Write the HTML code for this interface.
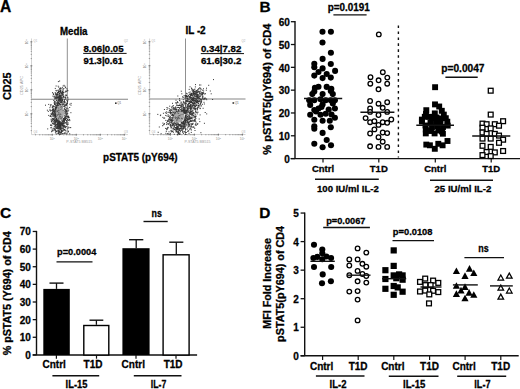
<!DOCTYPE html>
<html><head><meta charset="utf-8"><style>
html,body{margin:0;padding:0;background:#fff;overflow:hidden;width:520px;height:389px;}
svg{display:block;}
text{font-family:"Liberation Sans",sans-serif;}
</style></head><body>
<svg width="520" height="389" viewBox="0 0 520 389" font-family="Liberation Sans, sans-serif">
<defs><filter id="soft" x="-10%" y="-10%" width="120%" height="120%"><feGaussianBlur stdDeviation="0.4"/></filter></defs>
<rect width="520" height="389" fill="#fff"/>
<text x="0.1" y="11.7" font-size="15.6" text-anchor="start" font-weight="bold" fill="#000" stroke="#000" stroke-width="0.28" >A</text>
<line x1="31.5" y1="38.5" x2="31.5" y2="134.6" stroke="#c8c8c8" stroke-width="0.8" />
<line x1="31.5" y1="134.6" x2="128" y2="134.6" stroke="#c8c8c8" stroke-width="0.8" />
<line x1="30.7" y1="130.58" x2="32" y2="130.58" stroke="#8a8a8a" stroke-width="0.8" />
<line x1="35.52" y1="134.1" x2="35.52" y2="135.4" stroke="#8a8a8a" stroke-width="0.8" />
<line x1="30.7" y1="126.35" x2="32" y2="126.35" stroke="#8a8a8a" stroke-width="0.8" />
<line x1="39.75" y1="134.1" x2="39.75" y2="135.4" stroke="#8a8a8a" stroke-width="0.8" />
<line x1="30.7" y1="123.35" x2="32" y2="123.35" stroke="#8a8a8a" stroke-width="0.8" />
<line x1="42.75" y1="134.1" x2="42.75" y2="135.4" stroke="#8a8a8a" stroke-width="0.8" />
<line x1="30.7" y1="121.02" x2="32" y2="121.02" stroke="#8a8a8a" stroke-width="0.8" />
<line x1="45.08" y1="134.1" x2="45.08" y2="135.4" stroke="#8a8a8a" stroke-width="0.8" />
<line x1="30.7" y1="119.12" x2="32" y2="119.12" stroke="#8a8a8a" stroke-width="0.8" />
<line x1="46.98" y1="134.1" x2="46.98" y2="135.4" stroke="#8a8a8a" stroke-width="0.8" />
<line x1="30.7" y1="117.52" x2="32" y2="117.52" stroke="#8a8a8a" stroke-width="0.8" />
<line x1="48.58" y1="134.1" x2="48.58" y2="135.4" stroke="#8a8a8a" stroke-width="0.8" />
<line x1="30.7" y1="116.13" x2="32" y2="116.13" stroke="#8a8a8a" stroke-width="0.8" />
<line x1="49.97" y1="134.1" x2="49.97" y2="135.4" stroke="#8a8a8a" stroke-width="0.8" />
<line x1="30.7" y1="114.9" x2="32" y2="114.9" stroke="#8a8a8a" stroke-width="0.8" />
<line x1="51.2" y1="134.1" x2="51.2" y2="135.4" stroke="#8a8a8a" stroke-width="0.8" />
<line x1="30.4" y1="113.8" x2="32.3" y2="113.8" stroke="#555" stroke-width="0.8" />
<line x1="52.3" y1="133.8" x2="52.3" y2="135.7" stroke="#555" stroke-width="0.8" />
<line x1="30.7" y1="106.58" x2="32" y2="106.58" stroke="#8a8a8a" stroke-width="0.8" />
<line x1="59.52" y1="134.1" x2="59.52" y2="135.4" stroke="#8a8a8a" stroke-width="0.8" />
<line x1="30.7" y1="102.35" x2="32" y2="102.35" stroke="#8a8a8a" stroke-width="0.8" />
<line x1="63.75" y1="134.1" x2="63.75" y2="135.4" stroke="#8a8a8a" stroke-width="0.8" />
<line x1="30.7" y1="99.35" x2="32" y2="99.35" stroke="#8a8a8a" stroke-width="0.8" />
<line x1="66.75" y1="134.1" x2="66.75" y2="135.4" stroke="#8a8a8a" stroke-width="0.8" />
<line x1="30.7" y1="97.02" x2="32" y2="97.02" stroke="#8a8a8a" stroke-width="0.8" />
<line x1="69.08" y1="134.1" x2="69.08" y2="135.4" stroke="#8a8a8a" stroke-width="0.8" />
<line x1="30.7" y1="95.12" x2="32" y2="95.12" stroke="#8a8a8a" stroke-width="0.8" />
<line x1="70.98" y1="134.1" x2="70.98" y2="135.4" stroke="#8a8a8a" stroke-width="0.8" />
<line x1="30.7" y1="93.52" x2="32" y2="93.52" stroke="#8a8a8a" stroke-width="0.8" />
<line x1="72.58" y1="134.1" x2="72.58" y2="135.4" stroke="#8a8a8a" stroke-width="0.8" />
<line x1="30.7" y1="92.13" x2="32" y2="92.13" stroke="#8a8a8a" stroke-width="0.8" />
<line x1="73.97" y1="134.1" x2="73.97" y2="135.4" stroke="#8a8a8a" stroke-width="0.8" />
<line x1="30.7" y1="90.9" x2="32" y2="90.9" stroke="#8a8a8a" stroke-width="0.8" />
<line x1="75.2" y1="134.1" x2="75.2" y2="135.4" stroke="#8a8a8a" stroke-width="0.8" />
<line x1="30.4" y1="89.8" x2="32.3" y2="89.8" stroke="#555" stroke-width="0.8" />
<line x1="76.3" y1="133.8" x2="76.3" y2="135.7" stroke="#555" stroke-width="0.8" />
<line x1="30.7" y1="82.58" x2="32" y2="82.58" stroke="#8a8a8a" stroke-width="0.8" />
<line x1="83.52" y1="134.1" x2="83.52" y2="135.4" stroke="#8a8a8a" stroke-width="0.8" />
<line x1="30.7" y1="78.35" x2="32" y2="78.35" stroke="#8a8a8a" stroke-width="0.8" />
<line x1="87.75" y1="134.1" x2="87.75" y2="135.4" stroke="#8a8a8a" stroke-width="0.8" />
<line x1="30.7" y1="75.35" x2="32" y2="75.35" stroke="#8a8a8a" stroke-width="0.8" />
<line x1="90.75" y1="134.1" x2="90.75" y2="135.4" stroke="#8a8a8a" stroke-width="0.8" />
<line x1="30.7" y1="73.02" x2="32" y2="73.02" stroke="#8a8a8a" stroke-width="0.8" />
<line x1="93.08" y1="134.1" x2="93.08" y2="135.4" stroke="#8a8a8a" stroke-width="0.8" />
<line x1="30.7" y1="71.12" x2="32" y2="71.12" stroke="#8a8a8a" stroke-width="0.8" />
<line x1="94.98" y1="134.1" x2="94.98" y2="135.4" stroke="#8a8a8a" stroke-width="0.8" />
<line x1="30.7" y1="69.52" x2="32" y2="69.52" stroke="#8a8a8a" stroke-width="0.8" />
<line x1="96.58" y1="134.1" x2="96.58" y2="135.4" stroke="#8a8a8a" stroke-width="0.8" />
<line x1="30.7" y1="68.13" x2="32" y2="68.13" stroke="#8a8a8a" stroke-width="0.8" />
<line x1="97.97" y1="134.1" x2="97.97" y2="135.4" stroke="#8a8a8a" stroke-width="0.8" />
<line x1="30.7" y1="66.9" x2="32" y2="66.9" stroke="#8a8a8a" stroke-width="0.8" />
<line x1="99.2" y1="134.1" x2="99.2" y2="135.4" stroke="#8a8a8a" stroke-width="0.8" />
<line x1="30.4" y1="65.8" x2="32.3" y2="65.8" stroke="#555" stroke-width="0.8" />
<line x1="100.3" y1="133.8" x2="100.3" y2="135.7" stroke="#555" stroke-width="0.8" />
<line x1="30.7" y1="58.58" x2="32" y2="58.58" stroke="#8a8a8a" stroke-width="0.8" />
<line x1="107.52" y1="134.1" x2="107.52" y2="135.4" stroke="#8a8a8a" stroke-width="0.8" />
<line x1="30.7" y1="54.35" x2="32" y2="54.35" stroke="#8a8a8a" stroke-width="0.8" />
<line x1="111.75" y1="134.1" x2="111.75" y2="135.4" stroke="#8a8a8a" stroke-width="0.8" />
<line x1="30.7" y1="51.35" x2="32" y2="51.35" stroke="#8a8a8a" stroke-width="0.8" />
<line x1="114.75" y1="134.1" x2="114.75" y2="135.4" stroke="#8a8a8a" stroke-width="0.8" />
<line x1="30.7" y1="49.02" x2="32" y2="49.02" stroke="#8a8a8a" stroke-width="0.8" />
<line x1="117.08" y1="134.1" x2="117.08" y2="135.4" stroke="#8a8a8a" stroke-width="0.8" />
<line x1="30.7" y1="47.12" x2="32" y2="47.12" stroke="#8a8a8a" stroke-width="0.8" />
<line x1="118.98" y1="134.1" x2="118.98" y2="135.4" stroke="#8a8a8a" stroke-width="0.8" />
<line x1="30.7" y1="45.52" x2="32" y2="45.52" stroke="#8a8a8a" stroke-width="0.8" />
<line x1="120.58" y1="134.1" x2="120.58" y2="135.4" stroke="#8a8a8a" stroke-width="0.8" />
<line x1="30.7" y1="44.13" x2="32" y2="44.13" stroke="#8a8a8a" stroke-width="0.8" />
<line x1="121.97" y1="134.1" x2="121.97" y2="135.4" stroke="#8a8a8a" stroke-width="0.8" />
<line x1="30.7" y1="42.9" x2="32" y2="42.9" stroke="#8a8a8a" stroke-width="0.8" />
<line x1="123.2" y1="134.1" x2="123.2" y2="135.4" stroke="#8a8a8a" stroke-width="0.8" />
<line x1="30.4" y1="41.8" x2="32.3" y2="41.8" stroke="#555" stroke-width="0.8" />
<line x1="124.3" y1="133.8" x2="124.3" y2="135.7" stroke="#555" stroke-width="0.8" />
<line x1="67.3" y1="38.5" x2="67.3" y2="134.6" stroke="#909090" stroke-width="1.0" />
<line x1="31.5" y1="99.2" x2="128" y2="99.2" stroke="#858585" stroke-width="1.1" />
<text x="52.3" y="140.4" font-size="3.4" text-anchor="middle" fill="#8c8c8c">10<tspan font-size="2.4" dy="-1.2">1</tspan></text>
<text transform="translate(28.3,113.8) rotate(-90)" font-size="3.4" text-anchor="middle" fill="#8c8c8c">10<tspan font-size="2.4" dy="-1.2">1</tspan></text>
<text x="76.3" y="140.4" font-size="3.4" text-anchor="middle" fill="#8c8c8c">10<tspan font-size="2.4" dy="-1.2">2</tspan></text>
<text transform="translate(28.3,89.8) rotate(-90)" font-size="3.4" text-anchor="middle" fill="#8c8c8c">10<tspan font-size="2.4" dy="-1.2">2</tspan></text>
<text x="100.3" y="140.4" font-size="3.4" text-anchor="middle" fill="#8c8c8c">10<tspan font-size="2.4" dy="-1.2">3</tspan></text>
<text transform="translate(28.3,65.8) rotate(-90)" font-size="3.4" text-anchor="middle" fill="#8c8c8c">10<tspan font-size="2.4" dy="-1.2">3</tspan></text>
<text x="124.3" y="140.4" font-size="3.4" text-anchor="middle" fill="#8c8c8c">10<tspan font-size="2.4" dy="-1.2">4</tspan></text>
<text transform="translate(28.3,41.8) rotate(-90)" font-size="3.4" text-anchor="middle" fill="#8c8c8c">10<tspan font-size="2.4" dy="-1.2">4</tspan></text>
<text x="79.3" y="143.4" font-size="3.6" text-anchor="middle" fill="#999" textLength="26" lengthAdjust="spacingAndGlyphs">P-STAT5 BB515</text>
<text transform="translate(22.5,85.5) rotate(-90)" font-size="3.6" text-anchor="middle" fill="#999" textLength="19" lengthAdjust="spacingAndGlyphs">CD25 APC</text>
<text x="33.5" y="42.0" font-size="2.8" text-anchor="start" font-weight="normal" fill="#aaa" >Q1</text>
<text x="124" y="42.0" font-size="2.8" text-anchor="start" font-weight="normal" fill="#aaa" >Q2</text>
<text x="33.5" y="132.6" font-size="2.8" text-anchor="start" font-weight="normal" fill="#aaa" >Q4</text>
<text x="124" y="132.6" font-size="2.8" text-anchor="start" font-weight="normal" fill="#aaa" >Q3</text>
<rect x="115" y="102.4" width="1.6" height="1.6" fill="#333"/>
<text x="117.2" y="104.10000000000001" font-size="3" text-anchor="start" font-weight="normal" fill="#666" >Q1</text>
<g filter="url(#soft)">
<ellipse cx="59.7" cy="112.5" rx="4.369999999999999" ry="8.075" transform="rotate(0 59.7 112.5)" fill="#ababab"/>
<rect x="60.6" y="127.0" width="1.0" height="1.0" fill="#333"/>
<rect x="55.4" y="125.0" width="1.0" height="1.0" fill="#333"/>
<rect x="57.3" y="127.8" width="1.0" height="1.0" fill="#333"/>
<rect x="54.9" y="122.3" width="1.0" height="1.0" fill="#333"/>
<rect x="65.2" y="109.6" width="1.0" height="1.0" fill="#333"/>
<rect x="57.1" y="124.3" width="1.0" height="1.0" fill="#333"/>
<rect x="56.6" y="114.1" width="0.9" height="0.9" fill="#555"/>
<rect x="61.5" y="133.7" width="1.0" height="1.0" fill="#333"/>
<rect x="60.9" y="132.3" width="1.0" height="1.0" fill="#333"/>
<rect x="59.8" y="99.4" width="1.0" height="1.0" fill="#333"/>
<rect x="55.2" y="108.3" width="1.0" height="1.0" fill="#333"/>
<rect x="59.2" y="123.0" width="1.0" height="1.0" fill="#333"/>
<rect x="62.4" y="124.1" width="1.0" height="1.0" fill="#333"/>
<rect x="53.4" y="123.6" width="1.0" height="1.0" fill="#333"/>
<rect x="50.9" y="121.1" width="1.0" height="1.0" fill="#333"/>
<rect x="53.6" y="122.9" width="1.0" height="1.0" fill="#333"/>
<rect x="51.2" y="116.3" width="1.0" height="1.0" fill="#333"/>
<rect x="58.3" y="126.2" width="1.0" height="1.0" fill="#333"/>
<rect x="53.7" y="96.7" width="1.0" height="1.0" fill="#333"/>
<rect x="60.5" y="122.7" width="1.0" height="1.0" fill="#333"/>
<rect x="58.5" y="125.6" width="1.0" height="1.0" fill="#333"/>
<rect x="48.2" y="114.9" width="1.0" height="1.0" fill="#333"/>
<rect x="59.1" y="120.4" width="0.9" height="0.9" fill="#555"/>
<rect x="52.6" y="108.8" width="1.0" height="1.0" fill="#333"/>
<rect x="57.2" y="102.9" width="1.0" height="1.0" fill="#333"/>
<rect x="55.0" y="116.8" width="1.0" height="1.0" fill="#333"/>
<rect x="55.7" y="121.5" width="1.0" height="1.0" fill="#333"/>
<rect x="64.0" y="126.2" width="1.0" height="1.0" fill="#333"/>
<rect x="59.2" y="126.4" width="1.0" height="1.0" fill="#333"/>
<rect x="58.8" y="122.2" width="1.0" height="1.0" fill="#333"/>
<rect x="59.8" y="126.5" width="1.0" height="1.0" fill="#333"/>
<rect x="59.6" y="113.9" width="0.9" height="0.9" fill="#555"/>
<rect x="53.9" y="114.8" width="1.0" height="1.0" fill="#333"/>
<rect x="59.6" y="115.6" width="0.9" height="0.9" fill="#555"/>
<rect x="65.3" y="117.7" width="1.0" height="1.0" fill="#333"/>
<rect x="52.5" y="108.9" width="1.0" height="1.0" fill="#333"/>
<rect x="63.1" y="126.3" width="1.0" height="1.0" fill="#333"/>
<rect x="56.5" y="121.2" width="1.0" height="1.0" fill="#333"/>
<rect x="68.1" y="109.6" width="1.0" height="1.0" fill="#333"/>
<rect x="62.7" y="120.2" width="1.0" height="1.0" fill="#333"/>
<rect x="54.0" y="120.5" width="1.0" height="1.0" fill="#333"/>
<rect x="62.3" y="133.0" width="1.0" height="1.0" fill="#333"/>
<rect x="59.0" y="125.6" width="1.0" height="1.0" fill="#333"/>
<rect x="65.6" y="113.6" width="1.0" height="1.0" fill="#333"/>
<rect x="56.3" y="120.9" width="1.0" height="1.0" fill="#333"/>
<rect x="54.1" y="100.7" width="1.0" height="1.0" fill="#333"/>
<rect x="58.4" y="97.0" width="1.0" height="1.0" fill="#333"/>
<rect x="63.3" y="120.3" width="1.0" height="1.0" fill="#333"/>
<rect x="64.3" y="110.5" width="1.0" height="1.0" fill="#333"/>
<rect x="53.5" y="110.6" width="1.0" height="1.0" fill="#333"/>
<rect x="50.5" y="104.1" width="1.0" height="1.0" fill="#333"/>
<rect x="57.3" y="101.3" width="1.0" height="1.0" fill="#333"/>
<rect x="64.8" y="98.6" width="1.0" height="1.0" fill="#333"/>
<rect x="57.9" y="131.3" width="1.0" height="1.0" fill="#333"/>
<rect x="58.2" y="122.9" width="1.0" height="1.0" fill="#333"/>
<rect x="66.0" y="104.7" width="1.0" height="1.0" fill="#333"/>
<rect x="58.8" y="122.1" width="1.0" height="1.0" fill="#333"/>
<rect x="58.4" y="132.8" width="1.0" height="1.0" fill="#333"/>
<rect x="54.4" y="118.8" width="1.0" height="1.0" fill="#333"/>
<rect x="64.4" y="122.3" width="1.0" height="1.0" fill="#333"/>
<rect x="59.2" y="124.5" width="1.0" height="1.0" fill="#333"/>
<rect x="62.2" y="116.6" width="0.9" height="0.9" fill="#555"/>
<rect x="57.8" y="132.7" width="1.0" height="1.0" fill="#333"/>
<rect x="63.9" y="99.2" width="1.0" height="1.0" fill="#333"/>
<rect x="61.9" y="124.9" width="1.0" height="1.0" fill="#333"/>
<rect x="53.6" y="113.8" width="1.0" height="1.0" fill="#333"/>
<rect x="51.9" y="114.6" width="1.0" height="1.0" fill="#333"/>
<rect x="50.3" y="104.6" width="1.0" height="1.0" fill="#333"/>
<rect x="60.0" y="127.3" width="1.0" height="1.0" fill="#333"/>
<rect x="69.2" y="107.0" width="1.0" height="1.0" fill="#333"/>
<rect x="60.2" y="126.0" width="1.0" height="1.0" fill="#333"/>
<rect x="58.4" y="125.0" width="1.0" height="1.0" fill="#333"/>
<rect x="62.4" y="124.8" width="1.0" height="1.0" fill="#333"/>
<rect x="54.8" y="106.9" width="1.0" height="1.0" fill="#333"/>
<rect x="59.0" y="103.1" width="1.0" height="1.0" fill="#333"/>
<rect x="54.7" y="96.9" width="1.0" height="1.0" fill="#333"/>
<rect x="60.4" y="123.7" width="1.0" height="1.0" fill="#333"/>
<rect x="63.6" y="121.3" width="1.0" height="1.0" fill="#333"/>
<rect x="60.1" y="133.8" width="1.0" height="1.0" fill="#333"/>
<rect x="59.7" y="127.6" width="1.0" height="1.0" fill="#333"/>
<rect x="58.8" y="124.8" width="1.0" height="1.0" fill="#333"/>
<rect x="50.5" y="127.4" width="1.0" height="1.0" fill="#333"/>
<rect x="54.3" y="110.3" width="1.0" height="1.0" fill="#333"/>
<rect x="49.9" y="116.0" width="1.0" height="1.0" fill="#333"/>
<rect x="63.0" y="102.6" width="1.0" height="1.0" fill="#333"/>
<rect x="51.6" y="130.2" width="1.0" height="1.0" fill="#333"/>
<rect x="62.6" y="95.4" width="1.0" height="1.0" fill="#333"/>
<rect x="55.6" y="107.0" width="1.0" height="1.0" fill="#333"/>
<rect x="52.5" y="118.5" width="1.0" height="1.0" fill="#333"/>
<rect x="64.8" y="119.4" width="1.0" height="1.0" fill="#333"/>
<rect x="65.6" y="115.1" width="1.0" height="1.0" fill="#333"/>
<rect x="59.0" y="127.2" width="1.0" height="1.0" fill="#333"/>
<rect x="58.1" y="97.7" width="1.0" height="1.0" fill="#333"/>
<rect x="55.0" y="110.6" width="1.0" height="1.0" fill="#333"/>
<rect x="64.1" y="118.2" width="1.0" height="1.0" fill="#333"/>
<rect x="56.5" y="124.1" width="1.0" height="1.0" fill="#333"/>
<rect x="53.7" y="120.1" width="1.0" height="1.0" fill="#333"/>
<rect x="64.8" y="110.9" width="1.0" height="1.0" fill="#333"/>
<rect x="59.4" y="103.8" width="1.0" height="1.0" fill="#333"/>
<rect x="56.2" y="119.7" width="1.0" height="1.0" fill="#333"/>
<rect x="56.8" y="124.1" width="1.0" height="1.0" fill="#333"/>
<rect x="53.2" y="115.1" width="1.0" height="1.0" fill="#333"/>
<rect x="66.6" y="123.7" width="1.0" height="1.0" fill="#333"/>
<rect x="54.7" y="113.0" width="1.0" height="1.0" fill="#333"/>
<rect x="65.5" y="116.6" width="1.0" height="1.0" fill="#333"/>
<rect x="52.9" y="109.0" width="1.0" height="1.0" fill="#333"/>
<rect x="56.5" y="126.4" width="1.0" height="1.0" fill="#333"/>
<rect x="51.6" y="120.3" width="1.0" height="1.0" fill="#333"/>
<rect x="62.5" y="121.5" width="1.0" height="1.0" fill="#333"/>
<rect x="56.9" y="123.8" width="1.0" height="1.0" fill="#333"/>
<rect x="54.4" y="129.1" width="1.0" height="1.0" fill="#333"/>
<rect x="53.9" y="117.3" width="1.0" height="1.0" fill="#333"/>
<rect x="65.2" y="110.3" width="1.0" height="1.0" fill="#333"/>
<rect x="57.4" y="110.5" width="0.9" height="0.9" fill="#555"/>
<rect x="57.1" y="127.3" width="1.0" height="1.0" fill="#333"/>
<rect x="58.0" y="96.5" width="1.0" height="1.0" fill="#333"/>
<rect x="59.4" y="98.9" width="1.0" height="1.0" fill="#333"/>
<rect x="64.5" y="116.6" width="1.0" height="1.0" fill="#333"/>
<rect x="62.3" y="126.5" width="1.0" height="1.0" fill="#333"/>
<rect x="61.0" y="122.8" width="1.0" height="1.0" fill="#333"/>
<rect x="56.8" y="105.0" width="1.0" height="1.0" fill="#333"/>
<rect x="53.2" y="110.1" width="1.0" height="1.0" fill="#333"/>
<rect x="63.5" y="133.0" width="1.0" height="1.0" fill="#333"/>
<rect x="63.6" y="119.9" width="1.0" height="1.0" fill="#333"/>
<rect x="61.7" y="126.5" width="1.0" height="1.0" fill="#333"/>
<rect x="63.0" y="128.7" width="1.0" height="1.0" fill="#333"/>
<rect x="63.4" y="118.3" width="1.0" height="1.0" fill="#333"/>
<rect x="57.3" y="120.2" width="1.0" height="1.0" fill="#333"/>
<rect x="66.0" y="122.6" width="1.0" height="1.0" fill="#333"/>
<rect x="53.8" y="111.5" width="1.0" height="1.0" fill="#333"/>
<rect x="61.5" y="117.5" width="0.9" height="0.9" fill="#555"/>
<rect x="67.6" y="116.4" width="1.0" height="1.0" fill="#333"/>
<rect x="65.8" y="117.9" width="1.0" height="1.0" fill="#333"/>
<rect x="51.9" y="109.3" width="1.0" height="1.0" fill="#333"/>
<rect x="54.8" y="115.5" width="1.0" height="1.0" fill="#333"/>
<rect x="63.0" y="126.4" width="1.0" height="1.0" fill="#333"/>
<rect x="52.1" y="112.6" width="1.0" height="1.0" fill="#333"/>
<rect x="50.0" y="109.6" width="1.0" height="1.0" fill="#333"/>
<rect x="60.4" y="102.2" width="1.0" height="1.0" fill="#333"/>
<rect x="58.2" y="121.8" width="1.0" height="1.0" fill="#333"/>
<rect x="55.5" y="107.9" width="1.0" height="1.0" fill="#333"/>
<rect x="52.6" y="113.6" width="1.0" height="1.0" fill="#333"/>
<rect x="58.6" y="117.3" width="0.9" height="0.9" fill="#555"/>
<rect x="55.0" y="121.5" width="1.0" height="1.0" fill="#333"/>
<rect x="52.1" y="111.7" width="1.0" height="1.0" fill="#333"/>
<rect x="59.0" y="100.6" width="1.0" height="1.0" fill="#333"/>
<rect x="54.9" y="131.6" width="1.0" height="1.0" fill="#333"/>
<rect x="56.4" y="97.3" width="1.0" height="1.0" fill="#333"/>
<rect x="54.9" y="114.0" width="1.0" height="1.0" fill="#333"/>
<rect x="55.4" y="119.0" width="1.0" height="1.0" fill="#333"/>
<rect x="68.2" y="116.3" width="1.0" height="1.0" fill="#333"/>
<rect x="53.2" y="100.1" width="1.0" height="1.0" fill="#333"/>
<rect x="52.9" y="119.0" width="1.0" height="1.0" fill="#333"/>
<rect x="57.3" y="122.8" width="1.0" height="1.0" fill="#333"/>
<rect x="62.6" y="125.1" width="1.0" height="1.0" fill="#333"/>
<rect x="59.7" y="125.3" width="1.0" height="1.0" fill="#333"/>
<rect x="58.0" y="127.6" width="1.0" height="1.0" fill="#333"/>
<rect x="64.4" y="127.2" width="1.0" height="1.0" fill="#333"/>
<rect x="59.2" y="129.5" width="1.0" height="1.0" fill="#333"/>
<rect x="49.6" y="115.7" width="1.0" height="1.0" fill="#333"/>
<rect x="50.6" y="124.4" width="1.0" height="1.0" fill="#333"/>
<rect x="45.0" y="104.7" width="1.0" height="1.0" fill="#333"/>
<rect x="65.2" y="112.2" width="1.0" height="1.0" fill="#333"/>
<rect x="54.1" y="101.3" width="1.0" height="1.0" fill="#333"/>
<rect x="55.2" y="109.0" width="1.0" height="1.0" fill="#333"/>
<rect x="64.3" y="116.8" width="1.0" height="1.0" fill="#333"/>
<rect x="60.0" y="125.0" width="1.0" height="1.0" fill="#333"/>
<rect x="59.5" y="125.9" width="1.0" height="1.0" fill="#333"/>
<rect x="61.7" y="120.6" width="1.0" height="1.0" fill="#333"/>
<rect x="54.7" y="122.5" width="1.0" height="1.0" fill="#333"/>
<rect x="61.5" y="132.8" width="1.0" height="1.0" fill="#333"/>
<rect x="64.1" y="103.5" width="1.0" height="1.0" fill="#333"/>
<rect x="53.7" y="109.3" width="1.0" height="1.0" fill="#333"/>
<rect x="58.7" y="103.9" width="1.0" height="1.0" fill="#333"/>
<rect x="53.5" y="128.7" width="1.0" height="1.0" fill="#333"/>
<rect x="66.9" y="119.0" width="1.0" height="1.0" fill="#333"/>
<rect x="65.7" y="103.3" width="1.0" height="1.0" fill="#333"/>
<rect x="57.3" y="122.9" width="1.0" height="1.0" fill="#333"/>
<rect x="62.7" y="128.3" width="1.0" height="1.0" fill="#333"/>
<rect x="47.8" y="110.9" width="1.0" height="1.0" fill="#333"/>
<rect x="59.7" y="122.8" width="1.0" height="1.0" fill="#333"/>
<rect x="54.6" y="127.6" width="1.0" height="1.0" fill="#333"/>
<rect x="58.1" y="127.9" width="1.0" height="1.0" fill="#333"/>
<rect x="58.5" y="127.7" width="1.0" height="1.0" fill="#333"/>
<rect x="64.5" y="129.3" width="1.0" height="1.0" fill="#333"/>
<rect x="60.8" y="123.0" width="1.0" height="1.0" fill="#333"/>
<rect x="59.3" y="103.2" width="1.0" height="1.0" fill="#333"/>
<rect x="66.0" y="115.8" width="1.0" height="1.0" fill="#333"/>
<rect x="56.9" y="119.8" width="1.0" height="1.0" fill="#333"/>
<rect x="51.3" y="125.2" width="1.0" height="1.0" fill="#333"/>
<rect x="66.2" y="113.8" width="1.0" height="1.0" fill="#333"/>
<rect x="63.3" y="130.0" width="1.0" height="1.0" fill="#333"/>
<rect x="62.2" y="123.0" width="1.0" height="1.0" fill="#333"/>
<rect x="60.2" y="125.3" width="1.0" height="1.0" fill="#333"/>
<rect x="58.2" y="126.6" width="1.0" height="1.0" fill="#333"/>
<rect x="58.4" y="120.1" width="0.9" height="0.9" fill="#555"/>
<rect x="59.5" y="94.9" width="1.0" height="1.0" fill="#333"/>
<rect x="66.0" y="110.9" width="1.0" height="1.0" fill="#333"/>
<rect x="56.5" y="127.7" width="1.0" height="1.0" fill="#333"/>
<rect x="66.4" y="112.6" width="1.0" height="1.0" fill="#333"/>
<rect x="61.5" y="106.8" width="0.9" height="0.9" fill="#555"/>
<rect x="54.4" y="105.9" width="1.0" height="1.0" fill="#333"/>
<rect x="63.1" y="120.8" width="1.0" height="1.0" fill="#333"/>
<rect x="58.3" y="124.1" width="1.0" height="1.0" fill="#333"/>
<rect x="52.3" y="118.6" width="1.0" height="1.0" fill="#333"/>
<rect x="58.3" y="123.9" width="1.0" height="1.0" fill="#333"/>
<rect x="63.2" y="120.0" width="1.0" height="1.0" fill="#333"/>
<rect x="66.0" y="110.6" width="1.0" height="1.0" fill="#333"/>
<rect x="57.9" y="129.5" width="1.0" height="1.0" fill="#333"/>
<rect x="59.3" y="123.5" width="1.0" height="1.0" fill="#333"/>
<rect x="54.9" y="125.0" width="1.0" height="1.0" fill="#333"/>
<rect x="61.3" y="128.4" width="1.0" height="1.0" fill="#333"/>
<rect x="68.2" y="120.0" width="1.0" height="1.0" fill="#333"/>
<rect x="58.4" y="112.2" width="0.9" height="0.9" fill="#555"/>
<rect x="54.7" y="121.6" width="1.0" height="1.0" fill="#333"/>
<rect x="60.7" y="122.2" width="1.0" height="1.0" fill="#333"/>
<rect x="53.8" y="129.6" width="1.0" height="1.0" fill="#333"/>
<rect x="54.4" y="120.8" width="1.0" height="1.0" fill="#333"/>
<rect x="64.9" y="126.5" width="1.0" height="1.0" fill="#333"/>
<rect x="55.3" y="130.7" width="1.0" height="1.0" fill="#333"/>
<rect x="64.1" y="118.5" width="1.0" height="1.0" fill="#333"/>
<rect x="66.0" y="103.6" width="1.0" height="1.0" fill="#333"/>
<rect x="61.7" y="104.1" width="1.0" height="1.0" fill="#333"/>
<rect x="67.9" y="131.3" width="1.0" height="1.0" fill="#333"/>
<rect x="56.7" y="128.1" width="1.0" height="1.0" fill="#333"/>
<rect x="53.3" y="122.3" width="1.0" height="1.0" fill="#333"/>
<rect x="59.5" y="132.4" width="1.0" height="1.0" fill="#333"/>
<rect x="65.8" y="126.0" width="1.0" height="1.0" fill="#333"/>
<rect x="55.2" y="115.2" width="1.0" height="1.0" fill="#333"/>
<rect x="55.5" y="117.8" width="1.0" height="1.0" fill="#333"/>
<rect x="60.2" y="131.5" width="1.0" height="1.0" fill="#333"/>
<rect x="60.6" y="101.7" width="1.0" height="1.0" fill="#333"/>
<rect x="58.9" y="124.6" width="1.0" height="1.0" fill="#333"/>
<rect x="67.5" y="124.0" width="1.0" height="1.0" fill="#333"/>
<rect x="61.9" y="102.7" width="1.0" height="1.0" fill="#333"/>
<rect x="59.5" y="127.0" width="1.0" height="1.0" fill="#333"/>
<rect x="51.9" y="111.6" width="1.0" height="1.0" fill="#333"/>
<rect x="61.0" y="122.6" width="1.0" height="1.0" fill="#333"/>
<rect x="50.7" y="118.6" width="1.0" height="1.0" fill="#333"/>
<rect x="53.1" y="93.7" width="1.0" height="1.0" fill="#333"/>
<rect x="58.6" y="131.0" width="1.0" height="1.0" fill="#333"/>
<rect x="51.8" y="119.6" width="1.0" height="1.0" fill="#333"/>
<rect x="57.7" y="119.3" width="0.9" height="0.9" fill="#555"/>
<rect x="56.3" y="104.3" width="1.0" height="1.0" fill="#333"/>
<rect x="62.1" y="129.9" width="1.0" height="1.0" fill="#333"/>
<rect x="69.2" y="133.3" width="1.0" height="1.0" fill="#333"/>
<rect x="54.1" y="102.4" width="1.0" height="1.0" fill="#333"/>
<rect x="59.1" y="124.9" width="1.0" height="1.0" fill="#333"/>
<rect x="54.2" y="123.5" width="1.0" height="1.0" fill="#333"/>
<rect x="59.8" y="128.4" width="1.0" height="1.0" fill="#333"/>
<rect x="54.2" y="121.9" width="1.0" height="1.0" fill="#333"/>
<rect x="64.2" y="108.1" width="1.0" height="1.0" fill="#333"/>
<rect x="64.0" y="129.0" width="1.0" height="1.0" fill="#333"/>
<rect x="64.1" y="105.9" width="1.0" height="1.0" fill="#333"/>
<rect x="58.7" y="124.9" width="1.0" height="1.0" fill="#333"/>
<rect x="57.6" y="120.7" width="1.0" height="1.0" fill="#333"/>
<rect x="57.8" y="120.5" width="1.0" height="1.0" fill="#333"/>
<rect x="53.6" y="110.1" width="1.0" height="1.0" fill="#333"/>
<rect x="52.9" y="105.4" width="1.0" height="1.0" fill="#333"/>
<rect x="63.7" y="105.6" width="1.0" height="1.0" fill="#333"/>
<rect x="51.7" y="112.6" width="1.0" height="1.0" fill="#333"/>
<rect x="55.8" y="100.3" width="1.0" height="1.0" fill="#333"/>
<rect x="61.0" y="102.3" width="1.0" height="1.0" fill="#333"/>
<rect x="63.8" y="120.7" width="1.0" height="1.0" fill="#333"/>
<rect x="54.0" y="103.5" width="1.0" height="1.0" fill="#333"/>
<rect x="62.8" y="125.2" width="1.0" height="1.0" fill="#333"/>
<rect x="50.9" y="114.1" width="1.0" height="1.0" fill="#333"/>
<rect x="65.2" y="132.4" width="1.0" height="1.0" fill="#333"/>
<rect x="65.2" y="106.6" width="1.0" height="1.0" fill="#333"/>
<rect x="57.6" y="105.1" width="0.9" height="0.9" fill="#555"/>
<rect x="54.3" y="119.7" width="1.0" height="1.0" fill="#333"/>
<rect x="70.5" y="104.7" width="1.0" height="1.0" fill="#333"/>
<rect x="66.3" y="121.8" width="1.0" height="1.0" fill="#333"/>
<rect x="56.5" y="122.2" width="1.0" height="1.0" fill="#333"/>
<rect x="51.9" y="122.6" width="1.0" height="1.0" fill="#333"/>
<rect x="57.6" y="122.1" width="1.0" height="1.0" fill="#333"/>
<rect x="63.6" y="101.0" width="1.0" height="1.0" fill="#333"/>
<rect x="53.8" y="114.2" width="1.0" height="1.0" fill="#333"/>
<rect x="64.0" y="120.7" width="1.0" height="1.0" fill="#333"/>
<rect x="54.7" y="97.7" width="1.0" height="1.0" fill="#333"/>
<rect x="57.3" y="123.8" width="1.0" height="1.0" fill="#333"/>
<rect x="59.1" y="131.2" width="1.0" height="1.0" fill="#333"/>
<rect x="56.9" y="97.3" width="1.0" height="1.0" fill="#333"/>
<rect x="54.8" y="125.6" width="1.0" height="1.0" fill="#333"/>
<rect x="53.6" y="128.1" width="1.0" height="1.0" fill="#333"/>
<rect x="59.1" y="125.8" width="1.0" height="1.0" fill="#333"/>
<rect x="63.2" y="118.3" width="1.0" height="1.0" fill="#333"/>
<rect x="52.6" y="106.5" width="1.0" height="1.0" fill="#333"/>
<rect x="59.3" y="122.6" width="1.0" height="1.0" fill="#333"/>
<rect x="55.0" y="94.3" width="1.0" height="1.0" fill="#333"/>
<rect x="57.0" y="123.4" width="1.0" height="1.0" fill="#333"/>
<rect x="65.9" y="133.4" width="1.0" height="1.0" fill="#333"/>
<rect x="61.0" y="130.2" width="1.0" height="1.0" fill="#333"/>
<rect x="58.3" y="131.3" width="1.0" height="1.0" fill="#333"/>
<rect x="56.0" y="131.0" width="1.0" height="1.0" fill="#333"/>
<rect x="59.1" y="97.2" width="1.0" height="1.0" fill="#333"/>
<rect x="54.5" y="101.7" width="1.0" height="1.0" fill="#333"/>
<rect x="55.3" y="116.0" width="1.0" height="1.0" fill="#333"/>
<rect x="51.7" y="128.7" width="1.0" height="1.0" fill="#333"/>
<rect x="54.5" y="127.9" width="1.0" height="1.0" fill="#333"/>
<rect x="51.4" y="110.0" width="1.0" height="1.0" fill="#333"/>
<rect x="64.2" y="125.2" width="1.0" height="1.0" fill="#333"/>
<rect x="52.6" y="105.8" width="1.0" height="1.0" fill="#333"/>
<rect x="54.5" y="114.5" width="1.0" height="1.0" fill="#333"/>
<rect x="56.0" y="105.1" width="1.0" height="1.0" fill="#333"/>
<rect x="54.3" y="118.1" width="1.0" height="1.0" fill="#333"/>
<rect x="61.0" y="131.7" width="1.0" height="1.0" fill="#333"/>
<rect x="56.1" y="119.0" width="1.0" height="1.0" fill="#333"/>
<rect x="56.0" y="106.7" width="1.0" height="1.0" fill="#333"/>
<rect x="61.2" y="105.9" width="0.9" height="0.9" fill="#555"/>
<rect x="55.0" y="130.1" width="1.0" height="1.0" fill="#333"/>
<rect x="51.2" y="121.3" width="1.0" height="1.0" fill="#333"/>
<rect x="67.5" y="110.6" width="1.0" height="1.0" fill="#333"/>
<rect x="57.9" y="123.3" width="1.0" height="1.0" fill="#333"/>
<rect x="60.4" y="114.0" width="0.9" height="0.9" fill="#555"/>
<rect x="59.2" y="124.2" width="1.0" height="1.0" fill="#333"/>
<rect x="67.7" y="122.5" width="1.0" height="1.0" fill="#333"/>
<rect x="54.7" y="111.8" width="1.0" height="1.0" fill="#333"/>
<rect x="52.4" y="113.4" width="1.0" height="1.0" fill="#333"/>
<rect x="54.8" y="101.5" width="1.0" height="1.0" fill="#333"/>
<rect x="53.4" y="113.0" width="1.0" height="1.0" fill="#333"/>
<rect x="62.6" y="104.2" width="1.0" height="1.0" fill="#333"/>
<rect x="55.1" y="108.4" width="1.0" height="1.0" fill="#333"/>
<rect x="53.2" y="117.9" width="1.0" height="1.0" fill="#333"/>
<rect x="57.7" y="121.1" width="1.0" height="1.0" fill="#333"/>
<rect x="65.4" y="104.2" width="1.0" height="1.0" fill="#333"/>
<rect x="46.9" y="109.7" width="1.0" height="1.0" fill="#333"/>
<rect x="54.6" y="123.7" width="1.0" height="1.0" fill="#333"/>
<rect x="63.9" y="132.4" width="1.0" height="1.0" fill="#333"/>
<rect x="54.6" y="124.7" width="1.0" height="1.0" fill="#333"/>
<rect x="58.0" y="113.9" width="0.9" height="0.9" fill="#555"/>
<rect x="52.7" y="130.2" width="1.0" height="1.0" fill="#333"/>
<rect x="55.0" y="103.4" width="1.0" height="1.0" fill="#333"/>
<rect x="65.4" y="130.5" width="1.0" height="1.0" fill="#333"/>
<rect x="57.5" y="92.0" width="1.0" height="1.0" fill="#333"/>
<rect x="51.0" y="131.2" width="1.0" height="1.0" fill="#333"/>
<rect x="54.4" y="103.7" width="1.0" height="1.0" fill="#333"/>
<rect x="59.1" y="121.2" width="1.0" height="1.0" fill="#333"/>
<rect x="65.0" y="119.0" width="1.0" height="1.0" fill="#333"/>
<rect x="67.5" y="127.8" width="1.0" height="1.0" fill="#333"/>
<rect x="56.6" y="119.3" width="1.0" height="1.0" fill="#333"/>
<rect x="56.0" y="99.8" width="1.0" height="1.0" fill="#333"/>
<rect x="54.7" y="129.0" width="1.0" height="1.0" fill="#333"/>
<rect x="58.8" y="121.8" width="1.0" height="1.0" fill="#333"/>
<rect x="60.4" y="116.4" width="0.9" height="0.9" fill="#555"/>
<rect x="58.3" y="112.6" width="0.9" height="0.9" fill="#555"/>
<rect x="56.9" y="123.8" width="1.0" height="1.0" fill="#333"/>
<rect x="60.3" y="122.9" width="1.0" height="1.0" fill="#333"/>
<rect x="53.3" y="108.8" width="1.0" height="1.0" fill="#333"/>
<rect x="53.4" y="116.1" width="1.0" height="1.0" fill="#333"/>
<rect x="56.6" y="126.3" width="1.0" height="1.0" fill="#333"/>
<rect x="50.2" y="124.6" width="1.0" height="1.0" fill="#333"/>
<rect x="55.0" y="113.4" width="1.0" height="1.0" fill="#333"/>
<rect x="56.9" y="123.7" width="1.0" height="1.0" fill="#333"/>
<rect x="59.7" y="113.4" width="0.9" height="0.9" fill="#555"/>
<rect x="54.0" y="115.2" width="1.0" height="1.0" fill="#333"/>
<rect x="59.9" y="131.8" width="1.0" height="1.0" fill="#333"/>
<rect x="58.7" y="121.6" width="1.0" height="1.0" fill="#333"/>
<rect x="57.4" y="133.1" width="1.0" height="1.0" fill="#333"/>
<rect x="61.7" y="124.2" width="1.0" height="1.0" fill="#333"/>
<rect x="52.0" y="130.4" width="1.0" height="1.0" fill="#333"/>
<rect x="60.4" y="123.5" width="1.0" height="1.0" fill="#333"/>
<rect x="56.4" y="127.6" width="1.0" height="1.0" fill="#333"/>
<rect x="58.2" y="132.3" width="1.0" height="1.0" fill="#333"/>
<rect x="62.1" y="120.8" width="1.0" height="1.0" fill="#333"/>
<rect x="61.2" y="123.9" width="1.0" height="1.0" fill="#333"/>
<rect x="60.2" y="128.5" width="1.0" height="1.0" fill="#333"/>
<rect x="52.6" y="111.0" width="1.0" height="1.0" fill="#333"/>
<rect x="61.7" y="120.8" width="1.0" height="1.0" fill="#333"/>
<rect x="64.4" y="109.0" width="1.0" height="1.0" fill="#333"/>
<rect x="52.4" y="115.7" width="1.0" height="1.0" fill="#333"/>
<rect x="63.4" y="118.3" width="1.0" height="1.0" fill="#333"/>
<rect x="58.7" y="121.2" width="1.0" height="1.0" fill="#333"/>
<rect x="48.2" y="103.9" width="1.0" height="1.0" fill="#333"/>
<rect x="52.7" y="127.7" width="1.0" height="1.0" fill="#333"/>
<rect x="53.6" y="123.7" width="1.0" height="1.0" fill="#333"/>
<rect x="64.9" y="116.2" width="1.0" height="1.0" fill="#333"/>
<rect x="57.7" y="122.1" width="1.0" height="1.0" fill="#333"/>
<rect x="67.0" y="101.5" width="1.0" height="1.0" fill="#333"/>
<rect x="66.3" y="123.8" width="1.0" height="1.0" fill="#333"/>
<rect x="58.2" y="100.0" width="1.0" height="1.0" fill="#333"/>
<rect x="53.8" y="126.2" width="1.0" height="1.0" fill="#333"/>
<rect x="56.2" y="120.4" width="1.0" height="1.0" fill="#333"/>
<rect x="61.0" y="129.7" width="1.0" height="1.0" fill="#333"/>
<rect x="63.7" y="118.5" width="1.0" height="1.0" fill="#333"/>
<rect x="55.9" y="130.5" width="1.0" height="1.0" fill="#333"/>
<rect x="61.0" y="131.3" width="1.0" height="1.0" fill="#333"/>
<rect x="60.9" y="125.1" width="1.0" height="1.0" fill="#333"/>
<rect x="54.9" y="105.4" width="1.0" height="1.0" fill="#333"/>
<rect x="52.1" y="123.2" width="1.0" height="1.0" fill="#333"/>
<rect x="59.1" y="93.1" width="1.0" height="1.0" fill="#333"/>
<rect x="51.8" y="107.1" width="1.0" height="1.0" fill="#333"/>
<rect x="56.7" y="131.2" width="1.0" height="1.0" fill="#333"/>
<rect x="55.5" y="106.7" width="1.0" height="1.0" fill="#333"/>
<rect x="49.4" y="107.2" width="1.0" height="1.0" fill="#333"/>
<rect x="57.8" y="130.3" width="1.0" height="1.0" fill="#333"/>
<rect x="63.2" y="118.1" width="1.0" height="1.0" fill="#333"/>
<rect x="61.0" y="131.3" width="1.0" height="1.0" fill="#333"/>
<rect x="56.7" y="120.0" width="1.0" height="1.0" fill="#333"/>
<rect x="47.2" y="128.4" width="1.0" height="1.0" fill="#333"/>
<rect x="58.8" y="125.7" width="1.0" height="1.0" fill="#333"/>
<rect x="66.8" y="116.0" width="1.0" height="1.0" fill="#333"/>
<rect x="64.3" y="111.6" width="1.0" height="1.0" fill="#333"/>
<rect x="59.1" y="123.7" width="1.0" height="1.0" fill="#333"/>
<rect x="63.3" y="122.9" width="1.0" height="1.0" fill="#333"/>
<rect x="67.9" y="115.7" width="1.0" height="1.0" fill="#333"/>
<rect x="60.2" y="101.5" width="1.0" height="1.0" fill="#333"/>
<rect x="65.2" y="105.0" width="1.0" height="1.0" fill="#333"/>
<rect x="59.2" y="124.4" width="1.0" height="1.0" fill="#333"/>
<rect x="65.8" y="112.6" width="1.0" height="1.0" fill="#333"/>
<rect x="55.0" y="120.5" width="1.0" height="1.0" fill="#333"/>
<rect x="58.5" y="128.3" width="1.0" height="1.0" fill="#333"/>
<rect x="58.4" y="123.0" width="1.0" height="1.0" fill="#333"/>
<rect x="52.7" y="123.2" width="1.0" height="1.0" fill="#333"/>
<rect x="60.8" y="123.8" width="1.0" height="1.0" fill="#333"/>
<rect x="56.4" y="120.8" width="1.0" height="1.0" fill="#333"/>
<rect x="52.6" y="109.1" width="1.0" height="1.0" fill="#333"/>
<rect x="63.9" y="117.7" width="1.0" height="1.0" fill="#333"/>
<rect x="61.5" y="98.8" width="1.0" height="1.0" fill="#333"/>
<rect x="64.1" y="101.8" width="1.0" height="1.0" fill="#333"/>
<rect x="55.5" y="116.6" width="1.0" height="1.0" fill="#333"/>
<rect x="60.2" y="117.9" width="0.9" height="0.9" fill="#555"/>
<rect x="56.2" y="106.5" width="1.0" height="1.0" fill="#333"/>
<rect x="62.3" y="122.9" width="1.0" height="1.0" fill="#333"/>
<rect x="55.2" y="114.9" width="1.0" height="1.0" fill="#333"/>
<rect x="59.6" y="129.1" width="1.0" height="1.0" fill="#333"/>
<rect x="56.5" y="126.9" width="1.0" height="1.0" fill="#333"/>
<rect x="64.6" y="114.3" width="1.0" height="1.0" fill="#333"/>
<rect x="69.1" y="119.0" width="1.0" height="1.0" fill="#333"/>
<rect x="68.1" y="126.7" width="1.0" height="1.0" fill="#333"/>
<rect x="59.6" y="96.6" width="1.0" height="1.0" fill="#333"/>
<rect x="66.0" y="107.7" width="1.0" height="1.0" fill="#333"/>
<rect x="55.0" y="109.1" width="1.0" height="1.0" fill="#333"/>
<rect x="59.8" y="109.2" width="0.9" height="0.9" fill="#555"/>
<rect x="61.3" y="119.8" width="0.9" height="0.9" fill="#555"/>
<rect x="52.1" y="118.1" width="1.0" height="1.0" fill="#333"/>
<rect x="53.0" y="120.7" width="1.0" height="1.0" fill="#333"/>
<rect x="56.0" y="118.2" width="1.0" height="1.0" fill="#333"/>
<rect x="58.7" y="132.1" width="1.0" height="1.0" fill="#333"/>
<rect x="55.4" y="119.5" width="1.0" height="1.0" fill="#333"/>
<rect x="57.7" y="124.9" width="1.0" height="1.0" fill="#333"/>
<rect x="54.8" y="109.5" width="1.0" height="1.0" fill="#333"/>
<rect x="64.3" y="115.1" width="1.0" height="1.0" fill="#333"/>
<rect x="59.2" y="127.2" width="1.0" height="1.0" fill="#333"/>
<rect x="58.3" y="107.6" width="0.9" height="0.9" fill="#555"/>
<rect x="52.3" y="112.3" width="1.0" height="1.0" fill="#333"/>
<rect x="70.4" y="112.2" width="1.0" height="1.0" fill="#333"/>
<rect x="62.4" y="122.9" width="1.0" height="1.0" fill="#333"/>
<rect x="68.4" y="118.7" width="1.0" height="1.0" fill="#333"/>
<rect x="64.6" y="130.0" width="1.0" height="1.0" fill="#333"/>
<rect x="61.5" y="119.5" width="0.9" height="0.9" fill="#555"/>
<rect x="62.3" y="122.5" width="1.0" height="1.0" fill="#333"/>
<rect x="57.1" y="104.0" width="1.0" height="1.0" fill="#333"/>
<rect x="67.8" y="115.9" width="1.0" height="1.0" fill="#333"/>
<rect x="66.8" y="116.4" width="1.0" height="1.0" fill="#333"/>
<rect x="62.3" y="97.6" width="1.0" height="1.0" fill="#333"/>
<rect x="50.4" y="124.9" width="1.0" height="1.0" fill="#333"/>
<rect x="57.8" y="120.7" width="1.0" height="1.0" fill="#333"/>
<rect x="51.9" y="105.6" width="1.0" height="1.0" fill="#333"/>
<rect x="56.0" y="119.6" width="1.0" height="1.0" fill="#333"/>
<rect x="49.1" y="109.5" width="1.0" height="1.0" fill="#333"/>
<rect x="64.7" y="116.5" width="1.0" height="1.0" fill="#333"/>
<rect x="60.4" y="127.6" width="1.0" height="1.0" fill="#333"/>
<rect x="64.2" y="107.5" width="1.0" height="1.0" fill="#333"/>
<rect x="68.0" y="130.7" width="1.0" height="1.0" fill="#333"/>
<rect x="59.4" y="124.6" width="1.0" height="1.0" fill="#333"/>
<rect x="51.4" y="112.9" width="1.0" height="1.0" fill="#333"/>
<rect x="55.4" y="124.0" width="1.0" height="1.0" fill="#333"/>
<rect x="54.0" y="103.8" width="1.0" height="1.0" fill="#333"/>
<rect x="57.1" y="101.4" width="1.0" height="1.0" fill="#333"/>
<rect x="50.5" y="113.3" width="1.0" height="1.0" fill="#333"/>
<rect x="52.7" y="112.4" width="1.0" height="1.0" fill="#333"/>
<rect x="58.8" y="97.8" width="1.0" height="1.0" fill="#333"/>
<rect x="57.9" y="121.5" width="1.0" height="1.0" fill="#333"/>
<rect x="59.0" y="104.2" width="0.9" height="0.9" fill="#555"/>
<rect x="56.9" y="111.1" width="0.9" height="0.9" fill="#555"/>
<rect x="51.9" y="106.6" width="1.0" height="1.0" fill="#333"/>
<rect x="67.4" y="107.9" width="1.0" height="1.0" fill="#333"/>
<rect x="68.0" y="116.9" width="1.0" height="1.0" fill="#333"/>
<rect x="65.1" y="122.3" width="1.0" height="1.0" fill="#333"/>
<rect x="62.4" y="122.1" width="1.0" height="1.0" fill="#333"/>
<rect x="65.6" y="109.9" width="1.0" height="1.0" fill="#333"/>
<rect x="59.0" y="121.0" width="1.0" height="1.0" fill="#333"/>
<rect x="58.0" y="98.7" width="1.0" height="1.0" fill="#333"/>
<rect x="59.7" y="128.1" width="1.0" height="1.0" fill="#333"/>
<rect x="54.5" y="120.1" width="1.0" height="1.0" fill="#333"/>
<rect x="57.7" y="126.3" width="1.0" height="1.0" fill="#333"/>
<rect x="69.3" y="120.1" width="1.0" height="1.0" fill="#333"/>
<rect x="59.0" y="126.5" width="1.0" height="1.0" fill="#333"/>
<rect x="58.2" y="118.2" width="0.9" height="0.9" fill="#555"/>
<rect x="61.6" y="128.1" width="1.0" height="1.0" fill="#333"/>
<rect x="62.4" y="128.2" width="1.0" height="1.0" fill="#333"/>
<rect x="54.4" y="116.1" width="1.0" height="1.0" fill="#333"/>
<rect x="58.4" y="130.0" width="1.0" height="1.0" fill="#333"/>
<rect x="63.3" y="118.5" width="1.0" height="1.0" fill="#333"/>
<rect x="66.1" y="114.4" width="1.0" height="1.0" fill="#333"/>
<rect x="56.3" y="124.0" width="1.0" height="1.0" fill="#333"/>
<rect x="57.0" y="122.8" width="1.0" height="1.0" fill="#333"/>
<rect x="65.9" y="120.1" width="1.0" height="1.0" fill="#333"/>
<rect x="50.7" y="119.5" width="1.0" height="1.0" fill="#333"/>
<rect x="56.4" y="97.1" width="1.0" height="1.0" fill="#333"/>
<rect x="62.2" y="122.8" width="1.0" height="1.0" fill="#333"/>
<rect x="65.4" y="117.8" width="1.0" height="1.0" fill="#333"/>
<rect x="52.4" y="95.6" width="1.0" height="1.0" fill="#333"/>
<rect x="62.6" y="123.0" width="1.0" height="1.0" fill="#333"/>
<rect x="56.4" y="124.8" width="1.0" height="1.0" fill="#333"/>
<rect x="61.7" y="100.4" width="1.0" height="1.0" fill="#333"/>
<rect x="55.3" y="123.2" width="1.0" height="1.0" fill="#333"/>
<rect x="50.2" y="114.9" width="1.0" height="1.0" fill="#333"/>
<rect x="57.7" y="124.3" width="1.0" height="1.0" fill="#333"/>
<rect x="52.7" y="108.7" width="1.0" height="1.0" fill="#333"/>
<rect x="56.4" y="111.4" width="0.9" height="0.9" fill="#555"/>
<rect x="66.3" y="110.6" width="1.0" height="1.0" fill="#333"/>
<rect x="52.6" y="107.8" width="1.0" height="1.0" fill="#333"/>
<rect x="56.0" y="127.7" width="1.0" height="1.0" fill="#333"/>
<rect x="55.3" y="132.5" width="1.0" height="1.0" fill="#333"/>
<rect x="53.9" y="110.7" width="1.0" height="1.0" fill="#333"/>
<rect x="61.2" y="101.5" width="1.0" height="1.0" fill="#333"/>
<rect x="56.5" y="127.5" width="1.0" height="1.0" fill="#333"/>
<rect x="50.6" y="127.0" width="1.0" height="1.0" fill="#333"/>
<rect x="62.4" y="124.4" width="1.0" height="1.0" fill="#333"/>
<rect x="58.8" y="127.4" width="1.0" height="1.0" fill="#333"/>
<rect x="62.1" y="104.5" width="1.0" height="1.0" fill="#333"/>
<rect x="64.7" y="125.8" width="1.0" height="1.0" fill="#333"/>
<rect x="61.1" y="117.7" width="0.9" height="0.9" fill="#555"/>
<rect x="52.9" y="111.2" width="1.0" height="1.0" fill="#333"/>
<rect x="58.6" y="124.2" width="1.0" height="1.0" fill="#333"/>
<rect x="58.2" y="133.2" width="1.0" height="1.0" fill="#333"/>
<rect x="60.2" y="121.4" width="1.0" height="1.0" fill="#333"/>
<rect x="53.3" y="106.0" width="1.0" height="1.0" fill="#333"/>
<rect x="66.5" y="120.3" width="1.0" height="1.0" fill="#333"/>
<rect x="59.8" y="129.4" width="1.0" height="1.0" fill="#333"/>
<rect x="54.0" y="112.6" width="1.0" height="1.0" fill="#333"/>
<rect x="51.8" y="110.0" width="1.0" height="1.0" fill="#333"/>
<rect x="58.1" y="126.1" width="1.0" height="1.0" fill="#333"/>
<rect x="56.1" y="107.1" width="1.0" height="1.0" fill="#333"/>
<rect x="56.5" y="110.2" width="0.9" height="0.9" fill="#555"/>
<rect x="56.1" y="118.0" width="1.0" height="1.0" fill="#333"/>
<rect x="59.1" y="127.4" width="1.0" height="1.0" fill="#333"/>
<rect x="63.6" y="123.4" width="1.0" height="1.0" fill="#333"/>
<rect x="70.6" y="102.9" width="1.0" height="1.0" fill="#333"/>
<rect x="54.9" y="120.7" width="1.0" height="1.0" fill="#333"/>
<rect x="57.3" y="125.1" width="1.0" height="1.0" fill="#333"/>
<rect x="55.6" y="121.1" width="1.0" height="1.0" fill="#333"/>
<rect x="62.8" y="126.3" width="1.0" height="1.0" fill="#333"/>
<rect x="54.2" y="112.1" width="1.0" height="1.0" fill="#333"/>
<rect x="59.2" y="125.4" width="1.0" height="1.0" fill="#333"/>
<rect x="55.0" y="107.4" width="1.0" height="1.0" fill="#333"/>
<rect x="55.1" y="97.6" width="1.0" height="1.0" fill="#333"/>
<rect x="57.2" y="126.2" width="1.0" height="1.0" fill="#333"/>
<rect x="50.1" y="110.5" width="1.0" height="1.0" fill="#333"/>
<rect x="52.9" y="114.2" width="1.0" height="1.0" fill="#333"/>
<rect x="57.5" y="104.4" width="1.0" height="1.0" fill="#333"/>
<rect x="51.5" y="113.8" width="1.0" height="1.0" fill="#333"/>
<rect x="57.3" y="120.3" width="1.0" height="1.0" fill="#333"/>
<rect x="62.8" y="96.3" width="1.0" height="1.0" fill="#333"/>
<rect x="61.7" y="123.8" width="1.0" height="1.0" fill="#333"/>
<rect x="55.4" y="107.4" width="1.0" height="1.0" fill="#333"/>
<rect x="62.1" y="123.1" width="1.0" height="1.0" fill="#333"/>
<rect x="54.2" y="103.2" width="1.0" height="1.0" fill="#333"/>
<rect x="55.8" y="133.6" width="1.0" height="1.0" fill="#333"/>
<rect x="65.7" y="109.3" width="1.0" height="1.0" fill="#333"/>
<rect x="64.4" y="118.8" width="1.0" height="1.0" fill="#333"/>
<rect x="57.2" y="129.7" width="1.0" height="1.0" fill="#333"/>
<rect x="56.7" y="126.1" width="1.0" height="1.0" fill="#333"/>
<rect x="58.6" y="110.3" width="0.9" height="0.9" fill="#555"/>
<rect x="70.2" y="127.1" width="1.0" height="1.0" fill="#333"/>
<rect x="62.7" y="110.1" width="0.9" height="0.9" fill="#555"/>
<rect x="58.9" y="134.1" width="1.0" height="1.0" fill="#333"/>
<rect x="64.6" y="118.0" width="1.0" height="1.0" fill="#333"/>
<rect x="51.6" y="120.3" width="1.0" height="1.0" fill="#333"/>
<rect x="58.1" y="109.7" width="0.9" height="0.9" fill="#555"/>
<rect x="59.4" y="123.6" width="1.0" height="1.0" fill="#333"/>
<rect x="65.1" y="127.2" width="1.0" height="1.0" fill="#333"/>
<rect x="60.7" y="127.9" width="1.0" height="1.0" fill="#333"/>
<rect x="54.5" y="111.3" width="1.0" height="1.0" fill="#333"/>
<rect x="63.1" y="118.6" width="1.0" height="1.0" fill="#333"/>
<rect x="68.5" y="117.1" width="1.0" height="1.0" fill="#333"/>
<rect x="60.4" y="122.1" width="1.0" height="1.0" fill="#333"/>
<rect x="60.0" y="98.6" width="1.0" height="1.0" fill="#333"/>
<rect x="67.2" y="113.1" width="1.0" height="1.0" fill="#333"/>
<rect x="62.6" y="105.9" width="0.9" height="0.9" fill="#555"/>
<rect x="57.4" y="122.3" width="1.0" height="1.0" fill="#333"/>
<rect x="59.8" y="104.7" width="0.9" height="0.9" fill="#555"/>
<rect x="54.3" y="120.2" width="1.0" height="1.0" fill="#333"/>
<rect x="55.0" y="126.6" width="1.0" height="1.0" fill="#333"/>
<rect x="58.2" y="126.3" width="1.0" height="1.0" fill="#333"/>
<rect x="62.2" y="131.0" width="1.0" height="1.0" fill="#333"/>
<rect x="54.6" y="114.3" width="1.0" height="1.0" fill="#333"/>
<rect x="54.6" y="126.2" width="1.0" height="1.0" fill="#333"/>
<rect x="64.3" y="119.8" width="1.0" height="1.0" fill="#333"/>
<rect x="69.5" y="127.1" width="1.0" height="1.0" fill="#333"/>
<rect x="68.2" y="117.1" width="1.0" height="1.0" fill="#333"/>
<rect x="58.3" y="127.8" width="1.0" height="1.0" fill="#333"/>
<rect x="62.6" y="124.6" width="1.0" height="1.0" fill="#333"/>
<rect x="59.8" y="123.4" width="1.0" height="1.0" fill="#333"/>
<rect x="59.7" y="121.5" width="1.0" height="1.0" fill="#333"/>
<rect x="66.1" y="120.6" width="1.0" height="1.0" fill="#333"/>
<rect x="53.5" y="119.1" width="1.0" height="1.0" fill="#333"/>
<rect x="63.9" y="119.0" width="1.0" height="1.0" fill="#333"/>
<rect x="59.1" y="125.9" width="1.0" height="1.0" fill="#333"/>
<rect x="65.5" y="112.4" width="1.0" height="1.0" fill="#333"/>
<rect x="60.1" y="132.6" width="1.0" height="1.0" fill="#333"/>
<rect x="60.5" y="125.9" width="1.0" height="1.0" fill="#333"/>
<rect x="49.9" y="105.5" width="1.0" height="1.0" fill="#333"/>
<rect x="63.9" y="125.4" width="1.0" height="1.0" fill="#333"/>
<rect x="56.2" y="120.2" width="1.0" height="1.0" fill="#333"/>
<rect x="58.5" y="123.0" width="1.0" height="1.0" fill="#333"/>
<rect x="64.5" y="133.2" width="1.0" height="1.0" fill="#333"/>
<rect x="53.2" y="110.7" width="1.0" height="1.0" fill="#333"/>
<rect x="64.5" y="122.4" width="1.0" height="1.0" fill="#333"/>
<rect x="56.5" y="119.7" width="1.0" height="1.0" fill="#333"/>
<rect x="54.5" y="107.8" width="1.0" height="1.0" fill="#333"/>
<rect x="64.8" y="116.8" width="1.0" height="1.0" fill="#333"/>
<rect x="58.9" y="114.6" width="0.9" height="0.9" fill="#555"/>
<rect x="53.6" y="96.1" width="1.0" height="1.0" fill="#333"/>
<rect x="57.7" y="122.4" width="1.0" height="1.0" fill="#333"/>
<rect x="63.4" y="121.9" width="1.0" height="1.0" fill="#333"/>
<rect x="64.5" y="113.0" width="1.0" height="1.0" fill="#333"/>
<rect x="57.4" y="105.0" width="1.0" height="1.0" fill="#333"/>
<rect x="61.1" y="130.3" width="1.0" height="1.0" fill="#333"/>
<rect x="62.4" y="119.4" width="1.0" height="1.0" fill="#333"/>
<rect x="56.5" y="126.2" width="1.0" height="1.0" fill="#333"/>
<rect x="60.9" y="129.7" width="1.0" height="1.0" fill="#333"/>
<rect x="56.9" y="124.3" width="1.0" height="1.0" fill="#333"/>
<rect x="57.1" y="114.8" width="0.9" height="0.9" fill="#555"/>
<rect x="59.6" y="116.4" width="0.9" height="0.9" fill="#555"/>
<rect x="59.4" y="116.2" width="0.9" height="0.9" fill="#555"/>
<rect x="64.0" y="104.7" width="1.0" height="1.0" fill="#333"/>
<rect x="60.6" y="95.7" width="1.0" height="1.0" fill="#333"/>
<rect x="59.7" y="101.7" width="1.0" height="1.0" fill="#333"/>
<rect x="59.3" y="98.8" width="1.0" height="1.0" fill="#333"/>
<rect x="61.4" y="94.4" width="1.0" height="1.0" fill="#333"/>
<rect x="57.2" y="96.4" width="1.0" height="1.0" fill="#333"/>
<rect x="58.5" y="96.2" width="1.0" height="1.0" fill="#333"/>
<rect x="60.0" y="91.0" width="1.0" height="1.0" fill="#333"/>
<rect x="58.3" y="102.7" width="1.0" height="1.0" fill="#333"/>
<rect x="59.8" y="88.4" width="1.0" height="1.0" fill="#333"/>
<rect x="58.1" y="102.4" width="1.0" height="1.0" fill="#333"/>
<rect x="67.0" y="101.2" width="1.0" height="1.0" fill="#333"/>
<rect x="64.7" y="95.5" width="1.0" height="1.0" fill="#333"/>
<rect x="61.7" y="91.8" width="1.0" height="1.0" fill="#333"/>
<rect x="60.0" y="94.8" width="1.0" height="1.0" fill="#333"/>
<rect x="67.6" y="98.6" width="1.0" height="1.0" fill="#333"/>
<rect x="61.3" y="100.1" width="1.0" height="1.0" fill="#333"/>
<rect x="59.9" y="97.6" width="1.0" height="1.0" fill="#333"/>
<rect x="61.2" y="101.5" width="1.0" height="1.0" fill="#333"/>
<rect x="61.2" y="92.9" width="1.0" height="1.0" fill="#333"/>
<rect x="65.0" y="97.3" width="1.0" height="1.0" fill="#333"/>
<rect x="60.1" y="87.4" width="1.0" height="1.0" fill="#333"/>
<rect x="67.3" y="100.2" width="1.0" height="1.0" fill="#333"/>
<rect x="57.2" y="96.8" width="1.0" height="1.0" fill="#333"/>
<rect x="62.6" y="93.7" width="1.0" height="1.0" fill="#333"/>
<rect x="56.8" y="102.4" width="1.0" height="1.0" fill="#333"/>
<rect x="66.4" y="99.8" width="1.0" height="1.0" fill="#333"/>
<rect x="59.1" y="80.5" width="1.0" height="1.0" fill="#333"/>
<rect x="60.0" y="96.2" width="1.0" height="1.0" fill="#333"/>
<rect x="63.3" y="88.0" width="1.0" height="1.0" fill="#333"/>
<rect x="64.5" y="101.9" width="1.0" height="1.0" fill="#333"/>
<rect x="59.0" y="93.1" width="1.0" height="1.0" fill="#333"/>
<rect x="55.5" y="96.4" width="1.0" height="1.0" fill="#333"/>
<rect x="60.7" y="94.6" width="1.0" height="1.0" fill="#333"/>
<rect x="59.9" y="97.9" width="1.0" height="1.0" fill="#333"/>
<rect x="59.0" y="99.5" width="1.0" height="1.0" fill="#333"/>
<rect x="57.9" y="103.1" width="1.0" height="1.0" fill="#333"/>
<rect x="58.9" y="90.6" width="1.0" height="1.0" fill="#333"/>
<rect x="57.7" y="104.6" width="1.0" height="1.0" fill="#333"/>
<rect x="62.0" y="90.9" width="1.0" height="1.0" fill="#333"/>
<rect x="65.4" y="97.5" width="1.0" height="1.0" fill="#333"/>
<rect x="53.6" y="102.4" width="1.0" height="1.0" fill="#333"/>
<rect x="59.8" y="99.9" width="1.0" height="1.0" fill="#333"/>
<rect x="58.8" y="90.8" width="1.0" height="1.0" fill="#333"/>
<rect x="61.9" y="92.1" width="1.0" height="1.0" fill="#333"/>
<rect x="57.0" y="93.5" width="1.0" height="1.0" fill="#333"/>
<rect x="59.7" y="95.7" width="1.0" height="1.0" fill="#333"/>
<rect x="56.7" y="102.3" width="1.0" height="1.0" fill="#333"/>
<rect x="62.6" y="88.9" width="1.0" height="1.0" fill="#333"/>
<rect x="60.5" y="98.6" width="1.0" height="1.0" fill="#333"/>
<rect x="59.7" y="99.4" width="1.0" height="1.0" fill="#333"/>
<rect x="61.5" y="99.1" width="1.0" height="1.0" fill="#333"/>
<rect x="59.4" y="98.6" width="1.0" height="1.0" fill="#333"/>
<rect x="54.9" y="104.4" width="1.0" height="1.0" fill="#333"/>
<rect x="62.2" y="98.7" width="1.0" height="1.0" fill="#333"/>
<rect x="61.2" y="100.7" width="1.0" height="1.0" fill="#333"/>
<rect x="59.7" y="99.1" width="1.0" height="1.0" fill="#333"/>
<rect x="63.5" y="105.9" width="1.0" height="1.0" fill="#333"/>
<rect x="64.3" y="85.6" width="1.0" height="1.0" fill="#333"/>
<rect x="56.5" y="103.1" width="1.0" height="1.0" fill="#333"/>
<rect x="57.5" y="94.6" width="1.0" height="1.0" fill="#333"/>
<rect x="65.5" y="94.5" width="1.0" height="1.0" fill="#333"/>
<rect x="65.0" y="90.7" width="1.0" height="1.0" fill="#333"/>
<rect x="57.7" y="85.7" width="1.0" height="1.0" fill="#333"/>
<rect x="56.2" y="93.9" width="1.0" height="1.0" fill="#333"/>
<rect x="58.0" y="92.2" width="1.0" height="1.0" fill="#333"/>
<rect x="58.5" y="98.7" width="1.0" height="1.0" fill="#333"/>
<rect x="54.8" y="87.9" width="1.0" height="1.0" fill="#333"/>
<rect x="60.3" y="103.9" width="1.0" height="1.0" fill="#333"/>
<rect x="55.8" y="97.5" width="1.0" height="1.0" fill="#333"/>
<rect x="56.1" y="94.6" width="1.0" height="1.0" fill="#333"/>
<rect x="63.3" y="92.1" width="1.0" height="1.0" fill="#333"/>
<rect x="57.9" y="91.7" width="1.0" height="1.0" fill="#333"/>
<rect x="60.0" y="89.8" width="1.0" height="1.0" fill="#333"/>
<rect x="62.3" y="93.0" width="1.0" height="1.0" fill="#333"/>
<rect x="63.0" y="96.0" width="1.0" height="1.0" fill="#333"/>
<rect x="59.1" y="95.0" width="1.0" height="1.0" fill="#333"/>
<rect x="60.3" y="88.2" width="1.0" height="1.0" fill="#333"/>
<rect x="57.4" y="94.5" width="1.0" height="1.0" fill="#333"/>
<rect x="66.1" y="91.1" width="1.0" height="1.0" fill="#333"/>
<rect x="62.4" y="96.9" width="1.0" height="1.0" fill="#333"/>
<rect x="56.4" y="106.3" width="1.0" height="1.0" fill="#333"/>
<rect x="60.2" y="99.4" width="1.0" height="1.0" fill="#333"/>
<rect x="62.6" y="94.3" width="1.0" height="1.0" fill="#333"/>
<rect x="61.8" y="87.1" width="1.0" height="1.0" fill="#333"/>
<rect x="66.4" y="88.2" width="1.0" height="1.0" fill="#333"/>
<rect x="64.9" y="86.7" width="1.0" height="1.0" fill="#333"/>
<rect x="58.4" y="100.0" width="1.0" height="1.0" fill="#333"/>
<rect x="59.9" y="91.8" width="1.0" height="1.0" fill="#333"/>
<rect x="55.8" y="96.3" width="1.0" height="1.0" fill="#333"/>
<rect x="61.0" y="92.6" width="1.0" height="1.0" fill="#333"/>
<rect x="60.7" y="96.5" width="1.0" height="1.0" fill="#333"/>
<rect x="69.4" y="103.7" width="1.0" height="1.0" fill="#333"/>
<rect x="60.5" y="92.2" width="1.0" height="1.0" fill="#333"/>
<rect x="53.1" y="94.1" width="1.0" height="1.0" fill="#333"/>
<rect x="57.9" y="91.6" width="1.0" height="1.0" fill="#333"/>
<rect x="60.6" y="100.8" width="1.0" height="1.0" fill="#333"/>
<rect x="55.9" y="90.4" width="1.0" height="1.0" fill="#333"/>
<rect x="57.3" y="89.8" width="1.0" height="1.0" fill="#333"/>
<rect x="59.0" y="88.4" width="1.0" height="1.0" fill="#333"/>
<rect x="61.4" y="88.3" width="1.0" height="1.0" fill="#333"/>
<rect x="59.6" y="98.6" width="1.0" height="1.0" fill="#333"/>
<rect x="62.9" y="90.5" width="1.0" height="1.0" fill="#333"/>
<rect x="58.4" y="101.2" width="1.0" height="1.0" fill="#333"/>
<rect x="58.5" y="97.4" width="1.0" height="1.0" fill="#333"/>
<rect x="55.5" y="89.9" width="1.0" height="1.0" fill="#333"/>
<rect x="57.5" y="94.5" width="1.0" height="1.0" fill="#333"/>
<rect x="62.4" y="94.7" width="1.0" height="1.0" fill="#333"/>
<rect x="54.7" y="92.2" width="1.0" height="1.0" fill="#333"/>
<rect x="60.0" y="106.6" width="0.9" height="0.9" fill="#555"/>
<rect x="62.6" y="85.5" width="1.0" height="1.0" fill="#333"/>
<rect x="58.9" y="98.1" width="1.0" height="1.0" fill="#333"/>
<rect x="61.0" y="97.8" width="1.0" height="1.0" fill="#333"/>
<rect x="56.4" y="92.8" width="1.0" height="1.0" fill="#333"/>
<rect x="64.7" y="96.8" width="1.0" height="1.0" fill="#333"/>
<rect x="63.9" y="100.8" width="1.0" height="1.0" fill="#333"/>
<rect x="61.0" y="96.8" width="1.0" height="1.0" fill="#333"/>
<rect x="54.2" y="98.3" width="1.0" height="1.0" fill="#333"/>
<rect x="56.6" y="99.8" width="1.0" height="1.0" fill="#333"/>
<rect x="63.5" y="84.8" width="1.0" height="1.0" fill="#333"/>
<rect x="66.0" y="104.1" width="1.0" height="1.0" fill="#333"/>
<rect x="61.2" y="108.5" width="0.9" height="0.9" fill="#555"/>
<rect x="64.4" y="101.4" width="1.0" height="1.0" fill="#333"/>
<rect x="58.1" y="101.6" width="1.0" height="1.0" fill="#333"/>
<rect x="59.6" y="88.3" width="1.0" height="1.0" fill="#333"/>
<rect x="60.2" y="95.3" width="1.0" height="1.0" fill="#333"/>
<rect x="61.6" y="91.5" width="1.0" height="1.0" fill="#333"/>
<rect x="55.0" y="92.8" width="1.0" height="1.0" fill="#333"/>
<rect x="63.4" y="101.3" width="1.0" height="1.0" fill="#333"/>
<rect x="64.7" y="91.6" width="1.0" height="1.0" fill="#333"/>
<rect x="56.3" y="95.3" width="1.0" height="1.0" fill="#333"/>
<rect x="55.6" y="85.5" width="1.0" height="1.0" fill="#333"/>
<rect x="61.4" y="95.1" width="1.0" height="1.0" fill="#333"/>
<rect x="58.0" y="96.5" width="1.0" height="1.0" fill="#333"/>
<rect x="52.1" y="92.1" width="1.0" height="1.0" fill="#333"/>
<rect x="62.9" y="92.0" width="1.0" height="1.0" fill="#333"/>
<rect x="58.6" y="89.3" width="1.0" height="1.0" fill="#333"/>
<rect x="67.4" y="90.2" width="1.0" height="1.0" fill="#333"/>
<rect x="60.7" y="91.6" width="1.0" height="1.0" fill="#333"/>
<rect x="57.6" y="102.6" width="1.0" height="1.0" fill="#333"/>
<rect x="56.7" y="97.8" width="1.0" height="1.0" fill="#333"/>
<rect x="57.6" y="92.1" width="1.0" height="1.0" fill="#333"/>
<rect x="61.5" y="93.6" width="1.0" height="1.0" fill="#333"/>
<rect x="58.3" y="101.9" width="1.0" height="1.0" fill="#333"/>
<rect x="58.7" y="91.0" width="1.0" height="1.0" fill="#333"/>
<rect x="65.9" y="104.0" width="1.0" height="1.0" fill="#333"/>
<rect x="63.1" y="103.8" width="1.0" height="1.0" fill="#333"/>
<rect x="62.9" y="96.4" width="1.0" height="1.0" fill="#333"/>
<rect x="62.0" y="99.6" width="1.0" height="1.0" fill="#333"/>
<rect x="61.8" y="100.1" width="1.0" height="1.0" fill="#333"/>
<rect x="65.2" y="104.5" width="1.0" height="1.0" fill="#333"/>
<rect x="60.1" y="90.2" width="1.0" height="1.0" fill="#333"/>
<rect x="66.5" y="102.5" width="1.0" height="1.0" fill="#333"/>
<rect x="57.0" y="93.9" width="1.0" height="1.0" fill="#333"/>
<rect x="59.3" y="91.8" width="1.0" height="1.0" fill="#333"/>
<rect x="55.5" y="96.6" width="1.0" height="1.0" fill="#333"/>
<rect x="59.0" y="94.8" width="1.0" height="1.0" fill="#333"/>
<rect x="62.0" y="90.6" width="1.0" height="1.0" fill="#333"/>
<rect x="65.1" y="87.2" width="1.0" height="1.0" fill="#333"/>
<rect x="57.9" y="90.8" width="1.0" height="1.0" fill="#333"/>
<rect x="60.2" y="104.0" width="1.0" height="1.0" fill="#333"/>
<rect x="57.7" y="99.6" width="1.0" height="1.0" fill="#333"/>
<rect x="56.2" y="102.5" width="1.0" height="1.0" fill="#333"/>
<rect x="60.4" y="93.2" width="1.0" height="1.0" fill="#333"/>
<rect x="54.3" y="95.6" width="1.0" height="1.0" fill="#333"/>
<rect x="60.6" y="97.6" width="1.0" height="1.0" fill="#333"/>
<rect x="60.3" y="90.1" width="1.0" height="1.0" fill="#333"/>
<rect x="58.0" y="90.6" width="1.0" height="1.0" fill="#333"/>
<rect x="56.8" y="96.5" width="1.0" height="1.0" fill="#333"/>
<rect x="55.5" y="94.2" width="1.0" height="1.0" fill="#333"/>
<rect x="66.6" y="90.2" width="1.0" height="1.0" fill="#333"/>
<rect x="55.6" y="98.1" width="1.0" height="1.0" fill="#333"/>
<rect x="65.5" y="94.6" width="1.0" height="1.0" fill="#333"/>
<rect x="62.2" y="101.6" width="1.0" height="1.0" fill="#333"/>
<rect x="59.0" y="96.0" width="1.0" height="1.0" fill="#333"/>
<rect x="56.3" y="94.3" width="1.0" height="1.0" fill="#333"/>
<rect x="63.7" y="96.7" width="1.0" height="1.0" fill="#333"/>
<rect x="66.1" y="95.1" width="1.0" height="1.0" fill="#333"/>
<rect x="57.0" y="92.3" width="1.0" height="1.0" fill="#333"/>
<rect x="59.2" y="93.8" width="1.0" height="1.0" fill="#333"/>
<rect x="63.8" y="100.1" width="1.0" height="1.0" fill="#333"/>
<rect x="61.3" y="99.6" width="1.0" height="1.0" fill="#333"/>
<rect x="67.0" y="103.1" width="1.0" height="1.0" fill="#333"/>
<rect x="58.3" y="86.7" width="1.0" height="1.0" fill="#333"/>
<rect x="62.0" y="93.8" width="1.0" height="1.0" fill="#333"/>
<rect x="55.9" y="93.7" width="1.0" height="1.0" fill="#333"/>
<rect x="67.3" y="96.9" width="1.0" height="1.0" fill="#333"/>
<rect x="57.7" y="93.5" width="1.0" height="1.0" fill="#333"/>
<rect x="52.7" y="93.2" width="1.0" height="1.0" fill="#333"/>
<rect x="59.8" y="100.3" width="1.0" height="1.0" fill="#333"/>
<rect x="59.7" y="97.0" width="1.0" height="1.0" fill="#333"/>
<rect x="66.7" y="89.6" width="1.0" height="1.0" fill="#333"/>
<rect x="59.0" y="103.3" width="1.0" height="1.0" fill="#333"/>
<rect x="60.2" y="101.5" width="1.0" height="1.0" fill="#333"/>
<rect x="62.2" y="92.8" width="1.0" height="1.0" fill="#333"/>
<rect x="64.6" y="109.0" width="1.0" height="1.0" fill="#333"/>
<rect x="57.9" y="81.1" width="1.0" height="1.0" fill="#333"/>
<rect x="55.0" y="114.8" width="1.0" height="1.0" fill="#333"/>
<rect x="57.1" y="96.9" width="1.0" height="1.0" fill="#333"/>
<rect x="55.2" y="116.2" width="1.0" height="1.0" fill="#333"/>
<rect x="60.0" y="124.2" width="1.0" height="1.0" fill="#333"/>
</g>
<text x="60" y="34.6" font-size="10" text-anchor="start" font-weight="bold" fill="#000" textLength="27.5" lengthAdjust="spacingAndGlyphs" stroke="#000" stroke-width="0.28" >Media</text>
<text x="83.4" y="51.8" font-size="9.1" text-anchor="start" font-weight="bold" fill="#000" textLength="40.2" lengthAdjust="spacingAndGlyphs" stroke="#000" stroke-width="0.28" >8.06|0.05</text>
<line x1="83.2" y1="53.4" x2="126.6" y2="53.4" stroke="#111" stroke-width="1.0" />
<text x="83.4" y="64.4" font-size="9.1" text-anchor="start" font-weight="bold" fill="#000" textLength="39.7" lengthAdjust="spacingAndGlyphs" stroke="#000" stroke-width="0.28" >91.3|0.61</text>
<line x1="149.6" y1="38.5" x2="149.6" y2="134.5" stroke="#c8c8c8" stroke-width="0.8" />
<line x1="149.6" y1="134.5" x2="245.5" y2="134.5" stroke="#c8c8c8" stroke-width="0.8" />
<line x1="148.8" y1="130.48" x2="150.1" y2="130.48" stroke="#8a8a8a" stroke-width="0.8" />
<line x1="153.62" y1="134" x2="153.62" y2="135.3" stroke="#8a8a8a" stroke-width="0.8" />
<line x1="148.8" y1="126.25" x2="150.1" y2="126.25" stroke="#8a8a8a" stroke-width="0.8" />
<line x1="157.85" y1="134" x2="157.85" y2="135.3" stroke="#8a8a8a" stroke-width="0.8" />
<line x1="148.8" y1="123.25" x2="150.1" y2="123.25" stroke="#8a8a8a" stroke-width="0.8" />
<line x1="160.85" y1="134" x2="160.85" y2="135.3" stroke="#8a8a8a" stroke-width="0.8" />
<line x1="148.8" y1="120.92" x2="150.1" y2="120.92" stroke="#8a8a8a" stroke-width="0.8" />
<line x1="163.18" y1="134" x2="163.18" y2="135.3" stroke="#8a8a8a" stroke-width="0.8" />
<line x1="148.8" y1="119.02" x2="150.1" y2="119.02" stroke="#8a8a8a" stroke-width="0.8" />
<line x1="165.08" y1="134" x2="165.08" y2="135.3" stroke="#8a8a8a" stroke-width="0.8" />
<line x1="148.8" y1="117.42" x2="150.1" y2="117.42" stroke="#8a8a8a" stroke-width="0.8" />
<line x1="166.68" y1="134" x2="166.68" y2="135.3" stroke="#8a8a8a" stroke-width="0.8" />
<line x1="148.8" y1="116.03" x2="150.1" y2="116.03" stroke="#8a8a8a" stroke-width="0.8" />
<line x1="168.07" y1="134" x2="168.07" y2="135.3" stroke="#8a8a8a" stroke-width="0.8" />
<line x1="148.8" y1="114.8" x2="150.1" y2="114.8" stroke="#8a8a8a" stroke-width="0.8" />
<line x1="169.3" y1="134" x2="169.3" y2="135.3" stroke="#8a8a8a" stroke-width="0.8" />
<line x1="148.5" y1="113.7" x2="150.4" y2="113.7" stroke="#555" stroke-width="0.8" />
<line x1="170.4" y1="133.7" x2="170.4" y2="135.6" stroke="#555" stroke-width="0.8" />
<line x1="148.8" y1="106.48" x2="150.1" y2="106.48" stroke="#8a8a8a" stroke-width="0.8" />
<line x1="177.62" y1="134" x2="177.62" y2="135.3" stroke="#8a8a8a" stroke-width="0.8" />
<line x1="148.8" y1="102.25" x2="150.1" y2="102.25" stroke="#8a8a8a" stroke-width="0.8" />
<line x1="181.85" y1="134" x2="181.85" y2="135.3" stroke="#8a8a8a" stroke-width="0.8" />
<line x1="148.8" y1="99.25" x2="150.1" y2="99.25" stroke="#8a8a8a" stroke-width="0.8" />
<line x1="184.85" y1="134" x2="184.85" y2="135.3" stroke="#8a8a8a" stroke-width="0.8" />
<line x1="148.8" y1="96.92" x2="150.1" y2="96.92" stroke="#8a8a8a" stroke-width="0.8" />
<line x1="187.18" y1="134" x2="187.18" y2="135.3" stroke="#8a8a8a" stroke-width="0.8" />
<line x1="148.8" y1="95.02" x2="150.1" y2="95.02" stroke="#8a8a8a" stroke-width="0.8" />
<line x1="189.08" y1="134" x2="189.08" y2="135.3" stroke="#8a8a8a" stroke-width="0.8" />
<line x1="148.8" y1="93.42" x2="150.1" y2="93.42" stroke="#8a8a8a" stroke-width="0.8" />
<line x1="190.68" y1="134" x2="190.68" y2="135.3" stroke="#8a8a8a" stroke-width="0.8" />
<line x1="148.8" y1="92.03" x2="150.1" y2="92.03" stroke="#8a8a8a" stroke-width="0.8" />
<line x1="192.07" y1="134" x2="192.07" y2="135.3" stroke="#8a8a8a" stroke-width="0.8" />
<line x1="148.8" y1="90.8" x2="150.1" y2="90.8" stroke="#8a8a8a" stroke-width="0.8" />
<line x1="193.3" y1="134" x2="193.3" y2="135.3" stroke="#8a8a8a" stroke-width="0.8" />
<line x1="148.5" y1="89.7" x2="150.4" y2="89.7" stroke="#555" stroke-width="0.8" />
<line x1="194.4" y1="133.7" x2="194.4" y2="135.6" stroke="#555" stroke-width="0.8" />
<line x1="148.8" y1="82.48" x2="150.1" y2="82.48" stroke="#8a8a8a" stroke-width="0.8" />
<line x1="201.62" y1="134" x2="201.62" y2="135.3" stroke="#8a8a8a" stroke-width="0.8" />
<line x1="148.8" y1="78.25" x2="150.1" y2="78.25" stroke="#8a8a8a" stroke-width="0.8" />
<line x1="205.85" y1="134" x2="205.85" y2="135.3" stroke="#8a8a8a" stroke-width="0.8" />
<line x1="148.8" y1="75.25" x2="150.1" y2="75.25" stroke="#8a8a8a" stroke-width="0.8" />
<line x1="208.85" y1="134" x2="208.85" y2="135.3" stroke="#8a8a8a" stroke-width="0.8" />
<line x1="148.8" y1="72.92" x2="150.1" y2="72.92" stroke="#8a8a8a" stroke-width="0.8" />
<line x1="211.18" y1="134" x2="211.18" y2="135.3" stroke="#8a8a8a" stroke-width="0.8" />
<line x1="148.8" y1="71.02" x2="150.1" y2="71.02" stroke="#8a8a8a" stroke-width="0.8" />
<line x1="213.08" y1="134" x2="213.08" y2="135.3" stroke="#8a8a8a" stroke-width="0.8" />
<line x1="148.8" y1="69.42" x2="150.1" y2="69.42" stroke="#8a8a8a" stroke-width="0.8" />
<line x1="214.68" y1="134" x2="214.68" y2="135.3" stroke="#8a8a8a" stroke-width="0.8" />
<line x1="148.8" y1="68.03" x2="150.1" y2="68.03" stroke="#8a8a8a" stroke-width="0.8" />
<line x1="216.07" y1="134" x2="216.07" y2="135.3" stroke="#8a8a8a" stroke-width="0.8" />
<line x1="148.8" y1="66.8" x2="150.1" y2="66.8" stroke="#8a8a8a" stroke-width="0.8" />
<line x1="217.3" y1="134" x2="217.3" y2="135.3" stroke="#8a8a8a" stroke-width="0.8" />
<line x1="148.5" y1="65.7" x2="150.4" y2="65.7" stroke="#555" stroke-width="0.8" />
<line x1="218.4" y1="133.7" x2="218.4" y2="135.6" stroke="#555" stroke-width="0.8" />
<line x1="148.8" y1="58.48" x2="150.1" y2="58.48" stroke="#8a8a8a" stroke-width="0.8" />
<line x1="225.62" y1="134" x2="225.62" y2="135.3" stroke="#8a8a8a" stroke-width="0.8" />
<line x1="148.8" y1="54.25" x2="150.1" y2="54.25" stroke="#8a8a8a" stroke-width="0.8" />
<line x1="229.85" y1="134" x2="229.85" y2="135.3" stroke="#8a8a8a" stroke-width="0.8" />
<line x1="148.8" y1="51.25" x2="150.1" y2="51.25" stroke="#8a8a8a" stroke-width="0.8" />
<line x1="232.85" y1="134" x2="232.85" y2="135.3" stroke="#8a8a8a" stroke-width="0.8" />
<line x1="148.8" y1="48.92" x2="150.1" y2="48.92" stroke="#8a8a8a" stroke-width="0.8" />
<line x1="235.18" y1="134" x2="235.18" y2="135.3" stroke="#8a8a8a" stroke-width="0.8" />
<line x1="148.8" y1="47.02" x2="150.1" y2="47.02" stroke="#8a8a8a" stroke-width="0.8" />
<line x1="237.08" y1="134" x2="237.08" y2="135.3" stroke="#8a8a8a" stroke-width="0.8" />
<line x1="148.8" y1="45.42" x2="150.1" y2="45.42" stroke="#8a8a8a" stroke-width="0.8" />
<line x1="238.68" y1="134" x2="238.68" y2="135.3" stroke="#8a8a8a" stroke-width="0.8" />
<line x1="148.8" y1="44.03" x2="150.1" y2="44.03" stroke="#8a8a8a" stroke-width="0.8" />
<line x1="240.07" y1="134" x2="240.07" y2="135.3" stroke="#8a8a8a" stroke-width="0.8" />
<line x1="148.8" y1="42.8" x2="150.1" y2="42.8" stroke="#8a8a8a" stroke-width="0.8" />
<line x1="241.3" y1="134" x2="241.3" y2="135.3" stroke="#8a8a8a" stroke-width="0.8" />
<line x1="148.5" y1="41.7" x2="150.4" y2="41.7" stroke="#555" stroke-width="0.8" />
<line x1="242.4" y1="133.7" x2="242.4" y2="135.6" stroke="#555" stroke-width="0.8" />
<line x1="185.5" y1="38.5" x2="185.5" y2="134.5" stroke="#909090" stroke-width="1.0" />
<line x1="149.6" y1="99" x2="245.5" y2="99" stroke="#858585" stroke-width="1.1" />
<text x="170.4" y="140.3" font-size="3.4" text-anchor="middle" fill="#8c8c8c">10<tspan font-size="2.4" dy="-1.2">1</tspan></text>
<text transform="translate(146.4,113.7) rotate(-90)" font-size="3.4" text-anchor="middle" fill="#8c8c8c">10<tspan font-size="2.4" dy="-1.2">1</tspan></text>
<text x="194.4" y="140.3" font-size="3.4" text-anchor="middle" fill="#8c8c8c">10<tspan font-size="2.4" dy="-1.2">2</tspan></text>
<text transform="translate(146.4,89.7) rotate(-90)" font-size="3.4" text-anchor="middle" fill="#8c8c8c">10<tspan font-size="2.4" dy="-1.2">2</tspan></text>
<text x="218.4" y="140.3" font-size="3.4" text-anchor="middle" fill="#8c8c8c">10<tspan font-size="2.4" dy="-1.2">3</tspan></text>
<text transform="translate(146.4,65.7) rotate(-90)" font-size="3.4" text-anchor="middle" fill="#8c8c8c">10<tspan font-size="2.4" dy="-1.2">3</tspan></text>
<text x="242.4" y="140.3" font-size="3.4" text-anchor="middle" fill="#8c8c8c">10<tspan font-size="2.4" dy="-1.2">4</tspan></text>
<text transform="translate(146.4,41.7) rotate(-90)" font-size="3.4" text-anchor="middle" fill="#8c8c8c">10<tspan font-size="2.4" dy="-1.2">4</tspan></text>
<text x="197.4" y="143.3" font-size="3.6" text-anchor="middle" fill="#999" textLength="26" lengthAdjust="spacingAndGlyphs">P-STAT5 BB515</text>
<text transform="translate(140.6,85.5) rotate(-90)" font-size="3.6" text-anchor="middle" fill="#999" textLength="19" lengthAdjust="spacingAndGlyphs">CD25 APC</text>
<text x="151.6" y="42.0" font-size="2.8" text-anchor="start" font-weight="normal" fill="#aaa" >Q1</text>
<text x="241.5" y="42.0" font-size="2.8" text-anchor="start" font-weight="normal" fill="#aaa" >Q2</text>
<text x="151.6" y="132.5" font-size="2.8" text-anchor="start" font-weight="normal" fill="#aaa" >Q4</text>
<text x="241.5" y="132.5" font-size="2.8" text-anchor="start" font-weight="normal" fill="#aaa" >Q3</text>
<rect x="232.5" y="102.2" width="1.6" height="1.6" fill="#333"/>
<text x="234.7" y="103.9" font-size="3" text-anchor="start" font-weight="normal" fill="#666" >Q1</text>
<g filter="url(#soft)">
<ellipse cx="178.5" cy="117" rx="6.6499999999999995" ry="5.225" transform="rotate(-45 178.5 117)" fill="#ababab"/>
<rect x="191.3" y="111.1" width="1.0" height="1.0" fill="#333"/>
<rect x="159.9" y="115.1" width="1.0" height="1.0" fill="#333"/>
<rect x="178.2" y="132.2" width="1.0" height="1.0" fill="#333"/>
<rect x="187.2" y="105.8" width="1.0" height="1.0" fill="#333"/>
<rect x="189.6" y="106.9" width="1.0" height="1.0" fill="#333"/>
<rect x="174.3" y="110.7" width="1.0" height="1.0" fill="#333"/>
<rect x="181.0" y="126.0" width="1.0" height="1.0" fill="#333"/>
<rect x="197.5" y="111.7" width="1.0" height="1.0" fill="#333"/>
<rect x="181.0" y="110.4" width="1.0" height="1.0" fill="#333"/>
<rect x="178.6" y="110.4" width="1.0" height="1.0" fill="#333"/>
<rect x="191.4" y="120.9" width="1.0" height="1.0" fill="#333"/>
<rect x="181.6" y="106.3" width="1.0" height="1.0" fill="#333"/>
<rect x="195.6" y="122.4" width="1.0" height="1.0" fill="#333"/>
<rect x="185.4" y="112.4" width="1.0" height="1.0" fill="#333"/>
<rect x="169.6" y="123.5" width="1.0" height="1.0" fill="#333"/>
<rect x="189.4" y="118.0" width="1.0" height="1.0" fill="#333"/>
<rect x="202.6" y="107.8" width="1.0" height="1.0" fill="#333"/>
<rect x="169.9" y="116.3" width="1.0" height="1.0" fill="#333"/>
<rect x="189.2" y="125.3" width="1.0" height="1.0" fill="#333"/>
<rect x="184.2" y="109.9" width="1.0" height="1.0" fill="#333"/>
<rect x="194.7" y="116.5" width="1.0" height="1.0" fill="#333"/>
<rect x="163.1" y="124.3" width="1.0" height="1.0" fill="#333"/>
<rect x="186.6" y="116.1" width="1.0" height="1.0" fill="#333"/>
<rect x="179.9" y="130.9" width="1.0" height="1.0" fill="#333"/>
<rect x="188.5" y="132.8" width="1.0" height="1.0" fill="#333"/>
<rect x="193.9" y="120.7" width="1.0" height="1.0" fill="#333"/>
<rect x="183.4" y="123.1" width="1.0" height="1.0" fill="#333"/>
<rect x="184.0" y="110.7" width="1.0" height="1.0" fill="#333"/>
<rect x="195.2" y="91.4" width="1.0" height="1.0" fill="#333"/>
<rect x="183.5" y="110.8" width="1.0" height="1.0" fill="#333"/>
<rect x="180.2" y="109.0" width="1.0" height="1.0" fill="#333"/>
<rect x="174.5" y="123.9" width="1.0" height="1.0" fill="#333"/>
<rect x="162.9" y="112.8" width="1.0" height="1.0" fill="#333"/>
<rect x="176.2" y="127.0" width="1.0" height="1.0" fill="#333"/>
<rect x="181.8" y="126.2" width="1.0" height="1.0" fill="#333"/>
<rect x="178.8" y="128.1" width="1.0" height="1.0" fill="#333"/>
<rect x="166.2" y="124.1" width="1.0" height="1.0" fill="#333"/>
<rect x="170.1" y="126.2" width="1.0" height="1.0" fill="#333"/>
<rect x="172.8" y="107.0" width="1.0" height="1.0" fill="#333"/>
<rect x="189.6" y="123.3" width="1.0" height="1.0" fill="#333"/>
<rect x="190.0" y="112.4" width="1.0" height="1.0" fill="#333"/>
<rect x="180.0" y="105.2" width="1.0" height="1.0" fill="#333"/>
<rect x="190.1" y="116.6" width="1.0" height="1.0" fill="#333"/>
<rect x="176.0" y="131.2" width="1.0" height="1.0" fill="#333"/>
<rect x="195.6" y="101.8" width="1.0" height="1.0" fill="#333"/>
<rect x="182.6" y="105.3" width="1.0" height="1.0" fill="#333"/>
<rect x="176.2" y="117.1" width="0.9" height="0.9" fill="#555"/>
<rect x="175.2" y="127.4" width="1.0" height="1.0" fill="#333"/>
<rect x="188.3" y="118.7" width="1.0" height="1.0" fill="#333"/>
<rect x="166.1" y="129.2" width="1.0" height="1.0" fill="#333"/>
<rect x="170.3" y="119.6" width="1.0" height="1.0" fill="#333"/>
<rect x="191.6" y="116.8" width="1.0" height="1.0" fill="#333"/>
<rect x="184.5" y="126.1" width="1.0" height="1.0" fill="#333"/>
<rect x="187.6" y="111.6" width="1.0" height="1.0" fill="#333"/>
<rect x="180.4" y="129.6" width="1.0" height="1.0" fill="#333"/>
<rect x="192.6" y="122.8" width="1.0" height="1.0" fill="#333"/>
<rect x="182.2" y="124.6" width="1.0" height="1.0" fill="#333"/>
<rect x="180.8" y="127.7" width="1.0" height="1.0" fill="#333"/>
<rect x="178.3" y="110.7" width="1.0" height="1.0" fill="#333"/>
<rect x="171.6" y="122.9" width="1.0" height="1.0" fill="#333"/>
<rect x="195.1" y="105.8" width="1.0" height="1.0" fill="#333"/>
<rect x="186.6" y="128.7" width="1.0" height="1.0" fill="#333"/>
<rect x="199.8" y="108.1" width="1.0" height="1.0" fill="#333"/>
<rect x="186.1" y="114.5" width="1.0" height="1.0" fill="#333"/>
<rect x="175.6" y="128.1" width="1.0" height="1.0" fill="#333"/>
<rect x="179.5" y="132.5" width="1.0" height="1.0" fill="#333"/>
<rect x="184.3" y="112.5" width="1.0" height="1.0" fill="#333"/>
<rect x="168.1" y="123.7" width="1.0" height="1.0" fill="#333"/>
<rect x="193.1" y="112.8" width="1.0" height="1.0" fill="#333"/>
<rect x="170.5" y="119.9" width="1.0" height="1.0" fill="#333"/>
<rect x="184.7" y="119.0" width="1.0" height="1.0" fill="#333"/>
<rect x="174.9" y="109.3" width="1.0" height="1.0" fill="#333"/>
<rect x="190.5" y="117.8" width="1.0" height="1.0" fill="#333"/>
<rect x="165.3" y="127.9" width="1.0" height="1.0" fill="#333"/>
<rect x="194.7" y="108.8" width="1.0" height="1.0" fill="#333"/>
<rect x="174.9" y="107.2" width="1.0" height="1.0" fill="#333"/>
<rect x="176.2" y="119.5" width="0.9" height="0.9" fill="#555"/>
<rect x="182.2" y="130.7" width="1.0" height="1.0" fill="#333"/>
<rect x="167.2" y="127.9" width="1.0" height="1.0" fill="#333"/>
<rect x="174.0" y="128.9" width="1.0" height="1.0" fill="#333"/>
<rect x="165.9" y="111.4" width="1.0" height="1.0" fill="#333"/>
<rect x="176.6" y="128.0" width="1.0" height="1.0" fill="#333"/>
<rect x="180.6" y="123.8" width="1.0" height="1.0" fill="#333"/>
<rect x="183.2" y="101.4" width="1.0" height="1.0" fill="#333"/>
<rect x="182.5" y="122.9" width="1.0" height="1.0" fill="#333"/>
<rect x="182.6" y="103.5" width="1.0" height="1.0" fill="#333"/>
<rect x="190.8" y="131.9" width="1.0" height="1.0" fill="#333"/>
<rect x="163.6" y="123.8" width="1.0" height="1.0" fill="#333"/>
<rect x="178.9" y="130.1" width="1.0" height="1.0" fill="#333"/>
<rect x="184.1" y="125.7" width="1.0" height="1.0" fill="#333"/>
<rect x="168.5" y="111.8" width="1.0" height="1.0" fill="#333"/>
<rect x="173.0" y="108.3" width="1.0" height="1.0" fill="#333"/>
<rect x="187.2" y="116.0" width="1.0" height="1.0" fill="#333"/>
<rect x="184.4" y="117.8" width="1.0" height="1.0" fill="#333"/>
<rect x="182.0" y="130.4" width="1.0" height="1.0" fill="#333"/>
<rect x="167.1" y="133.3" width="1.0" height="1.0" fill="#333"/>
<rect x="172.1" y="117.8" width="1.0" height="1.0" fill="#333"/>
<rect x="160.2" y="114.5" width="1.0" height="1.0" fill="#333"/>
<rect x="178.6" y="123.9" width="1.0" height="1.0" fill="#333"/>
<rect x="176.0" y="128.9" width="1.0" height="1.0" fill="#333"/>
<rect x="176.3" y="127.6" width="1.0" height="1.0" fill="#333"/>
<rect x="172.5" y="113.2" width="1.0" height="1.0" fill="#333"/>
<rect x="191.5" y="124.0" width="1.0" height="1.0" fill="#333"/>
<rect x="183.6" y="127.5" width="1.0" height="1.0" fill="#333"/>
<rect x="188.6" y="117.5" width="1.0" height="1.0" fill="#333"/>
<rect x="173.0" y="115.0" width="1.0" height="1.0" fill="#333"/>
<rect x="173.1" y="124.3" width="1.0" height="1.0" fill="#333"/>
<rect x="178.1" y="115.5" width="0.9" height="0.9" fill="#555"/>
<rect x="188.9" y="101.7" width="1.0" height="1.0" fill="#333"/>
<rect x="170.9" y="118.7" width="1.0" height="1.0" fill="#333"/>
<rect x="189.8" y="110.7" width="1.0" height="1.0" fill="#333"/>
<rect x="189.8" y="108.2" width="1.0" height="1.0" fill="#333"/>
<rect x="191.3" y="107.8" width="1.0" height="1.0" fill="#333"/>
<rect x="173.6" y="122.4" width="1.0" height="1.0" fill="#333"/>
<rect x="199.4" y="107.5" width="1.0" height="1.0" fill="#333"/>
<rect x="163.9" y="109.0" width="1.0" height="1.0" fill="#333"/>
<rect x="186.8" y="121.5" width="1.0" height="1.0" fill="#333"/>
<rect x="186.6" y="107.0" width="1.0" height="1.0" fill="#333"/>
<rect x="179.1" y="128.8" width="1.0" height="1.0" fill="#333"/>
<rect x="182.8" y="110.0" width="1.0" height="1.0" fill="#333"/>
<rect x="181.4" y="110.1" width="1.0" height="1.0" fill="#333"/>
<rect x="182.7" y="106.5" width="1.0" height="1.0" fill="#333"/>
<rect x="178.3" y="128.6" width="1.0" height="1.0" fill="#333"/>
<rect x="183.8" y="107.4" width="1.0" height="1.0" fill="#333"/>
<rect x="174.0" y="107.5" width="1.0" height="1.0" fill="#333"/>
<rect x="194.2" y="106.8" width="1.0" height="1.0" fill="#333"/>
<rect x="170.2" y="124.9" width="1.0" height="1.0" fill="#333"/>
<rect x="181.6" y="121.7" width="1.0" height="1.0" fill="#333"/>
<rect x="183.1" y="127.8" width="1.0" height="1.0" fill="#333"/>
<rect x="183.8" y="106.9" width="1.0" height="1.0" fill="#333"/>
<rect x="169.7" y="118.4" width="1.0" height="1.0" fill="#333"/>
<rect x="195.3" y="118.0" width="1.0" height="1.0" fill="#333"/>
<rect x="188.9" y="112.1" width="1.0" height="1.0" fill="#333"/>
<rect x="194.4" y="115.9" width="1.0" height="1.0" fill="#333"/>
<rect x="174.9" y="122.9" width="1.0" height="1.0" fill="#333"/>
<rect x="168.9" y="110.2" width="1.0" height="1.0" fill="#333"/>
<rect x="195.4" y="116.1" width="1.0" height="1.0" fill="#333"/>
<rect x="178.0" y="123.5" width="1.0" height="1.0" fill="#333"/>
<rect x="177.7" y="124.4" width="1.0" height="1.0" fill="#333"/>
<rect x="185.8" y="111.8" width="1.0" height="1.0" fill="#333"/>
<rect x="193.2" y="108.4" width="1.0" height="1.0" fill="#333"/>
<rect x="177.8" y="129.1" width="1.0" height="1.0" fill="#333"/>
<rect x="157.7" y="131.8" width="1.0" height="1.0" fill="#333"/>
<rect x="179.3" y="133.7" width="1.0" height="1.0" fill="#333"/>
<rect x="172.5" y="123.8" width="1.0" height="1.0" fill="#333"/>
<rect x="194.3" y="120.1" width="1.0" height="1.0" fill="#333"/>
<rect x="185.5" y="122.8" width="1.0" height="1.0" fill="#333"/>
<rect x="171.2" y="109.4" width="1.0" height="1.0" fill="#333"/>
<rect x="176.7" y="126.1" width="1.0" height="1.0" fill="#333"/>
<rect x="183.8" y="120.5" width="1.0" height="1.0" fill="#333"/>
<rect x="188.5" y="92.1" width="1.0" height="1.0" fill="#333"/>
<rect x="180.9" y="108.5" width="1.0" height="1.0" fill="#333"/>
<rect x="169.3" y="119.5" width="1.0" height="1.0" fill="#333"/>
<rect x="176.8" y="126.6" width="1.0" height="1.0" fill="#333"/>
<rect x="183.3" y="124.7" width="1.0" height="1.0" fill="#333"/>
<rect x="178.3" y="124.7" width="1.0" height="1.0" fill="#333"/>
<rect x="189.0" y="113.3" width="1.0" height="1.0" fill="#333"/>
<rect x="175.8" y="123.6" width="1.0" height="1.0" fill="#333"/>
<rect x="175.8" y="128.0" width="1.0" height="1.0" fill="#333"/>
<rect x="185.7" y="122.1" width="1.0" height="1.0" fill="#333"/>
<rect x="177.3" y="117.9" width="0.9" height="0.9" fill="#555"/>
<rect x="187.4" y="109.3" width="1.0" height="1.0" fill="#333"/>
<rect x="167.7" y="116.0" width="1.0" height="1.0" fill="#333"/>
<rect x="186.6" y="109.7" width="1.0" height="1.0" fill="#333"/>
<rect x="189.2" y="120.8" width="1.0" height="1.0" fill="#333"/>
<rect x="193.0" y="126.5" width="1.0" height="1.0" fill="#333"/>
<rect x="177.9" y="130.8" width="1.0" height="1.0" fill="#333"/>
<rect x="185.3" y="112.4" width="1.0" height="1.0" fill="#333"/>
<rect x="185.2" y="104.7" width="1.0" height="1.0" fill="#333"/>
<rect x="188.7" y="114.5" width="1.0" height="1.0" fill="#333"/>
<rect x="184.3" y="124.6" width="1.0" height="1.0" fill="#333"/>
<rect x="171.7" y="119.2" width="1.0" height="1.0" fill="#333"/>
<rect x="176.1" y="103.3" width="1.0" height="1.0" fill="#333"/>
<rect x="177.1" y="111.3" width="1.0" height="1.0" fill="#333"/>
<rect x="170.2" y="113.1" width="1.0" height="1.0" fill="#333"/>
<rect x="171.3" y="115.0" width="1.0" height="1.0" fill="#333"/>
<rect x="190.5" y="118.2" width="1.0" height="1.0" fill="#333"/>
<rect x="177.7" y="125.4" width="1.0" height="1.0" fill="#333"/>
<rect x="197.0" y="109.3" width="1.0" height="1.0" fill="#333"/>
<rect x="189.6" y="121.1" width="1.0" height="1.0" fill="#333"/>
<rect x="196.7" y="111.8" width="1.0" height="1.0" fill="#333"/>
<rect x="188.8" y="111.6" width="1.0" height="1.0" fill="#333"/>
<rect x="186.5" y="115.6" width="1.0" height="1.0" fill="#333"/>
<rect x="167.0" y="120.6" width="1.0" height="1.0" fill="#333"/>
<rect x="191.1" y="111.0" width="1.0" height="1.0" fill="#333"/>
<rect x="168.5" y="131.3" width="1.0" height="1.0" fill="#333"/>
<rect x="184.0" y="112.2" width="1.0" height="1.0" fill="#333"/>
<rect x="182.0" y="128.4" width="1.0" height="1.0" fill="#333"/>
<rect x="183.8" y="131.3" width="1.0" height="1.0" fill="#333"/>
<rect x="184.3" y="122.6" width="1.0" height="1.0" fill="#333"/>
<rect x="189.7" y="121.0" width="1.0" height="1.0" fill="#333"/>
<rect x="188.9" y="103.0" width="1.0" height="1.0" fill="#333"/>
<rect x="184.8" y="116.5" width="1.0" height="1.0" fill="#333"/>
<rect x="184.1" y="109.9" width="1.0" height="1.0" fill="#333"/>
<rect x="194.4" y="119.1" width="1.0" height="1.0" fill="#333"/>
<rect x="183.3" y="120.7" width="1.0" height="1.0" fill="#333"/>
<rect x="191.2" y="125.9" width="1.0" height="1.0" fill="#333"/>
<rect x="190.2" y="119.8" width="1.0" height="1.0" fill="#333"/>
<rect x="174.1" y="121.8" width="0.9" height="0.9" fill="#555"/>
<rect x="181.1" y="109.4" width="1.0" height="1.0" fill="#333"/>
<rect x="170.9" y="130.6" width="1.0" height="1.0" fill="#333"/>
<rect x="188.2" y="130.2" width="1.0" height="1.0" fill="#333"/>
<rect x="182.8" y="101.3" width="1.0" height="1.0" fill="#333"/>
<rect x="171.4" y="119.3" width="1.0" height="1.0" fill="#333"/>
<rect x="183.4" y="111.7" width="1.0" height="1.0" fill="#333"/>
<rect x="176.8" y="134.2" width="1.0" height="1.0" fill="#333"/>
<rect x="198.8" y="100.3" width="1.0" height="1.0" fill="#333"/>
<rect x="179.4" y="100.2" width="1.0" height="1.0" fill="#333"/>
<rect x="191.6" y="107.3" width="1.0" height="1.0" fill="#333"/>
<rect x="180.1" y="106.8" width="1.0" height="1.0" fill="#333"/>
<rect x="194.5" y="130.0" width="1.0" height="1.0" fill="#333"/>
<rect x="177.2" y="125.7" width="1.0" height="1.0" fill="#333"/>
<rect x="178.8" y="107.1" width="1.0" height="1.0" fill="#333"/>
<rect x="172.2" y="124.8" width="1.0" height="1.0" fill="#333"/>
<rect x="172.1" y="114.9" width="1.0" height="1.0" fill="#333"/>
<rect x="192.1" y="114.2" width="1.0" height="1.0" fill="#333"/>
<rect x="173.4" y="125.6" width="1.0" height="1.0" fill="#333"/>
<rect x="182.2" y="123.1" width="1.0" height="1.0" fill="#333"/>
<rect x="170.8" y="126.4" width="1.0" height="1.0" fill="#333"/>
<rect x="194.7" y="114.1" width="1.0" height="1.0" fill="#333"/>
<rect x="162.4" y="122.6" width="1.0" height="1.0" fill="#333"/>
<rect x="170.2" y="119.5" width="1.0" height="1.0" fill="#333"/>
<rect x="186.6" y="121.1" width="1.0" height="1.0" fill="#333"/>
<rect x="172.4" y="120.2" width="1.0" height="1.0" fill="#333"/>
<rect x="191.3" y="114.0" width="1.0" height="1.0" fill="#333"/>
<rect x="194.9" y="116.3" width="1.0" height="1.0" fill="#333"/>
<rect x="188.4" y="123.7" width="1.0" height="1.0" fill="#333"/>
<rect x="183.0" y="109.4" width="1.0" height="1.0" fill="#333"/>
<rect x="175.9" y="127.8" width="1.0" height="1.0" fill="#333"/>
<rect x="190.7" y="118.1" width="1.0" height="1.0" fill="#333"/>
<rect x="177.8" y="104.9" width="1.0" height="1.0" fill="#333"/>
<rect x="197.8" y="105.2" width="1.0" height="1.0" fill="#333"/>
<rect x="180.4" y="102.6" width="1.0" height="1.0" fill="#333"/>
<rect x="177.4" y="112.6" width="0.9" height="0.9" fill="#555"/>
<rect x="169.6" y="112.5" width="1.0" height="1.0" fill="#333"/>
<rect x="195.2" y="123.4" width="1.0" height="1.0" fill="#333"/>
<rect x="190.4" y="107.6" width="1.0" height="1.0" fill="#333"/>
<rect x="182.3" y="107.9" width="1.0" height="1.0" fill="#333"/>
<rect x="182.6" y="128.8" width="1.0" height="1.0" fill="#333"/>
<rect x="165.2" y="114.9" width="1.0" height="1.0" fill="#333"/>
<rect x="188.6" y="107.5" width="1.0" height="1.0" fill="#333"/>
<rect x="195.3" y="124.5" width="1.0" height="1.0" fill="#333"/>
<rect x="177.5" y="118.3" width="0.9" height="0.9" fill="#555"/>
<rect x="187.6" y="108.8" width="1.0" height="1.0" fill="#333"/>
<rect x="182.7" y="123.7" width="1.0" height="1.0" fill="#333"/>
<rect x="186.8" y="112.1" width="1.0" height="1.0" fill="#333"/>
<rect x="176.5" y="128.9" width="1.0" height="1.0" fill="#333"/>
<rect x="178.8" y="125.1" width="1.0" height="1.0" fill="#333"/>
<rect x="185.3" y="112.6" width="1.0" height="1.0" fill="#333"/>
<rect x="189.0" y="124.4" width="1.0" height="1.0" fill="#333"/>
<rect x="185.2" y="120.8" width="1.0" height="1.0" fill="#333"/>
<rect x="170.5" y="130.1" width="1.0" height="1.0" fill="#333"/>
<rect x="166.5" y="108.9" width="1.0" height="1.0" fill="#333"/>
<rect x="177.1" y="132.4" width="1.0" height="1.0" fill="#333"/>
<rect x="187.0" y="118.6" width="1.0" height="1.0" fill="#333"/>
<rect x="169.4" y="110.1" width="1.0" height="1.0" fill="#333"/>
<rect x="185.6" y="97.5" width="1.0" height="1.0" fill="#333"/>
<rect x="189.2" y="117.6" width="1.0" height="1.0" fill="#333"/>
<rect x="178.1" y="109.1" width="1.0" height="1.0" fill="#333"/>
<rect x="179.1" y="115.0" width="0.9" height="0.9" fill="#555"/>
<rect x="193.3" y="115.4" width="1.0" height="1.0" fill="#333"/>
<rect x="186.9" y="109.4" width="1.0" height="1.0" fill="#333"/>
<rect x="173.3" y="127.7" width="1.0" height="1.0" fill="#333"/>
<rect x="183.6" y="107.6" width="1.0" height="1.0" fill="#333"/>
<rect x="193.2" y="120.5" width="1.0" height="1.0" fill="#333"/>
<rect x="192.3" y="114.8" width="1.0" height="1.0" fill="#333"/>
<rect x="166.2" y="122.1" width="1.0" height="1.0" fill="#333"/>
<rect x="170.1" y="124.0" width="1.0" height="1.0" fill="#333"/>
<rect x="194.3" y="106.1" width="1.0" height="1.0" fill="#333"/>
<rect x="178.2" y="113.1" width="0.9" height="0.9" fill="#555"/>
<rect x="178.4" y="132.6" width="1.0" height="1.0" fill="#333"/>
<rect x="185.0" y="116.7" width="1.0" height="1.0" fill="#333"/>
<rect x="167.4" y="127.0" width="1.0" height="1.0" fill="#333"/>
<rect x="194.2" y="127.8" width="1.0" height="1.0" fill="#333"/>
<rect x="172.7" y="115.1" width="1.0" height="1.0" fill="#333"/>
<rect x="190.4" y="117.6" width="1.0" height="1.0" fill="#333"/>
<rect x="168.6" y="133.7" width="1.0" height="1.0" fill="#333"/>
<rect x="174.7" y="117.1" width="0.9" height="0.9" fill="#555"/>
<rect x="168.9" y="119.1" width="1.0" height="1.0" fill="#333"/>
<rect x="177.4" y="129.7" width="1.0" height="1.0" fill="#333"/>
<rect x="183.9" y="126.4" width="1.0" height="1.0" fill="#333"/>
<rect x="188.4" y="124.6" width="1.0" height="1.0" fill="#333"/>
<rect x="179.1" y="133.5" width="1.0" height="1.0" fill="#333"/>
<rect x="192.9" y="103.0" width="1.0" height="1.0" fill="#333"/>
<rect x="171.4" y="123.5" width="1.0" height="1.0" fill="#333"/>
<rect x="172.8" y="131.8" width="1.0" height="1.0" fill="#333"/>
<rect x="186.8" y="118.9" width="1.0" height="1.0" fill="#333"/>
<rect x="190.4" y="117.7" width="1.0" height="1.0" fill="#333"/>
<rect x="177.9" y="110.4" width="1.0" height="1.0" fill="#333"/>
<rect x="182.2" y="131.8" width="1.0" height="1.0" fill="#333"/>
<rect x="183.7" y="108.3" width="1.0" height="1.0" fill="#333"/>
<rect x="170.8" y="120.0" width="1.0" height="1.0" fill="#333"/>
<rect x="173.8" y="126.1" width="1.0" height="1.0" fill="#333"/>
<rect x="169.3" y="116.9" width="1.0" height="1.0" fill="#333"/>
<rect x="186.6" y="113.6" width="1.0" height="1.0" fill="#333"/>
<rect x="184.0" y="120.3" width="1.0" height="1.0" fill="#333"/>
<rect x="184.3" y="109.5" width="1.0" height="1.0" fill="#333"/>
<rect x="177.6" y="105.2" width="1.0" height="1.0" fill="#333"/>
<rect x="173.6" y="129.1" width="1.0" height="1.0" fill="#333"/>
<rect x="167.5" y="126.8" width="1.0" height="1.0" fill="#333"/>
<rect x="182.6" y="110.2" width="1.0" height="1.0" fill="#333"/>
<rect x="172.9" y="128.4" width="1.0" height="1.0" fill="#333"/>
<rect x="171.0" y="112.2" width="1.0" height="1.0" fill="#333"/>
<rect x="169.4" y="115.5" width="1.0" height="1.0" fill="#333"/>
<rect x="191.3" y="109.1" width="1.0" height="1.0" fill="#333"/>
<rect x="190.9" y="114.7" width="1.0" height="1.0" fill="#333"/>
<rect x="201.0" y="105.4" width="1.0" height="1.0" fill="#333"/>
<rect x="184.0" y="119.8" width="1.0" height="1.0" fill="#333"/>
<rect x="179.0" y="108.2" width="1.0" height="1.0" fill="#333"/>
<rect x="185.5" y="100.0" width="1.0" height="1.0" fill="#333"/>
<rect x="171.8" y="125.4" width="1.0" height="1.0" fill="#333"/>
<rect x="188.2" y="115.4" width="1.0" height="1.0" fill="#333"/>
<rect x="179.1" y="124.5" width="1.0" height="1.0" fill="#333"/>
<rect x="183.0" y="121.1" width="1.0" height="1.0" fill="#333"/>
<rect x="177.0" y="128.8" width="1.0" height="1.0" fill="#333"/>
<rect x="188.3" y="104.9" width="1.0" height="1.0" fill="#333"/>
<rect x="182.6" y="106.4" width="1.0" height="1.0" fill="#333"/>
<rect x="185.3" y="115.1" width="1.0" height="1.0" fill="#333"/>
<rect x="174.3" y="113.5" width="0.9" height="0.9" fill="#555"/>
<rect x="192.2" y="123.9" width="1.0" height="1.0" fill="#333"/>
<rect x="183.2" y="126.2" width="1.0" height="1.0" fill="#333"/>
<rect x="184.8" y="120.2" width="1.0" height="1.0" fill="#333"/>
<rect x="195.5" y="104.6" width="1.0" height="1.0" fill="#333"/>
<rect x="186.9" y="121.3" width="1.0" height="1.0" fill="#333"/>
<rect x="182.5" y="114.0" width="0.9" height="0.9" fill="#555"/>
<rect x="172.8" y="124.5" width="1.0" height="1.0" fill="#333"/>
<rect x="174.1" y="129.1" width="1.0" height="1.0" fill="#333"/>
<rect x="198.0" y="104.8" width="1.0" height="1.0" fill="#333"/>
<rect x="180.9" y="122.2" width="1.0" height="1.0" fill="#333"/>
<rect x="196.2" y="104.5" width="1.0" height="1.0" fill="#333"/>
<rect x="172.3" y="105.7" width="1.0" height="1.0" fill="#333"/>
<rect x="188.3" y="122.2" width="1.0" height="1.0" fill="#333"/>
<rect x="197.0" y="123.7" width="1.0" height="1.0" fill="#333"/>
<rect x="192.1" y="118.4" width="1.0" height="1.0" fill="#333"/>
<rect x="185.6" y="107.5" width="1.0" height="1.0" fill="#333"/>
<rect x="192.5" y="110.4" width="1.0" height="1.0" fill="#333"/>
<rect x="182.4" y="109.5" width="1.0" height="1.0" fill="#333"/>
<rect x="181.0" y="129.7" width="1.0" height="1.0" fill="#333"/>
<rect x="185.3" y="128.4" width="1.0" height="1.0" fill="#333"/>
<rect x="171.1" y="107.3" width="1.0" height="1.0" fill="#333"/>
<rect x="179.3" y="124.0" width="1.0" height="1.0" fill="#333"/>
<rect x="167.7" y="119.8" width="1.0" height="1.0" fill="#333"/>
<rect x="192.3" y="114.4" width="1.0" height="1.0" fill="#333"/>
<rect x="172.3" y="111.8" width="1.0" height="1.0" fill="#333"/>
<rect x="198.3" y="106.1" width="1.0" height="1.0" fill="#333"/>
<rect x="192.2" y="126.7" width="1.0" height="1.0" fill="#333"/>
<rect x="201.8" y="95.5" width="1.0" height="1.0" fill="#333"/>
<rect x="189.6" y="112.4" width="1.0" height="1.0" fill="#333"/>
<rect x="171.5" y="117.2" width="1.0" height="1.0" fill="#333"/>
<rect x="186.2" y="119.6" width="1.0" height="1.0" fill="#333"/>
<rect x="206.2" y="113.4" width="1.0" height="1.0" fill="#333"/>
<rect x="177.7" y="131.7" width="1.0" height="1.0" fill="#333"/>
<rect x="193.8" y="104.9" width="1.0" height="1.0" fill="#333"/>
<rect x="188.6" y="126.2" width="1.0" height="1.0" fill="#333"/>
<rect x="177.2" y="107.0" width="1.0" height="1.0" fill="#333"/>
<rect x="160.6" y="133.2" width="1.0" height="1.0" fill="#333"/>
<rect x="179.6" y="115.4" width="0.9" height="0.9" fill="#555"/>
<rect x="188.7" y="115.5" width="1.0" height="1.0" fill="#333"/>
<rect x="184.8" y="133.9" width="1.0" height="1.0" fill="#333"/>
<rect x="194.9" y="116.7" width="1.0" height="1.0" fill="#333"/>
<rect x="189.2" y="115.7" width="1.0" height="1.0" fill="#333"/>
<rect x="190.0" y="112.6" width="1.0" height="1.0" fill="#333"/>
<rect x="191.6" y="112.7" width="1.0" height="1.0" fill="#333"/>
<rect x="175.6" y="130.0" width="1.0" height="1.0" fill="#333"/>
<rect x="177.5" y="131.6" width="1.0" height="1.0" fill="#333"/>
<rect x="189.6" y="108.4" width="1.0" height="1.0" fill="#333"/>
<rect x="193.9" y="118.8" width="1.0" height="1.0" fill="#333"/>
<rect x="188.5" y="122.1" width="1.0" height="1.0" fill="#333"/>
<rect x="181.9" y="118.3" width="0.9" height="0.9" fill="#555"/>
<rect x="182.5" y="122.9" width="1.0" height="1.0" fill="#333"/>
<rect x="172.2" y="120.0" width="1.0" height="1.0" fill="#333"/>
<rect x="198.1" y="104.9" width="1.0" height="1.0" fill="#333"/>
<rect x="184.5" y="117.8" width="1.0" height="1.0" fill="#333"/>
<rect x="183.3" y="126.6" width="1.0" height="1.0" fill="#333"/>
<rect x="173.1" y="127.6" width="1.0" height="1.0" fill="#333"/>
<rect x="168.7" y="117.8" width="1.0" height="1.0" fill="#333"/>
<rect x="195.0" y="119.5" width="1.0" height="1.0" fill="#333"/>
<rect x="184.1" y="111.4" width="1.0" height="1.0" fill="#333"/>
<rect x="187.7" y="125.2" width="1.0" height="1.0" fill="#333"/>
<rect x="183.7" y="119.3" width="1.0" height="1.0" fill="#333"/>
<rect x="183.2" y="123.1" width="1.0" height="1.0" fill="#333"/>
<rect x="185.5" y="134.0" width="1.0" height="1.0" fill="#333"/>
<rect x="190.0" y="109.2" width="1.0" height="1.0" fill="#333"/>
<rect x="191.1" y="120.7" width="1.0" height="1.0" fill="#333"/>
<rect x="186.0" y="92.8" width="1.0" height="1.0" fill="#333"/>
<rect x="181.9" y="127.4" width="1.0" height="1.0" fill="#333"/>
<rect x="178.9" y="118.1" width="0.9" height="0.9" fill="#555"/>
<rect x="185.0" y="110.6" width="1.0" height="1.0" fill="#333"/>
<rect x="175.4" y="130.2" width="1.0" height="1.0" fill="#333"/>
<rect x="185.3" y="132.0" width="1.0" height="1.0" fill="#333"/>
<rect x="170.9" y="109.8" width="1.0" height="1.0" fill="#333"/>
<rect x="193.2" y="114.9" width="1.0" height="1.0" fill="#333"/>
<rect x="184.0" y="108.6" width="1.0" height="1.0" fill="#333"/>
<rect x="185.4" y="117.3" width="1.0" height="1.0" fill="#333"/>
<rect x="183.5" y="122.7" width="1.0" height="1.0" fill="#333"/>
<rect x="189.8" y="117.8" width="1.0" height="1.0" fill="#333"/>
<rect x="183.7" y="109.2" width="1.0" height="1.0" fill="#333"/>
<rect x="175.3" y="108.8" width="1.0" height="1.0" fill="#333"/>
<rect x="181.0" y="121.7" width="0.9" height="0.9" fill="#555"/>
<rect x="178.2" y="132.4" width="1.0" height="1.0" fill="#333"/>
<rect x="172.4" y="123.6" width="1.0" height="1.0" fill="#333"/>
<rect x="191.6" y="116.5" width="1.0" height="1.0" fill="#333"/>
<rect x="171.5" y="106.2" width="1.0" height="1.0" fill="#333"/>
<rect x="179.0" y="98.2" width="1.0" height="1.0" fill="#333"/>
<rect x="173.3" y="112.0" width="1.0" height="1.0" fill="#333"/>
<rect x="182.9" y="109.3" width="1.0" height="1.0" fill="#333"/>
<rect x="188.3" y="107.8" width="1.0" height="1.0" fill="#333"/>
<rect x="186.0" y="109.9" width="1.0" height="1.0" fill="#333"/>
<rect x="177.3" y="122.5" width="0.9" height="0.9" fill="#555"/>
<rect x="184.1" y="122.3" width="1.0" height="1.0" fill="#333"/>
<rect x="168.4" y="120.6" width="1.0" height="1.0" fill="#333"/>
<rect x="176.5" y="109.3" width="1.0" height="1.0" fill="#333"/>
<rect x="198.7" y="118.5" width="1.0" height="1.0" fill="#333"/>
<rect x="164.9" y="112.3" width="1.0" height="1.0" fill="#333"/>
<rect x="190.7" y="101.9" width="1.0" height="1.0" fill="#333"/>
<rect x="187.8" y="126.1" width="1.0" height="1.0" fill="#333"/>
<rect x="182.7" y="121.5" width="1.0" height="1.0" fill="#333"/>
<rect x="174.9" y="116.5" width="0.9" height="0.9" fill="#555"/>
<rect x="177.2" y="123.5" width="1.0" height="1.0" fill="#333"/>
<rect x="188.2" y="118.2" width="1.0" height="1.0" fill="#333"/>
<rect x="188.0" y="122.7" width="1.0" height="1.0" fill="#333"/>
<rect x="184.9" y="101.5" width="1.0" height="1.0" fill="#333"/>
<rect x="188.7" y="116.3" width="1.0" height="1.0" fill="#333"/>
<rect x="185.4" y="114.8" width="1.0" height="1.0" fill="#333"/>
<rect x="186.1" y="124.2" width="1.0" height="1.0" fill="#333"/>
<rect x="178.5" y="117.3" width="0.9" height="0.9" fill="#555"/>
<rect x="168.1" y="118.8" width="1.0" height="1.0" fill="#333"/>
<rect x="188.5" y="112.2" width="1.0" height="1.0" fill="#333"/>
<rect x="191.0" y="125.4" width="1.0" height="1.0" fill="#333"/>
<rect x="194.0" y="107.8" width="1.0" height="1.0" fill="#333"/>
<rect x="186.3" y="113.2" width="1.0" height="1.0" fill="#333"/>
<rect x="199.3" y="121.1" width="1.0" height="1.0" fill="#333"/>
<rect x="187.3" y="120.0" width="1.0" height="1.0" fill="#333"/>
<rect x="181.3" y="110.6" width="1.0" height="1.0" fill="#333"/>
<rect x="186.3" y="111.0" width="1.0" height="1.0" fill="#333"/>
<rect x="177.6" y="123.9" width="1.0" height="1.0" fill="#333"/>
<rect x="192.4" y="120.3" width="1.0" height="1.0" fill="#333"/>
<rect x="189.9" y="93.8" width="1.0" height="1.0" fill="#333"/>
<rect x="170.5" y="113.6" width="1.0" height="1.0" fill="#333"/>
<rect x="180.0" y="125.3" width="1.0" height="1.0" fill="#333"/>
<rect x="170.5" y="127.4" width="1.0" height="1.0" fill="#333"/>
<rect x="189.9" y="110.4" width="1.0" height="1.0" fill="#333"/>
<rect x="180.6" y="114.2" width="0.9" height="0.9" fill="#555"/>
<rect x="197.0" y="107.8" width="1.0" height="1.0" fill="#333"/>
<rect x="193.7" y="97.8" width="1.0" height="1.0" fill="#333"/>
<rect x="179.7" y="127.4" width="1.0" height="1.0" fill="#333"/>
<rect x="189.8" y="111.9" width="1.0" height="1.0" fill="#333"/>
<rect x="174.2" y="108.6" width="1.0" height="1.0" fill="#333"/>
<rect x="189.3" y="118.2" width="1.0" height="1.0" fill="#333"/>
<rect x="195.3" y="109.6" width="1.0" height="1.0" fill="#333"/>
<rect x="172.8" y="105.1" width="1.0" height="1.0" fill="#333"/>
<rect x="173.4" y="108.7" width="1.0" height="1.0" fill="#333"/>
<rect x="175.5" y="99.7" width="1.0" height="1.0" fill="#333"/>
<rect x="180.9" y="107.5" width="1.0" height="1.0" fill="#333"/>
<rect x="189.5" y="118.6" width="1.0" height="1.0" fill="#333"/>
<rect x="186.0" y="117.7" width="1.0" height="1.0" fill="#333"/>
<rect x="190.4" y="104.2" width="1.0" height="1.0" fill="#333"/>
<rect x="184.9" y="121.7" width="1.0" height="1.0" fill="#333"/>
<rect x="174.6" y="123.4" width="1.0" height="1.0" fill="#333"/>
<rect x="181.4" y="122.2" width="1.0" height="1.0" fill="#333"/>
<rect x="176.1" y="126.7" width="1.0" height="1.0" fill="#333"/>
<rect x="169.1" y="108.4" width="1.0" height="1.0" fill="#333"/>
<rect x="183.7" y="112.4" width="1.0" height="1.0" fill="#333"/>
<rect x="173.0" y="123.5" width="1.0" height="1.0" fill="#333"/>
<rect x="194.4" y="112.6" width="1.0" height="1.0" fill="#333"/>
<rect x="168.5" y="123.4" width="1.0" height="1.0" fill="#333"/>
<rect x="157.3" y="113.9" width="1.0" height="1.0" fill="#333"/>
<rect x="175.1" y="102.4" width="1.0" height="1.0" fill="#333"/>
<rect x="176.9" y="101.6" width="1.0" height="1.0" fill="#333"/>
<rect x="186.7" y="119.5" width="1.0" height="1.0" fill="#333"/>
<rect x="178.6" y="130.1" width="1.0" height="1.0" fill="#333"/>
<rect x="166.4" y="115.4" width="1.0" height="1.0" fill="#333"/>
<rect x="181.0" y="128.4" width="1.0" height="1.0" fill="#333"/>
<rect x="182.7" y="121.2" width="1.0" height="1.0" fill="#333"/>
<rect x="166.8" y="128.6" width="1.0" height="1.0" fill="#333"/>
<rect x="185.8" y="120.1" width="1.0" height="1.0" fill="#333"/>
<rect x="175.2" y="106.4" width="1.0" height="1.0" fill="#333"/>
<rect x="173.3" y="114.3" width="1.0" height="1.0" fill="#333"/>
<rect x="175.3" y="108.6" width="1.0" height="1.0" fill="#333"/>
<rect x="169.5" y="120.8" width="1.0" height="1.0" fill="#333"/>
<rect x="178.1" y="132.8" width="1.0" height="1.0" fill="#333"/>
<rect x="169.9" y="117.6" width="1.0" height="1.0" fill="#333"/>
<rect x="180.7" y="104.4" width="1.0" height="1.0" fill="#333"/>
<rect x="181.2" y="106.2" width="1.0" height="1.0" fill="#333"/>
<rect x="185.6" y="107.3" width="1.0" height="1.0" fill="#333"/>
<rect x="184.2" y="124.0" width="1.0" height="1.0" fill="#333"/>
<rect x="185.2" y="103.4" width="1.0" height="1.0" fill="#333"/>
<rect x="176.2" y="109.1" width="1.0" height="1.0" fill="#333"/>
<rect x="185.5" y="111.9" width="1.0" height="1.0" fill="#333"/>
<rect x="171.4" y="120.3" width="1.0" height="1.0" fill="#333"/>
<rect x="177.5" y="126.4" width="1.0" height="1.0" fill="#333"/>
<rect x="188.3" y="124.0" width="1.0" height="1.0" fill="#333"/>
<rect x="183.9" y="103.4" width="1.0" height="1.0" fill="#333"/>
<rect x="172.4" y="116.9" width="1.0" height="1.0" fill="#333"/>
<rect x="179.3" y="125.2" width="1.0" height="1.0" fill="#333"/>
<rect x="190.7" y="110.3" width="1.0" height="1.0" fill="#333"/>
<rect x="187.8" y="106.3" width="1.0" height="1.0" fill="#333"/>
<rect x="182.6" y="126.1" width="1.0" height="1.0" fill="#333"/>
<rect x="176.2" y="107.5" width="1.0" height="1.0" fill="#333"/>
<rect x="180.9" y="117.7" width="0.9" height="0.9" fill="#555"/>
<rect x="190.0" y="106.2" width="1.0" height="1.0" fill="#333"/>
<rect x="177.6" y="131.4" width="1.0" height="1.0" fill="#333"/>
<rect x="183.3" y="111.7" width="1.0" height="1.0" fill="#333"/>
<rect x="185.4" y="105.8" width="1.0" height="1.0" fill="#333"/>
<rect x="170.2" y="111.3" width="1.0" height="1.0" fill="#333"/>
<rect x="186.3" y="109.8" width="1.0" height="1.0" fill="#333"/>
<rect x="175.8" y="130.7" width="1.0" height="1.0" fill="#333"/>
<rect x="168.9" y="122.4" width="1.0" height="1.0" fill="#333"/>
<rect x="169.6" y="121.9" width="1.0" height="1.0" fill="#333"/>
<rect x="181.2" y="104.3" width="1.0" height="1.0" fill="#333"/>
<rect x="192.1" y="110.3" width="1.0" height="1.0" fill="#333"/>
<rect x="177.7" y="127.7" width="1.0" height="1.0" fill="#333"/>
<rect x="177.6" y="123.6" width="1.0" height="1.0" fill="#333"/>
<rect x="179.0" y="99.8" width="1.0" height="1.0" fill="#333"/>
<rect x="181.9" y="123.3" width="1.0" height="1.0" fill="#333"/>
<rect x="175.6" y="123.1" width="1.0" height="1.0" fill="#333"/>
<rect x="179.5" y="129.9" width="1.0" height="1.0" fill="#333"/>
<rect x="184.4" y="119.2" width="1.0" height="1.0" fill="#333"/>
<rect x="180.8" y="127.1" width="1.0" height="1.0" fill="#333"/>
<rect x="187.6" y="104.5" width="1.0" height="1.0" fill="#333"/>
<rect x="177.4" y="126.6" width="1.0" height="1.0" fill="#333"/>
<rect x="173.4" y="123.3" width="1.0" height="1.0" fill="#333"/>
<rect x="183.3" y="127.7" width="1.0" height="1.0" fill="#333"/>
<rect x="183.3" y="124.6" width="1.0" height="1.0" fill="#333"/>
<rect x="182.8" y="99.2" width="1.0" height="1.0" fill="#333"/>
<rect x="170.7" y="131.4" width="1.0" height="1.0" fill="#333"/>
<rect x="187.3" y="121.9" width="1.0" height="1.0" fill="#333"/>
<rect x="178.1" y="116.9" width="0.9" height="0.9" fill="#555"/>
<rect x="183.1" y="123.4" width="1.0" height="1.0" fill="#333"/>
<rect x="183.5" y="108.1" width="1.0" height="1.0" fill="#333"/>
<rect x="189.9" y="125.7" width="1.0" height="1.0" fill="#333"/>
<rect x="189.3" y="123.8" width="1.0" height="1.0" fill="#333"/>
<rect x="184.9" y="119.5" width="1.0" height="1.0" fill="#333"/>
<rect x="180.6" y="106.2" width="1.0" height="1.0" fill="#333"/>
<rect x="183.9" y="120.1" width="1.0" height="1.0" fill="#333"/>
<rect x="172.3" y="123.5" width="1.0" height="1.0" fill="#333"/>
<rect x="176.1" y="124.2" width="1.0" height="1.0" fill="#333"/>
<rect x="174.0" y="125.2" width="1.0" height="1.0" fill="#333"/>
<rect x="185.0" y="129.1" width="1.0" height="1.0" fill="#333"/>
<rect x="177.0" y="127.5" width="1.0" height="1.0" fill="#333"/>
<rect x="172.5" y="109.3" width="1.0" height="1.0" fill="#333"/>
<rect x="178.0" y="109.8" width="1.0" height="1.0" fill="#333"/>
<rect x="162.1" y="125.2" width="1.0" height="1.0" fill="#333"/>
<rect x="185.4" y="101.5" width="1.0" height="1.0" fill="#333"/>
<rect x="184.1" y="119.8" width="1.0" height="1.0" fill="#333"/>
<rect x="183.1" y="107.1" width="1.0" height="1.0" fill="#333"/>
<rect x="184.6" y="95.0" width="1.0" height="1.0" fill="#333"/>
<rect x="166.8" y="120.5" width="1.0" height="1.0" fill="#333"/>
<rect x="193.5" y="116.9" width="1.0" height="1.0" fill="#333"/>
<rect x="167.2" y="120.8" width="1.0" height="1.0" fill="#333"/>
<rect x="187.3" y="123.6" width="1.0" height="1.0" fill="#333"/>
<rect x="190.4" y="120.1" width="1.0" height="1.0" fill="#333"/>
<rect x="192.8" y="98.4" width="1.0" height="1.0" fill="#333"/>
<rect x="175.6" y="124.6" width="1.0" height="1.0" fill="#333"/>
<rect x="184.2" y="112.6" width="1.0" height="1.0" fill="#333"/>
<rect x="184.9" y="119.8" width="1.0" height="1.0" fill="#333"/>
<rect x="174.2" y="127.2" width="1.0" height="1.0" fill="#333"/>
<rect x="188.6" y="118.6" width="1.0" height="1.0" fill="#333"/>
<rect x="188.1" y="121.7" width="1.0" height="1.0" fill="#333"/>
<rect x="185.1" y="115.7" width="1.0" height="1.0" fill="#333"/>
<rect x="188.7" y="110.3" width="1.0" height="1.0" fill="#333"/>
<rect x="185.9" y="109.7" width="1.0" height="1.0" fill="#333"/>
<rect x="184.9" y="116.0" width="1.0" height="1.0" fill="#333"/>
<rect x="176.0" y="110.9" width="1.0" height="1.0" fill="#333"/>
<rect x="177.0" y="128.0" width="1.0" height="1.0" fill="#333"/>
<rect x="190.8" y="129.5" width="1.0" height="1.0" fill="#333"/>
<rect x="171.2" y="120.7" width="1.0" height="1.0" fill="#333"/>
<rect x="190.7" y="107.0" width="1.0" height="1.0" fill="#333"/>
<rect x="181.3" y="93.3" width="1.0" height="1.0" fill="#333"/>
<rect x="174.2" y="108.6" width="1.0" height="1.0" fill="#333"/>
<rect x="186.8" y="107.4" width="1.0" height="1.0" fill="#333"/>
<rect x="184.9" y="115.7" width="1.0" height="1.0" fill="#333"/>
<rect x="187.4" y="121.6" width="1.0" height="1.0" fill="#333"/>
<rect x="184.1" y="122.8" width="1.0" height="1.0" fill="#333"/>
<rect x="188.2" y="121.6" width="1.0" height="1.0" fill="#333"/>
<rect x="178.6" y="127.9" width="1.0" height="1.0" fill="#333"/>
<rect x="181.7" y="110.7" width="1.0" height="1.0" fill="#333"/>
<rect x="183.2" y="127.8" width="1.0" height="1.0" fill="#333"/>
<rect x="195.4" y="115.4" width="1.0" height="1.0" fill="#333"/>
<rect x="185.1" y="121.1" width="1.0" height="1.0" fill="#333"/>
<rect x="187.5" y="110.7" width="1.0" height="1.0" fill="#333"/>
<rect x="180.0" y="128.0" width="1.0" height="1.0" fill="#333"/>
<rect x="189.0" y="116.6" width="1.0" height="1.0" fill="#333"/>
<rect x="171.7" y="114.1" width="1.0" height="1.0" fill="#333"/>
<rect x="174.3" y="112.5" width="1.0" height="1.0" fill="#333"/>
<rect x="186.5" y="111.0" width="1.0" height="1.0" fill="#333"/>
<rect x="165.8" y="130.8" width="1.0" height="1.0" fill="#333"/>
<rect x="190.2" y="120.7" width="1.0" height="1.0" fill="#333"/>
<rect x="175.5" y="131.5" width="1.0" height="1.0" fill="#333"/>
<rect x="182.6" y="105.1" width="1.0" height="1.0" fill="#333"/>
<rect x="169.8" y="133.1" width="1.0" height="1.0" fill="#333"/>
<rect x="168.3" y="120.7" width="1.0" height="1.0" fill="#333"/>
<rect x="171.8" y="131.0" width="1.0" height="1.0" fill="#333"/>
<rect x="192.7" y="107.2" width="1.0" height="1.0" fill="#333"/>
<rect x="175.2" y="128.9" width="1.0" height="1.0" fill="#333"/>
<rect x="170.2" y="109.1" width="1.0" height="1.0" fill="#333"/>
<rect x="173.8" y="133.8" width="1.0" height="1.0" fill="#333"/>
<rect x="180.6" y="121.6" width="0.9" height="0.9" fill="#555"/>
<rect x="190.9" y="117.3" width="1.0" height="1.0" fill="#333"/>
<rect x="172.3" y="114.1" width="1.0" height="1.0" fill="#333"/>
<rect x="188.8" y="112.6" width="1.0" height="1.0" fill="#333"/>
<rect x="175.0" y="118.0" width="0.9" height="0.9" fill="#555"/>
<rect x="180.9" y="122.4" width="1.0" height="1.0" fill="#333"/>
<rect x="186.5" y="117.9" width="1.0" height="1.0" fill="#333"/>
<rect x="187.7" y="100.7" width="1.0" height="1.0" fill="#333"/>
<rect x="175.0" y="111.6" width="1.0" height="1.0" fill="#333"/>
<rect x="169.2" y="116.9" width="1.0" height="1.0" fill="#333"/>
<rect x="179.7" y="125.9" width="1.0" height="1.0" fill="#333"/>
<rect x="188.3" y="106.2" width="1.0" height="1.0" fill="#333"/>
<rect x="165.3" y="119.9" width="1.0" height="1.0" fill="#333"/>
<rect x="170.8" y="121.5" width="1.0" height="1.0" fill="#333"/>
<rect x="187.3" y="127.3" width="1.0" height="1.0" fill="#333"/>
<rect x="197.3" y="106.7" width="1.0" height="1.0" fill="#333"/>
<rect x="172.4" y="107.8" width="1.0" height="1.0" fill="#333"/>
<rect x="184.0" y="111.8" width="1.0" height="1.0" fill="#333"/>
<rect x="177.3" y="128.4" width="1.0" height="1.0" fill="#333"/>
<rect x="179.4" y="124.4" width="1.0" height="1.0" fill="#333"/>
<rect x="185.4" y="116.1" width="1.0" height="1.0" fill="#333"/>
<rect x="188.2" y="104.1" width="1.0" height="1.0" fill="#333"/>
<rect x="185.7" y="132.0" width="1.0" height="1.0" fill="#333"/>
<rect x="185.4" y="109.8" width="1.0" height="1.0" fill="#333"/>
<rect x="183.4" y="102.0" width="1.0" height="1.0" fill="#333"/>
<rect x="190.6" y="128.6" width="1.0" height="1.0" fill="#333"/>
<rect x="165.4" y="132.8" width="1.0" height="1.0" fill="#333"/>
<rect x="195.4" y="111.3" width="1.0" height="1.0" fill="#333"/>
<rect x="190.5" y="127.0" width="1.0" height="1.0" fill="#333"/>
<rect x="181.4" y="105.2" width="1.0" height="1.0" fill="#333"/>
<rect x="181.2" y="123.3" width="1.0" height="1.0" fill="#333"/>
<rect x="190.5" y="107.6" width="1.0" height="1.0" fill="#333"/>
<rect x="199.6" y="114.4" width="1.0" height="1.0" fill="#333"/>
<rect x="175.5" y="125.0" width="1.0" height="1.0" fill="#333"/>
<rect x="196.8" y="108.5" width="1.0" height="1.0" fill="#333"/>
<rect x="171.2" y="126.9" width="1.0" height="1.0" fill="#333"/>
<rect x="193.5" y="126.7" width="1.0" height="1.0" fill="#333"/>
<rect x="177.3" y="116.6" width="0.9" height="0.9" fill="#555"/>
<rect x="166.1" y="112.8" width="1.0" height="1.0" fill="#333"/>
<rect x="188.5" y="119.4" width="1.0" height="1.0" fill="#333"/>
<rect x="171.7" y="120.9" width="1.0" height="1.0" fill="#333"/>
<rect x="177.7" y="117.4" width="0.9" height="0.9" fill="#555"/>
<rect x="182.2" y="103.7" width="1.0" height="1.0" fill="#333"/>
<rect x="176.5" y="110.5" width="1.0" height="1.0" fill="#333"/>
<rect x="197.3" y="123.2" width="1.0" height="1.0" fill="#333"/>
<rect x="187.1" y="117.6" width="1.0" height="1.0" fill="#333"/>
<rect x="190.9" y="112.3" width="1.0" height="1.0" fill="#333"/>
<rect x="174.8" y="107.8" width="1.0" height="1.0" fill="#333"/>
<rect x="190.3" y="103.7" width="1.0" height="1.0" fill="#333"/>
<rect x="181.2" y="102.5" width="1.0" height="1.0" fill="#333"/>
<rect x="184.9" y="121.2" width="1.0" height="1.0" fill="#333"/>
<rect x="185.7" y="111.0" width="1.0" height="1.0" fill="#333"/>
<rect x="163.9" y="123.1" width="1.0" height="1.0" fill="#333"/>
<rect x="174.6" y="109.5" width="1.0" height="1.0" fill="#333"/>
<rect x="178.1" y="107.0" width="1.0" height="1.0" fill="#333"/>
<rect x="183.3" y="110.3" width="1.0" height="1.0" fill="#333"/>
<rect x="169.6" y="124.9" width="1.0" height="1.0" fill="#333"/>
<rect x="187.8" y="110.7" width="1.0" height="1.0" fill="#333"/>
<rect x="183.5" y="126.0" width="1.0" height="1.0" fill="#333"/>
<rect x="176.4" y="124.1" width="1.0" height="1.0" fill="#333"/>
<rect x="182.4" y="125.8" width="1.0" height="1.0" fill="#333"/>
<rect x="158.8" y="126.5" width="1.0" height="1.0" fill="#333"/>
<rect x="177.8" y="126.4" width="1.0" height="1.0" fill="#333"/>
<rect x="165.5" y="128.0" width="1.0" height="1.0" fill="#333"/>
<rect x="176.0" y="109.4" width="1.0" height="1.0" fill="#333"/>
<rect x="183.4" y="109.1" width="1.0" height="1.0" fill="#333"/>
<rect x="185.9" y="117.3" width="1.0" height="1.0" fill="#333"/>
<rect x="183.5" y="127.1" width="1.0" height="1.0" fill="#333"/>
<rect x="169.2" y="105.7" width="1.0" height="1.0" fill="#333"/>
<rect x="195.2" y="120.9" width="1.0" height="1.0" fill="#333"/>
<rect x="187.4" y="118.8" width="1.0" height="1.0" fill="#333"/>
<rect x="183.6" y="131.3" width="1.0" height="1.0" fill="#333"/>
<rect x="181.3" y="118.2" width="0.9" height="0.9" fill="#555"/>
<rect x="172.7" y="111.6" width="1.0" height="1.0" fill="#333"/>
<rect x="172.5" y="115.6" width="1.0" height="1.0" fill="#333"/>
<rect x="189.6" y="113.7" width="1.0" height="1.0" fill="#333"/>
<rect x="195.5" y="108.3" width="1.0" height="1.0" fill="#333"/>
<rect x="177.2" y="119.4" width="0.9" height="0.9" fill="#555"/>
<rect x="169.9" y="111.7" width="1.0" height="1.0" fill="#333"/>
<rect x="176.3" y="119.8" width="0.9" height="0.9" fill="#555"/>
<rect x="194.8" y="124.3" width="1.0" height="1.0" fill="#333"/>
<rect x="183.3" y="112.7" width="0.9" height="0.9" fill="#555"/>
<rect x="187.2" y="130.8" width="1.0" height="1.0" fill="#333"/>
<rect x="170.8" y="122.0" width="1.0" height="1.0" fill="#333"/>
<rect x="172.0" y="102.8" width="1.0" height="1.0" fill="#333"/>
<rect x="177.9" y="133.4" width="1.0" height="1.0" fill="#333"/>
<rect x="204.7" y="112.0" width="1.0" height="1.0" fill="#333"/>
<rect x="169.5" y="111.7" width="1.0" height="1.0" fill="#333"/>
<rect x="182.9" y="132.9" width="1.0" height="1.0" fill="#333"/>
<rect x="162.4" y="116.9" width="1.0" height="1.0" fill="#333"/>
<rect x="187.8" y="118.8" width="1.0" height="1.0" fill="#333"/>
<rect x="193.1" y="112.0" width="1.0" height="1.0" fill="#333"/>
<rect x="183.0" y="107.0" width="1.0" height="1.0" fill="#333"/>
<rect x="172.6" y="130.5" width="1.0" height="1.0" fill="#333"/>
<rect x="177.6" y="126.9" width="1.0" height="1.0" fill="#333"/>
<rect x="177.4" y="134.2" width="1.0" height="1.0" fill="#333"/>
<rect x="187.1" y="109.9" width="1.0" height="1.0" fill="#333"/>
<rect x="193.9" y="119.9" width="1.0" height="1.0" fill="#333"/>
<rect x="183.1" y="111.3" width="1.0" height="1.0" fill="#333"/>
<rect x="172.4" y="122.2" width="1.0" height="1.0" fill="#333"/>
<rect x="171.6" y="125.0" width="1.0" height="1.0" fill="#333"/>
<rect x="166.5" y="107.0" width="1.0" height="1.0" fill="#333"/>
<rect x="181.8" y="128.5" width="1.0" height="1.0" fill="#333"/>
<rect x="179.5" y="109.5" width="1.0" height="1.0" fill="#333"/>
<rect x="183.9" y="117.4" width="0.9" height="0.9" fill="#555"/>
<rect x="163.4" y="117.8" width="1.0" height="1.0" fill="#333"/>
<rect x="167.5" y="133.1" width="1.0" height="1.0" fill="#333"/>
<rect x="182.3" y="121.9" width="1.0" height="1.0" fill="#333"/>
<rect x="185.6" y="119.3" width="1.0" height="1.0" fill="#333"/>
<rect x="183.6" y="124.8" width="1.0" height="1.0" fill="#333"/>
<rect x="187.6" y="130.7" width="1.0" height="1.0" fill="#333"/>
<rect x="182.1" y="110.5" width="1.0" height="1.0" fill="#333"/>
<rect x="184.7" y="121.2" width="1.0" height="1.0" fill="#333"/>
<rect x="172.4" y="110.6" width="1.0" height="1.0" fill="#333"/>
<rect x="164.1" y="117.5" width="1.0" height="1.0" fill="#333"/>
<rect x="180.8" y="125.1" width="1.0" height="1.0" fill="#333"/>
<rect x="176.4" y="126.4" width="1.0" height="1.0" fill="#333"/>
<rect x="170.5" y="125.2" width="1.0" height="1.0" fill="#333"/>
<rect x="191.9" y="111.7" width="1.0" height="1.0" fill="#333"/>
<rect x="191.6" y="123.2" width="1.0" height="1.0" fill="#333"/>
<rect x="187.4" y="105.6" width="1.0" height="1.0" fill="#333"/>
<rect x="170.5" y="112.2" width="1.0" height="1.0" fill="#333"/>
<rect x="186.3" y="125.3" width="1.0" height="1.0" fill="#333"/>
<rect x="176.6" y="131.0" width="1.0" height="1.0" fill="#333"/>
<rect x="181.5" y="125.0" width="1.0" height="1.0" fill="#333"/>
<rect x="189.6" y="107.4" width="1.0" height="1.0" fill="#333"/>
<rect x="195.8" y="124.6" width="1.0" height="1.0" fill="#333"/>
<rect x="185.1" y="112.4" width="1.0" height="1.0" fill="#333"/>
<rect x="187.5" y="114.4" width="1.0" height="1.0" fill="#333"/>
<rect x="170.0" y="110.4" width="1.0" height="1.0" fill="#333"/>
<rect x="184.2" y="112.5" width="1.0" height="1.0" fill="#333"/>
<rect x="185.2" y="115.6" width="1.0" height="1.0" fill="#333"/>
<rect x="191.5" y="123.5" width="1.0" height="1.0" fill="#333"/>
<rect x="170.4" y="119.5" width="1.0" height="1.0" fill="#333"/>
<rect x="176.7" y="118.0" width="0.9" height="0.9" fill="#555"/>
<rect x="176.9" y="126.1" width="1.0" height="1.0" fill="#333"/>
<rect x="179.0" y="105.0" width="1.0" height="1.0" fill="#333"/>
<rect x="183.1" y="122.0" width="1.0" height="1.0" fill="#333"/>
<rect x="192.0" y="98.0" width="1.0" height="1.0" fill="#333"/>
<rect x="189.8" y="128.1" width="1.0" height="1.0" fill="#333"/>
<rect x="175.0" y="127.0" width="1.0" height="1.0" fill="#333"/>
<rect x="182.2" y="103.9" width="1.0" height="1.0" fill="#333"/>
<rect x="170.2" y="112.3" width="1.0" height="1.0" fill="#333"/>
<rect x="180.4" y="110.5" width="1.0" height="1.0" fill="#333"/>
<rect x="202.3" y="96.4" width="1.0" height="1.0" fill="#333"/>
<rect x="167.4" y="107.7" width="1.0" height="1.0" fill="#333"/>
<rect x="171.3" y="117.4" width="1.0" height="1.0" fill="#333"/>
<rect x="167.6" y="114.3" width="1.0" height="1.0" fill="#333"/>
<rect x="190.5" y="120.2" width="1.0" height="1.0" fill="#333"/>
<rect x="182.0" y="109.7" width="1.0" height="1.0" fill="#333"/>
<rect x="175.2" y="112.3" width="1.0" height="1.0" fill="#333"/>
<rect x="178.1" y="132.5" width="1.0" height="1.0" fill="#333"/>
<rect x="167.5" y="111.8" width="1.0" height="1.0" fill="#333"/>
<rect x="179.3" y="134.0" width="1.0" height="1.0" fill="#333"/>
<rect x="179.9" y="123.8" width="1.0" height="1.0" fill="#333"/>
<rect x="179.9" y="125.7" width="1.0" height="1.0" fill="#333"/>
<rect x="187.6" y="123.0" width="1.0" height="1.0" fill="#333"/>
<rect x="171.7" y="128.3" width="1.0" height="1.0" fill="#333"/>
<rect x="185.5" y="119.7" width="1.0" height="1.0" fill="#333"/>
<rect x="177.1" y="128.2" width="1.0" height="1.0" fill="#333"/>
<rect x="175.9" y="121.7" width="0.9" height="0.9" fill="#555"/>
<rect x="176.3" y="124.7" width="1.0" height="1.0" fill="#333"/>
<rect x="182.8" y="108.7" width="1.0" height="1.0" fill="#333"/>
<rect x="184.2" y="124.2" width="1.0" height="1.0" fill="#333"/>
<rect x="171.7" y="130.7" width="1.0" height="1.0" fill="#333"/>
<rect x="189.2" y="128.7" width="1.0" height="1.0" fill="#333"/>
<rect x="176.5" y="105.0" width="1.0" height="1.0" fill="#333"/>
<rect x="191.3" y="123.6" width="1.0" height="1.0" fill="#333"/>
<rect x="173.7" y="122.7" width="1.0" height="1.0" fill="#333"/>
<rect x="182.1" y="96.3" width="1.0" height="1.0" fill="#333"/>
<rect x="193.7" y="116.3" width="1.0" height="1.0" fill="#333"/>
<rect x="190.0" y="111.2" width="1.0" height="1.0" fill="#333"/>
<rect x="166.6" y="123.3" width="1.0" height="1.0" fill="#333"/>
<rect x="179.2" y="129.5" width="1.0" height="1.0" fill="#333"/>
<rect x="180.7" y="105.3" width="1.0" height="1.0" fill="#333"/>
<rect x="172.0" y="113.9" width="1.0" height="1.0" fill="#333"/>
<rect x="167.6" y="123.2" width="1.0" height="1.0" fill="#333"/>
<rect x="182.8" y="110.3" width="1.0" height="1.0" fill="#333"/>
<rect x="176.9" y="122.9" width="0.9" height="0.9" fill="#555"/>
<rect x="187.8" y="116.8" width="1.0" height="1.0" fill="#333"/>
<rect x="178.3" y="105.0" width="1.0" height="1.0" fill="#333"/>
<rect x="179.3" y="103.7" width="1.0" height="1.0" fill="#333"/>
<rect x="184.3" y="109.7" width="1.0" height="1.0" fill="#333"/>
<rect x="192.4" y="120.0" width="1.0" height="1.0" fill="#333"/>
<rect x="203.7" y="98.5" width="1.0" height="1.0" fill="#333"/>
<rect x="189.7" y="100.5" width="1.0" height="1.0" fill="#333"/>
<rect x="195.9" y="92.2" width="1.0" height="1.0" fill="#333"/>
<rect x="189.9" y="104.7" width="1.0" height="1.0" fill="#333"/>
<rect x="196.9" y="92.3" width="1.0" height="1.0" fill="#333"/>
<rect x="192.2" y="100.2" width="1.0" height="1.0" fill="#333"/>
<rect x="202.8" y="98.5" width="1.0" height="1.0" fill="#333"/>
<rect x="197.1" y="95.6" width="1.0" height="1.0" fill="#333"/>
<rect x="196.1" y="102.1" width="1.0" height="1.0" fill="#333"/>
<rect x="199.5" y="99.7" width="1.0" height="1.0" fill="#333"/>
<rect x="186.1" y="101.3" width="1.0" height="1.0" fill="#333"/>
<rect x="200.3" y="103.3" width="1.0" height="1.0" fill="#333"/>
<rect x="200.6" y="94.4" width="1.0" height="1.0" fill="#333"/>
<rect x="213.0" y="79.1" width="1.0" height="1.0" fill="#333"/>
<rect x="193.1" y="92.2" width="1.0" height="1.0" fill="#333"/>
<rect x="197.4" y="100.1" width="1.0" height="1.0" fill="#333"/>
<rect x="191.7" y="104.8" width="1.0" height="1.0" fill="#333"/>
<rect x="195.7" y="91.2" width="1.0" height="1.0" fill="#333"/>
<rect x="196.7" y="113.4" width="1.0" height="1.0" fill="#333"/>
<rect x="193.1" y="104.1" width="1.0" height="1.0" fill="#333"/>
<rect x="194.3" y="95.7" width="1.0" height="1.0" fill="#333"/>
<rect x="190.2" y="105.3" width="1.0" height="1.0" fill="#333"/>
<rect x="203.2" y="92.6" width="1.0" height="1.0" fill="#333"/>
<rect x="202.4" y="95.6" width="1.0" height="1.0" fill="#333"/>
<rect x="194.1" y="102.9" width="1.0" height="1.0" fill="#333"/>
<rect x="196.6" y="104.6" width="1.0" height="1.0" fill="#333"/>
<rect x="194.8" y="109.4" width="1.0" height="1.0" fill="#333"/>
<rect x="183.8" y="102.4" width="1.0" height="1.0" fill="#333"/>
<rect x="193.6" y="94.6" width="1.0" height="1.0" fill="#333"/>
<rect x="192.5" y="92.4" width="1.0" height="1.0" fill="#333"/>
<rect x="195.6" y="96.7" width="1.0" height="1.0" fill="#333"/>
<rect x="200.6" y="100.9" width="1.0" height="1.0" fill="#333"/>
<rect x="194.4" y="103.1" width="1.0" height="1.0" fill="#333"/>
<rect x="191.1" y="93.5" width="1.0" height="1.0" fill="#333"/>
<rect x="187.2" y="105.4" width="1.0" height="1.0" fill="#333"/>
<rect x="198.0" y="101.1" width="1.0" height="1.0" fill="#333"/>
<rect x="197.3" y="89.0" width="1.0" height="1.0" fill="#333"/>
<rect x="198.5" y="91.0" width="1.0" height="1.0" fill="#333"/>
<rect x="193.4" y="101.6" width="1.0" height="1.0" fill="#333"/>
<rect x="185.5" y="95.1" width="1.0" height="1.0" fill="#333"/>
<rect x="202.1" y="93.1" width="1.0" height="1.0" fill="#333"/>
<rect x="201.9" y="89.7" width="1.0" height="1.0" fill="#333"/>
<rect x="190.5" y="107.9" width="1.0" height="1.0" fill="#333"/>
<rect x="188.5" y="97.9" width="1.0" height="1.0" fill="#333"/>
<rect x="191.8" y="94.9" width="1.0" height="1.0" fill="#333"/>
<rect x="196.1" y="90.1" width="1.0" height="1.0" fill="#333"/>
<rect x="191.8" y="103.5" width="1.0" height="1.0" fill="#333"/>
<rect x="196.6" y="95.1" width="1.0" height="1.0" fill="#333"/>
<rect x="193.3" y="100.3" width="1.0" height="1.0" fill="#333"/>
<rect x="209.8" y="90.5" width="1.0" height="1.0" fill="#333"/>
<rect x="200.7" y="99.6" width="1.0" height="1.0" fill="#333"/>
<rect x="190.6" y="97.0" width="1.0" height="1.0" fill="#333"/>
<rect x="190.1" y="98.3" width="1.0" height="1.0" fill="#333"/>
<rect x="204.6" y="97.4" width="1.0" height="1.0" fill="#333"/>
<rect x="195.2" y="93.8" width="1.0" height="1.0" fill="#333"/>
<rect x="195.3" y="107.9" width="1.0" height="1.0" fill="#333"/>
<rect x="201.0" y="101.5" width="1.0" height="1.0" fill="#333"/>
<rect x="186.8" y="104.0" width="1.0" height="1.0" fill="#333"/>
<rect x="190.0" y="101.6" width="1.0" height="1.0" fill="#333"/>
<rect x="189.4" y="105.4" width="1.0" height="1.0" fill="#333"/>
<rect x="185.6" y="103.0" width="1.0" height="1.0" fill="#333"/>
<rect x="187.5" y="99.3" width="1.0" height="1.0" fill="#333"/>
<rect x="188.7" y="102.4" width="1.0" height="1.0" fill="#333"/>
<rect x="199.2" y="97.8" width="1.0" height="1.0" fill="#333"/>
<rect x="195.1" y="92.8" width="1.0" height="1.0" fill="#333"/>
<rect x="192.2" y="99.0" width="1.0" height="1.0" fill="#333"/>
<rect x="187.9" y="103.0" width="1.0" height="1.0" fill="#333"/>
<rect x="191.6" y="90.2" width="1.0" height="1.0" fill="#333"/>
<rect x="192.2" y="113.2" width="1.0" height="1.0" fill="#333"/>
<rect x="177.5" y="102.2" width="1.0" height="1.0" fill="#333"/>
<rect x="194.1" y="92.6" width="1.0" height="1.0" fill="#333"/>
<rect x="198.6" y="96.3" width="1.0" height="1.0" fill="#333"/>
<rect x="192.1" y="89.2" width="1.0" height="1.0" fill="#333"/>
<rect x="195.5" y="101.1" width="1.0" height="1.0" fill="#333"/>
<rect x="194.1" y="108.5" width="1.0" height="1.0" fill="#333"/>
<rect x="188.6" y="98.6" width="1.0" height="1.0" fill="#333"/>
<rect x="196.9" y="95.8" width="1.0" height="1.0" fill="#333"/>
<rect x="186.7" y="99.3" width="1.0" height="1.0" fill="#333"/>
<rect x="193.3" y="103.4" width="1.0" height="1.0" fill="#333"/>
<rect x="189.0" y="106.0" width="1.0" height="1.0" fill="#333"/>
<rect x="190.4" y="105.1" width="1.0" height="1.0" fill="#333"/>
<rect x="202.4" y="97.5" width="1.0" height="1.0" fill="#333"/>
<rect x="197.5" y="97.2" width="1.0" height="1.0" fill="#333"/>
<rect x="194.9" y="108.2" width="1.0" height="1.0" fill="#333"/>
<rect x="192.4" y="105.8" width="1.0" height="1.0" fill="#333"/>
<rect x="187.1" y="98.0" width="1.0" height="1.0" fill="#333"/>
<rect x="197.0" y="96.1" width="1.0" height="1.0" fill="#333"/>
<rect x="191.5" y="105.9" width="1.0" height="1.0" fill="#333"/>
<rect x="187.6" y="95.2" width="1.0" height="1.0" fill="#333"/>
<rect x="191.1" y="113.4" width="1.0" height="1.0" fill="#333"/>
<rect x="189.5" y="105.2" width="1.0" height="1.0" fill="#333"/>
<rect x="196.9" y="97.1" width="1.0" height="1.0" fill="#333"/>
<rect x="193.7" y="91.0" width="1.0" height="1.0" fill="#333"/>
<rect x="189.9" y="104.7" width="1.0" height="1.0" fill="#333"/>
<rect x="192.2" y="103.3" width="1.0" height="1.0" fill="#333"/>
<rect x="195.6" y="93.1" width="1.0" height="1.0" fill="#333"/>
<rect x="192.8" y="100.6" width="1.0" height="1.0" fill="#333"/>
<rect x="183.5" y="95.3" width="1.0" height="1.0" fill="#333"/>
<rect x="201.2" y="99.3" width="1.0" height="1.0" fill="#333"/>
<rect x="190.3" y="94.2" width="1.0" height="1.0" fill="#333"/>
<rect x="189.5" y="86.3" width="1.0" height="1.0" fill="#333"/>
<rect x="193.1" y="91.4" width="1.0" height="1.0" fill="#333"/>
<rect x="188.5" y="99.1" width="1.0" height="1.0" fill="#333"/>
<rect x="195.6" y="100.4" width="1.0" height="1.0" fill="#333"/>
<rect x="190.1" y="96.1" width="1.0" height="1.0" fill="#333"/>
<rect x="190.0" y="106.3" width="1.0" height="1.0" fill="#333"/>
<rect x="186.5" y="100.8" width="1.0" height="1.0" fill="#333"/>
<rect x="206.2" y="99.2" width="1.0" height="1.0" fill="#333"/>
<rect x="190.1" y="108.3" width="1.0" height="1.0" fill="#333"/>
<rect x="205.3" y="98.3" width="1.0" height="1.0" fill="#333"/>
<rect x="191.0" y="94.0" width="1.0" height="1.0" fill="#333"/>
<rect x="196.0" y="100.8" width="1.0" height="1.0" fill="#333"/>
<rect x="192.2" y="92.8" width="1.0" height="1.0" fill="#333"/>
<rect x="198.0" y="97.3" width="1.0" height="1.0" fill="#333"/>
<rect x="201.1" y="93.7" width="1.0" height="1.0" fill="#333"/>
<rect x="186.1" y="96.0" width="1.0" height="1.0" fill="#333"/>
<rect x="188.6" y="96.4" width="1.0" height="1.0" fill="#333"/>
<rect x="188.4" y="96.4" width="1.0" height="1.0" fill="#333"/>
<rect x="195.0" y="84.1" width="1.0" height="1.0" fill="#333"/>
<rect x="194.6" y="91.2" width="1.0" height="1.0" fill="#333"/>
<rect x="186.7" y="100.6" width="1.0" height="1.0" fill="#333"/>
<rect x="187.0" y="96.1" width="1.0" height="1.0" fill="#333"/>
<rect x="191.6" y="102.3" width="1.0" height="1.0" fill="#333"/>
<rect x="196.1" y="99.7" width="1.0" height="1.0" fill="#333"/>
<rect x="189.5" y="93.5" width="1.0" height="1.0" fill="#333"/>
<rect x="200.3" y="84.5" width="1.0" height="1.0" fill="#333"/>
<rect x="187.1" y="108.0" width="1.0" height="1.0" fill="#333"/>
<rect x="196.8" y="92.1" width="1.0" height="1.0" fill="#333"/>
<rect x="192.8" y="94.0" width="1.0" height="1.0" fill="#333"/>
<rect x="194.5" y="104.2" width="1.0" height="1.0" fill="#333"/>
<rect x="196.7" y="101.4" width="1.0" height="1.0" fill="#333"/>
<rect x="194.7" y="102.8" width="1.0" height="1.0" fill="#333"/>
<rect x="193.3" y="97.4" width="1.0" height="1.0" fill="#333"/>
<rect x="205.5" y="98.3" width="1.0" height="1.0" fill="#333"/>
<rect x="195.1" y="111.1" width="1.0" height="1.0" fill="#333"/>
<rect x="197.2" y="90.1" width="1.0" height="1.0" fill="#333"/>
<rect x="192.0" y="99.9" width="1.0" height="1.0" fill="#333"/>
<rect x="204.2" y="93.5" width="1.0" height="1.0" fill="#333"/>
<rect x="192.3" y="93.8" width="1.0" height="1.0" fill="#333"/>
<rect x="200.1" y="92.7" width="1.0" height="1.0" fill="#333"/>
<rect x="196.2" y="95.3" width="1.0" height="1.0" fill="#333"/>
<rect x="195.2" y="90.5" width="1.0" height="1.0" fill="#333"/>
<rect x="193.2" y="97.3" width="1.0" height="1.0" fill="#333"/>
<rect x="184.6" y="98.3" width="1.0" height="1.0" fill="#333"/>
<rect x="194.3" y="93.1" width="1.0" height="1.0" fill="#333"/>
<rect x="188.7" y="88.9" width="1.0" height="1.0" fill="#333"/>
<rect x="210.7" y="93.3" width="1.0" height="1.0" fill="#333"/>
<rect x="192.3" y="113.1" width="1.0" height="1.0" fill="#333"/>
<rect x="198.0" y="102.7" width="1.0" height="1.0" fill="#333"/>
<rect x="199.1" y="93.4" width="1.0" height="1.0" fill="#333"/>
<rect x="193.1" y="107.7" width="1.0" height="1.0" fill="#333"/>
<rect x="198.1" y="102.9" width="1.0" height="1.0" fill="#333"/>
<rect x="205.8" y="89.7" width="1.0" height="1.0" fill="#333"/>
<rect x="202.8" y="93.2" width="1.0" height="1.0" fill="#333"/>
<rect x="187.0" y="100.4" width="1.0" height="1.0" fill="#333"/>
<rect x="200.9" y="91.8" width="1.0" height="1.0" fill="#333"/>
<rect x="196.2" y="90.4" width="1.0" height="1.0" fill="#333"/>
<rect x="192.2" y="90.8" width="1.0" height="1.0" fill="#333"/>
<rect x="190.8" y="93.0" width="1.0" height="1.0" fill="#333"/>
<rect x="196.5" y="98.1" width="1.0" height="1.0" fill="#333"/>
<rect x="194.8" y="105.7" width="1.0" height="1.0" fill="#333"/>
<rect x="186.6" y="97.2" width="1.0" height="1.0" fill="#333"/>
<rect x="203.5" y="99.1" width="1.0" height="1.0" fill="#333"/>
<rect x="200.2" y="101.5" width="1.0" height="1.0" fill="#333"/>
<rect x="199.3" y="87.3" width="1.0" height="1.0" fill="#333"/>
<rect x="190.8" y="98.7" width="1.0" height="1.0" fill="#333"/>
<rect x="184.6" y="110.8" width="1.0" height="1.0" fill="#333"/>
<rect x="196.5" y="102.7" width="1.0" height="1.0" fill="#333"/>
<rect x="193.4" y="95.6" width="1.0" height="1.0" fill="#333"/>
<rect x="191.0" y="93.1" width="1.0" height="1.0" fill="#333"/>
<rect x="195.5" y="98.7" width="1.0" height="1.0" fill="#333"/>
<rect x="182.7" y="96.9" width="1.0" height="1.0" fill="#333"/>
<rect x="200.0" y="90.6" width="1.0" height="1.0" fill="#333"/>
<rect x="196.0" y="104.9" width="1.0" height="1.0" fill="#333"/>
<rect x="197.8" y="95.2" width="1.0" height="1.0" fill="#333"/>
<rect x="195.9" y="101.8" width="1.0" height="1.0" fill="#333"/>
<rect x="191.4" y="105.9" width="1.0" height="1.0" fill="#333"/>
<rect x="202.0" y="92.6" width="1.0" height="1.0" fill="#333"/>
<rect x="185.1" y="111.9" width="1.0" height="1.0" fill="#333"/>
<rect x="187.5" y="100.4" width="1.0" height="1.0" fill="#333"/>
<rect x="194.6" y="95.2" width="1.0" height="1.0" fill="#333"/>
<rect x="192.3" y="99.8" width="1.0" height="1.0" fill="#333"/>
<rect x="201.7" y="97.6" width="1.0" height="1.0" fill="#333"/>
<rect x="199.9" y="103.1" width="1.0" height="1.0" fill="#333"/>
<rect x="193.9" y="101.7" width="1.0" height="1.0" fill="#333"/>
<rect x="199.0" y="84.5" width="1.0" height="1.0" fill="#333"/>
<rect x="190.2" y="97.3" width="1.0" height="1.0" fill="#333"/>
<rect x="192.6" y="98.5" width="1.0" height="1.0" fill="#333"/>
<rect x="195.3" y="107.7" width="1.0" height="1.0" fill="#333"/>
<rect x="192.4" y="103.0" width="1.0" height="1.0" fill="#333"/>
<rect x="196.1" y="94.5" width="1.0" height="1.0" fill="#333"/>
<rect x="193.0" y="93.0" width="1.0" height="1.0" fill="#333"/>
<rect x="197.4" y="100.5" width="1.0" height="1.0" fill="#333"/>
<rect x="192.4" y="102.6" width="1.0" height="1.0" fill="#333"/>
<rect x="196.3" y="94.3" width="1.0" height="1.0" fill="#333"/>
<rect x="188.0" y="107.5" width="1.0" height="1.0" fill="#333"/>
<rect x="199.3" y="104.6" width="1.0" height="1.0" fill="#333"/>
<rect x="192.4" y="99.0" width="1.0" height="1.0" fill="#333"/>
<rect x="197.4" y="107.3" width="1.0" height="1.0" fill="#333"/>
<rect x="199.4" y="100.7" width="1.0" height="1.0" fill="#333"/>
<rect x="191.6" y="101.8" width="1.0" height="1.0" fill="#333"/>
<rect x="194.4" y="104.8" width="1.0" height="1.0" fill="#333"/>
<rect x="200.2" y="88.2" width="1.0" height="1.0" fill="#333"/>
<rect x="193.4" y="91.9" width="1.0" height="1.0" fill="#333"/>
<rect x="197.4" y="91.0" width="1.0" height="1.0" fill="#333"/>
<rect x="190.6" y="95.3" width="1.0" height="1.0" fill="#333"/>
<rect x="199.6" y="94.3" width="1.0" height="1.0" fill="#333"/>
<rect x="196.9" y="94.0" width="1.0" height="1.0" fill="#333"/>
<rect x="200.7" y="93.2" width="1.0" height="1.0" fill="#333"/>
<rect x="206.0" y="87.7" width="1.0" height="1.0" fill="#333"/>
<rect x="180.8" y="90.7" width="1.0" height="1.0" fill="#333"/>
<rect x="196.1" y="97.5" width="1.0" height="1.0" fill="#333"/>
<rect x="186.7" y="93.4" width="1.0" height="1.0" fill="#333"/>
<rect x="185.3" y="103.1" width="1.0" height="1.0" fill="#333"/>
<rect x="194.4" y="98.2" width="1.0" height="1.0" fill="#333"/>
<rect x="201.7" y="98.4" width="1.0" height="1.0" fill="#333"/>
<rect x="185.1" y="96.4" width="1.0" height="1.0" fill="#333"/>
<rect x="199.0" y="92.5" width="1.0" height="1.0" fill="#333"/>
<rect x="198.5" y="91.0" width="1.0" height="1.0" fill="#333"/>
<rect x="185.0" y="95.0" width="1.0" height="1.0" fill="#333"/>
<rect x="201.8" y="92.2" width="1.0" height="1.0" fill="#333"/>
<rect x="200.6" y="88.8" width="1.0" height="1.0" fill="#333"/>
<rect x="193.7" y="94.2" width="1.0" height="1.0" fill="#333"/>
<rect x="187.5" y="101.3" width="1.0" height="1.0" fill="#333"/>
<rect x="212.1" y="99.0" width="1.0" height="1.0" fill="#333"/>
<rect x="191.8" y="97.8" width="1.0" height="1.0" fill="#333"/>
<rect x="185.5" y="95.1" width="1.0" height="1.0" fill="#333"/>
<rect x="190.8" y="94.8" width="1.0" height="1.0" fill="#333"/>
<rect x="190.5" y="99.9" width="1.0" height="1.0" fill="#333"/>
<rect x="196.5" y="91.2" width="1.0" height="1.0" fill="#333"/>
<rect x="196.6" y="93.7" width="1.0" height="1.0" fill="#333"/>
<rect x="194.4" y="88.6" width="1.0" height="1.0" fill="#333"/>
<rect x="198.3" y="96.4" width="1.0" height="1.0" fill="#333"/>
<rect x="189.1" y="100.9" width="1.0" height="1.0" fill="#333"/>
<rect x="188.1" y="95.1" width="1.0" height="1.0" fill="#333"/>
<rect x="194.1" y="91.1" width="1.0" height="1.0" fill="#333"/>
<rect x="191.0" y="99.1" width="1.0" height="1.0" fill="#333"/>
<rect x="208.2" y="84.8" width="1.0" height="1.0" fill="#333"/>
<rect x="195.0" y="100.6" width="1.0" height="1.0" fill="#333"/>
<rect x="190.5" y="100.2" width="1.0" height="1.0" fill="#333"/>
<rect x="198.4" y="91.9" width="1.0" height="1.0" fill="#333"/>
<rect x="197.6" y="94.6" width="1.0" height="1.0" fill="#333"/>
<rect x="201.9" y="103.8" width="1.0" height="1.0" fill="#333"/>
<rect x="190.7" y="97.5" width="1.0" height="1.0" fill="#333"/>
<rect x="197.4" y="97.0" width="1.0" height="1.0" fill="#333"/>
<rect x="200.0" y="95.6" width="1.0" height="1.0" fill="#333"/>
<rect x="193.1" y="91.3" width="1.0" height="1.0" fill="#333"/>
<rect x="193.6" y="100.1" width="1.0" height="1.0" fill="#333"/>
<rect x="196.3" y="96.2" width="1.0" height="1.0" fill="#333"/>
<rect x="195.3" y="92.2" width="1.0" height="1.0" fill="#333"/>
<rect x="199.1" y="95.5" width="1.0" height="1.0" fill="#333"/>
<rect x="186.5" y="117.3" width="1.0" height="1.0" fill="#333"/>
<rect x="195.1" y="105.9" width="1.0" height="1.0" fill="#333"/>
<rect x="190.4" y="101.6" width="1.0" height="1.0" fill="#333"/>
<rect x="193.9" y="99.7" width="1.0" height="1.0" fill="#333"/>
<rect x="203.9" y="103.5" width="1.0" height="1.0" fill="#333"/>
<rect x="193.1" y="90.1" width="1.0" height="1.0" fill="#333"/>
<rect x="197.2" y="95.3" width="1.0" height="1.0" fill="#333"/>
<rect x="197.0" y="101.1" width="1.0" height="1.0" fill="#333"/>
<rect x="194.7" y="98.3" width="1.0" height="1.0" fill="#333"/>
<rect x="203.1" y="90.4" width="1.0" height="1.0" fill="#333"/>
<rect x="192.4" y="101.7" width="1.0" height="1.0" fill="#333"/>
<rect x="198.1" y="98.5" width="1.0" height="1.0" fill="#333"/>
<rect x="204.9" y="93.2" width="1.0" height="1.0" fill="#333"/>
<rect x="194.4" y="95.5" width="1.0" height="1.0" fill="#333"/>
<rect x="187.2" y="109.4" width="1.0" height="1.0" fill="#333"/>
<rect x="195.2" y="95.9" width="1.0" height="1.0" fill="#333"/>
<rect x="191.0" y="99.0" width="1.0" height="1.0" fill="#333"/>
<rect x="193.5" y="98.5" width="1.0" height="1.0" fill="#333"/>
<rect x="193.5" y="89.3" width="1.0" height="1.0" fill="#333"/>
<rect x="198.7" y="97.5" width="1.0" height="1.0" fill="#333"/>
<rect x="199.7" y="104.1" width="1.0" height="1.0" fill="#333"/>
<rect x="204.0" y="97.9" width="1.0" height="1.0" fill="#333"/>
<rect x="200.6" y="99.2" width="1.0" height="1.0" fill="#333"/>
<rect x="190.6" y="94.8" width="1.0" height="1.0" fill="#333"/>
<rect x="201.1" y="100.6" width="1.0" height="1.0" fill="#333"/>
<rect x="192.1" y="94.7" width="1.0" height="1.0" fill="#333"/>
<rect x="192.5" y="99.7" width="1.0" height="1.0" fill="#333"/>
<rect x="199.5" y="105.5" width="1.0" height="1.0" fill="#333"/>
<rect x="189.9" y="94.9" width="1.0" height="1.0" fill="#333"/>
<rect x="193.8" y="105.4" width="1.0" height="1.0" fill="#333"/>
<rect x="190.4" y="105.5" width="1.0" height="1.0" fill="#333"/>
<rect x="198.3" y="90.7" width="1.0" height="1.0" fill="#333"/>
<rect x="189.7" y="96.9" width="1.0" height="1.0" fill="#333"/>
<rect x="195.6" y="99.3" width="1.0" height="1.0" fill="#333"/>
<rect x="191.7" y="97.4" width="1.0" height="1.0" fill="#333"/>
<rect x="198.2" y="100.8" width="1.0" height="1.0" fill="#333"/>
<rect x="198.9" y="101.2" width="1.0" height="1.0" fill="#333"/>
<rect x="188.8" y="93.9" width="1.0" height="1.0" fill="#333"/>
<rect x="189.0" y="100.9" width="1.0" height="1.0" fill="#333"/>
<rect x="196.2" y="92.2" width="1.0" height="1.0" fill="#333"/>
<rect x="186.8" y="98.4" width="1.0" height="1.0" fill="#333"/>
<rect x="193.5" y="89.4" width="1.0" height="1.0" fill="#333"/>
<rect x="187.2" y="108.5" width="1.0" height="1.0" fill="#333"/>
<rect x="189.2" y="103.1" width="1.0" height="1.0" fill="#333"/>
<rect x="191.2" y="88.2" width="1.0" height="1.0" fill="#333"/>
<rect x="191.3" y="97.3" width="1.0" height="1.0" fill="#333"/>
<rect x="193.5" y="103.0" width="1.0" height="1.0" fill="#333"/>
<rect x="190.7" y="92.7" width="1.0" height="1.0" fill="#333"/>
<rect x="186.5" y="101.0" width="1.0" height="1.0" fill="#333"/>
<rect x="200.5" y="102.0" width="1.0" height="1.0" fill="#333"/>
<rect x="190.9" y="113.4" width="1.0" height="1.0" fill="#333"/>
<rect x="185.9" y="95.9" width="1.0" height="1.0" fill="#333"/>
<rect x="186.3" y="97.7" width="1.0" height="1.0" fill="#333"/>
<rect x="197.5" y="96.2" width="1.0" height="1.0" fill="#333"/>
<rect x="192.6" y="90.1" width="1.0" height="1.0" fill="#333"/>
<rect x="189.8" y="101.9" width="1.0" height="1.0" fill="#333"/>
<rect x="198.2" y="88.2" width="1.0" height="1.0" fill="#333"/>
<rect x="194.0" y="102.7" width="1.0" height="1.0" fill="#333"/>
<rect x="176.4" y="102.0" width="1.0" height="1.0" fill="#333"/>
<rect x="176.5" y="104.6" width="1.0" height="1.0" fill="#333"/>
<rect x="194.9" y="86.4" width="1.0" height="1.0" fill="#333"/>
<rect x="197.7" y="101.3" width="1.0" height="1.0" fill="#333"/>
<rect x="191.0" y="101.0" width="1.0" height="1.0" fill="#333"/>
<rect x="184.5" y="97.3" width="1.0" height="1.0" fill="#333"/>
<rect x="191.9" y="105.2" width="1.0" height="1.0" fill="#333"/>
<rect x="201.8" y="92.7" width="1.0" height="1.0" fill="#333"/>
<rect x="192.7" y="97.8" width="1.0" height="1.0" fill="#333"/>
<rect x="199.4" y="87.6" width="1.0" height="1.0" fill="#333"/>
<rect x="195.0" y="100.3" width="1.0" height="1.0" fill="#333"/>
<rect x="190.0" y="113.8" width="1.0" height="1.0" fill="#333"/>
<rect x="197.7" y="93.9" width="1.0" height="1.0" fill="#333"/>
<rect x="194.7" y="101.4" width="1.0" height="1.0" fill="#333"/>
<rect x="192.9" y="99.1" width="1.0" height="1.0" fill="#333"/>
<rect x="198.3" y="88.6" width="1.0" height="1.0" fill="#333"/>
<rect x="189.4" y="96.9" width="1.0" height="1.0" fill="#333"/>
<rect x="199.3" y="92.5" width="1.0" height="1.0" fill="#333"/>
<rect x="192.8" y="97.2" width="1.0" height="1.0" fill="#333"/>
<rect x="190.2" y="101.3" width="1.0" height="1.0" fill="#333"/>
<rect x="199.5" y="97.9" width="1.0" height="1.0" fill="#333"/>
<rect x="193.7" y="102.5" width="1.0" height="1.0" fill="#333"/>
<rect x="202.0" y="93.9" width="1.0" height="1.0" fill="#333"/>
<rect x="191.4" y="88.6" width="1.0" height="1.0" fill="#333"/>
<rect x="196.4" y="99.2" width="1.0" height="1.0" fill="#333"/>
<rect x="194.0" y="93.1" width="1.0" height="1.0" fill="#333"/>
<rect x="192.9" y="92.8" width="1.0" height="1.0" fill="#333"/>
<rect x="189.6" y="97.1" width="1.0" height="1.0" fill="#333"/>
<rect x="202.1" y="96.6" width="1.0" height="1.0" fill="#333"/>
<rect x="196.4" y="101.5" width="1.0" height="1.0" fill="#333"/>
<rect x="193.5" y="92.7" width="1.0" height="1.0" fill="#333"/>
<rect x="186.0" y="99.9" width="1.0" height="1.0" fill="#333"/>
<rect x="194.4" y="97.5" width="1.0" height="1.0" fill="#333"/>
<rect x="193.7" y="94.5" width="1.0" height="1.0" fill="#333"/>
<rect x="197.6" y="106.8" width="1.0" height="1.0" fill="#333"/>
<rect x="186.7" y="96.2" width="1.0" height="1.0" fill="#333"/>
<rect x="184.8" y="95.8" width="1.0" height="1.0" fill="#333"/>
<rect x="195.7" y="93.4" width="1.0" height="1.0" fill="#333"/>
<rect x="191.4" y="101.8" width="1.0" height="1.0" fill="#333"/>
<rect x="196.2" y="96.0" width="1.0" height="1.0" fill="#333"/>
<rect x="202.7" y="91.9" width="1.0" height="1.0" fill="#333"/>
<rect x="203.5" y="101.8" width="1.0" height="1.0" fill="#333"/>
<rect x="186.7" y="105.6" width="1.0" height="1.0" fill="#333"/>
<rect x="192.3" y="95.8" width="1.0" height="1.0" fill="#333"/>
<rect x="191.0" y="87.6" width="1.0" height="1.0" fill="#333"/>
<rect x="193.9" y="100.2" width="1.0" height="1.0" fill="#333"/>
<rect x="201.5" y="94.4" width="1.0" height="1.0" fill="#333"/>
<rect x="195.3" y="94.0" width="1.0" height="1.0" fill="#333"/>
<rect x="200.2" y="99.0" width="1.0" height="1.0" fill="#333"/>
<rect x="193.2" y="99.4" width="1.0" height="1.0" fill="#333"/>
<rect x="198.1" y="104.9" width="1.0" height="1.0" fill="#333"/>
<rect x="194.4" y="100.2" width="1.0" height="1.0" fill="#333"/>
<rect x="190.1" y="94.7" width="1.0" height="1.0" fill="#333"/>
<rect x="193.5" y="93.4" width="1.0" height="1.0" fill="#333"/>
<rect x="189.6" y="91.5" width="1.0" height="1.0" fill="#333"/>
<rect x="186.1" y="94.8" width="1.0" height="1.0" fill="#333"/>
<rect x="195.3" y="98.3" width="1.0" height="1.0" fill="#333"/>
<rect x="198.9" y="98.3" width="1.0" height="1.0" fill="#333"/>
<rect x="195.7" y="112.0" width="1.0" height="1.0" fill="#333"/>
<rect x="191.0" y="101.9" width="1.0" height="1.0" fill="#333"/>
<rect x="190.1" y="101.5" width="1.0" height="1.0" fill="#333"/>
<rect x="188.9" y="96.0" width="1.0" height="1.0" fill="#333"/>
<rect x="196.9" y="102.1" width="1.0" height="1.0" fill="#333"/>
<rect x="194.6" y="100.4" width="1.0" height="1.0" fill="#333"/>
<rect x="188.5" y="100.9" width="1.0" height="1.0" fill="#333"/>
<rect x="199.3" y="96.2" width="1.0" height="1.0" fill="#333"/>
<rect x="197.3" y="98.0" width="1.0" height="1.0" fill="#333"/>
<rect x="180.6" y="101.5" width="1.0" height="1.0" fill="#333"/>
<rect x="197.0" y="99.9" width="1.0" height="1.0" fill="#333"/>
<rect x="190.4" y="104.3" width="1.0" height="1.0" fill="#333"/>
<rect x="177.3" y="95.5" width="1.0" height="1.0" fill="#333"/>
<rect x="177.0" y="101.4" width="1.0" height="1.0" fill="#333"/>
<rect x="203.0" y="88.3" width="1.0" height="1.0" fill="#333"/>
<rect x="200.4" y="132.2" width="1.0" height="1.0" fill="#333"/>
<rect x="203.9" y="122.8" width="1.0" height="1.0" fill="#333"/>
<rect x="168.2" y="115.5" width="1.0" height="1.0" fill="#333"/>
<rect x="174.1" y="112.6" width="1.0" height="1.0" fill="#333"/>
<rect x="192.9" y="105.0" width="1.0" height="1.0" fill="#333"/>
</g>
<text x="185.5" y="33.6" font-size="10" text-anchor="start" font-weight="bold" fill="#000" stroke="#000" stroke-width="0.28" >I</text>
<text x="188.2" y="33.6" font-size="10" text-anchor="start" font-weight="bold" fill="#000" stroke="#000" stroke-width="0.28" >L</text>
<text x="196.9" y="33.6" font-size="10" text-anchor="start" font-weight="bold" fill="#000" stroke="#000" stroke-width="0.28" >-</text>
<text x="199.9" y="33.6" font-size="10" text-anchor="start" font-weight="bold" fill="#000" stroke="#000" stroke-width="0.28" >2</text>
<text x="201.0" y="51.9" font-size="9.1" text-anchor="start" font-weight="bold" fill="#000" textLength="40.3" lengthAdjust="spacingAndGlyphs" stroke="#000" stroke-width="0.28" >0.34|7.82</text>
<line x1="200.8" y1="53.6" x2="244" y2="53.6" stroke="#111" stroke-width="1.0" />
<text x="201.0" y="64.4" font-size="9.1" text-anchor="start" font-weight="bold" fill="#000" textLength="40.3" lengthAdjust="spacingAndGlyphs" stroke="#000" stroke-width="0.28" >61.6|30.2</text>
<text transform="translate(10.9,86.2) rotate(-90)" x="0" y="0" font-size="10.5" text-anchor="middle" font-weight="bold" textLength="27.6" lengthAdjust="spacingAndGlyphs" stroke="#000" stroke-width="0.28">CD25</text>
<text x="103.1" y="161.2" font-size="10" text-anchor="start" font-weight="bold" fill="#000" textLength="74.4" lengthAdjust="spacingAndGlyphs" stroke="#000" stroke-width="0.28" >pSTAT5 (pY694)</text>
<text x="259.4" y="11.75" font-size="15.4" text-anchor="start" font-weight="bold" fill="#000" stroke="#000" stroke-width="0.28" >B</text>
<line x1="295" y1="21.1" x2="295" y2="158.6" stroke="#111" stroke-width="1.4" />
<line x1="290.6" y1="158.6" x2="520" y2="158.6" stroke="#111" stroke-width="1.4" />
<line x1="290.9" y1="158.6" x2="295" y2="158.6" stroke="#111" stroke-width="1.3" />
<text x="289.9" y="162.9" font-size="10" text-anchor="end" font-weight="bold" fill="#000" stroke="#000" stroke-width="0.28" >0</text>
<line x1="290.9" y1="135.78" x2="295" y2="135.78" stroke="#111" stroke-width="1.3" />
<text x="289.9" y="140.083" font-size="10" text-anchor="end" font-weight="bold" fill="#000" stroke="#000" stroke-width="0.28" >10</text>
<line x1="290.9" y1="112.97" x2="295" y2="112.97" stroke="#111" stroke-width="1.3" />
<text x="289.9" y="117.26599999999999" font-size="10" text-anchor="end" font-weight="bold" fill="#000" stroke="#000" stroke-width="0.28" >20</text>
<line x1="290.9" y1="90.15" x2="295" y2="90.15" stroke="#111" stroke-width="1.3" />
<text x="289.9" y="94.449" font-size="10" text-anchor="end" font-weight="bold" fill="#000" stroke="#000" stroke-width="0.28" >30</text>
<line x1="290.9" y1="67.33" x2="295" y2="67.33" stroke="#111" stroke-width="1.3" />
<text x="289.9" y="71.63199999999999" font-size="10" text-anchor="end" font-weight="bold" fill="#000" stroke="#000" stroke-width="0.28" >40</text>
<line x1="290.9" y1="44.52" x2="295" y2="44.52" stroke="#111" stroke-width="1.3" />
<text x="289.9" y="48.815" font-size="10" text-anchor="end" font-weight="bold" fill="#000" stroke="#000" stroke-width="0.28" >50</text>
<line x1="290.9" y1="21.7" x2="295" y2="21.7" stroke="#111" stroke-width="1.3" />
<text x="289.9" y="25.998000000000008" font-size="10" text-anchor="end" font-weight="bold" fill="#000" stroke="#000" stroke-width="0.28" >60</text>
<line x1="323" y1="158.6" x2="323" y2="162.6" stroke="#111" stroke-width="1.2" />
<text x="323" y="172.4" font-size="9.5" text-anchor="middle" font-weight="bold" fill="#000" stroke="#000" stroke-width="0.28" >Cntrl</text>
<line x1="378.8" y1="158.6" x2="378.8" y2="162.6" stroke="#111" stroke-width="1.2" />
<text x="378.8" y="172.4" font-size="9.5" text-anchor="middle" font-weight="bold" fill="#000" stroke="#000" stroke-width="0.28" >T1D</text>
<line x1="435.3" y1="158.6" x2="435.3" y2="162.6" stroke="#111" stroke-width="1.2" />
<text x="435.3" y="172.4" font-size="9.5" text-anchor="middle" font-weight="bold" fill="#000" stroke="#000" stroke-width="0.28" >Cntrl</text>
<line x1="491.2" y1="158.6" x2="491.2" y2="162.6" stroke="#111" stroke-width="1.2" />
<text x="491.2" y="172.4" font-size="9.5" text-anchor="middle" font-weight="bold" fill="#000" stroke="#000" stroke-width="0.28" >T1D</text>
<line x1="315" y1="179.3" x2="378.8" y2="179.3" stroke="#111" stroke-width="1.4" />
<line x1="430" y1="180.2" x2="493" y2="180.2" stroke="#111" stroke-width="1.4" />
<text x="317" y="192" font-size="9.5" text-anchor="start" font-weight="bold" fill="#000" textLength="61.8" lengthAdjust="spacingAndGlyphs" stroke="#000" stroke-width="0.28" >100 IU/ml IL-2</text>
<text x="491.3" y="192.0" font-size="9.8" text-anchor="end" font-weight="bold" fill="#000" textLength="56.8" lengthAdjust="spacingAndGlyphs" stroke="#000" stroke-width="0.28" >25 IU/ml IL-2</text>
<text x="327.7" y="10.5" font-size="10" text-anchor="start" font-weight="bold" fill="#000" textLength="42" lengthAdjust="spacingAndGlyphs" stroke="#000" stroke-width="0.28" >p=0.0191</text>
<line x1="333.4" y1="14.9" x2="366.6" y2="14.9" stroke="#111" stroke-width="1.4" />
<text x="441.3" y="71.6" font-size="10" text-anchor="start" font-weight="bold" fill="#000" textLength="43.2" lengthAdjust="spacingAndGlyphs" stroke="#000" stroke-width="0.28" >p=0.0047</text>
<line x1="445.4" y1="77.2" x2="477.7" y2="77.2" stroke="#111" stroke-width="1.4" />
<line x1="398.4" y1="25.5" x2="398.4" y2="157.5" stroke="#111" stroke-width="1.4" stroke-dasharray="2.6 3.35"/>
<text transform="translate(271.3,89.15) rotate(-90)" x="0" y="0" font-size="10" text-anchor="middle" font-weight="bold" textLength="131" lengthAdjust="spacingAndGlyphs" stroke="#000" stroke-width="0.28">% pSTAT5(pY694) of CD4</text>
<circle cx="322.5" cy="31.7" r="3.05" fill="#000"/>
<circle cx="330.9" cy="31.7" r="3.05" fill="#000"/>
<circle cx="322.5" cy="42.5" r="3.05" fill="#000"/>
<circle cx="330.9" cy="52.7" r="3.05" fill="#000"/>
<circle cx="322.6" cy="58.9" r="3.05" fill="#000"/>
<circle cx="314.3" cy="63.7" r="3.05" fill="#000"/>
<circle cx="330.8" cy="64" r="3.05" fill="#000"/>
<circle cx="314.3" cy="67.3" r="3.05" fill="#000"/>
<circle cx="322.6" cy="68.4" r="3.05" fill="#000"/>
<circle cx="318.5" cy="72" r="3.05" fill="#000"/>
<circle cx="335.1" cy="70.9" r="3.05" fill="#000"/>
<circle cx="314.3" cy="75.6" r="3.05" fill="#000"/>
<circle cx="326.7" cy="74" r="3.05" fill="#000"/>
<circle cx="322.6" cy="78.1" r="3.05" fill="#000"/>
<circle cx="330.8" cy="77.6" r="3.05" fill="#000"/>
<circle cx="314.9" cy="87.9" r="3.05" fill="#000"/>
<circle cx="318.5" cy="86.7" r="3.05" fill="#000"/>
<circle cx="326.7" cy="86.9" r="3.05" fill="#000"/>
<circle cx="331.3" cy="88.9" r="3.05" fill="#000"/>
<circle cx="312.3" cy="94.1" r="3.05" fill="#000"/>
<circle cx="322.6" cy="94.1" r="3.05" fill="#000"/>
<circle cx="332.8" cy="94.1" r="3.05" fill="#000"/>
<circle cx="314.3" cy="91.5" r="3.05" fill="#000"/>
<circle cx="330.8" cy="91" r="3.05" fill="#000"/>
<circle cx="309.2" cy="100.3" r="3.05" fill="#000"/>
<circle cx="314.3" cy="100.3" r="3.05" fill="#000"/>
<circle cx="320.5" cy="99.3" r="3.05" fill="#000"/>
<circle cx="325.7" cy="100.3" r="3.05" fill="#000"/>
<circle cx="330.8" cy="100.3" r="3.05" fill="#000"/>
<circle cx="334.9" cy="100.3" r="3.05" fill="#000"/>
<circle cx="310.2" cy="104.9" r="3.05" fill="#000"/>
<circle cx="322.6" cy="104.4" r="3.05" fill="#000"/>
<circle cx="332.8" cy="103.4" r="3.05" fill="#000"/>
<circle cx="321.5" cy="107" r="3.05" fill="#000"/>
<circle cx="331.5" cy="114.5" r="3.05" fill="#000"/>
<circle cx="316" cy="111.5" r="3.05" fill="#000"/>
<circle cx="314.3" cy="110" r="3.05" fill="#000"/>
<circle cx="318.5" cy="108.5" r="3.05" fill="#000"/>
<circle cx="328.7" cy="109.5" r="3.05" fill="#000"/>
<circle cx="334.9" cy="108.5" r="3.05" fill="#000"/>
<circle cx="310.2" cy="114.7" r="3.05" fill="#000"/>
<circle cx="320.5" cy="114.7" r="3.05" fill="#000"/>
<circle cx="325.7" cy="113.7" r="3.05" fill="#000"/>
<circle cx="314.3" cy="119.8" r="3.05" fill="#000"/>
<circle cx="322.6" cy="120.8" r="3.05" fill="#000"/>
<circle cx="329.8" cy="120.8" r="3.05" fill="#000"/>
<circle cx="334.9" cy="117.8" r="3.05" fill="#000"/>
<circle cx="314.3" cy="126.2" r="3.05" fill="#000"/>
<circle cx="314.3" cy="128.7" r="3.05" fill="#000"/>
<circle cx="330.8" cy="127.2" r="3.05" fill="#000"/>
<circle cx="322.6" cy="132.9" r="3.05" fill="#000"/>
<circle cx="326.7" cy="140" r="3.05" fill="#000"/>
<circle cx="314.3" cy="143.7" r="3.05" fill="#000"/>
<circle cx="322.6" cy="147.2" r="3.05" fill="#000"/>
<circle cx="331" cy="145.2" r="3.05" fill="#000"/>
<line x1="304" y1="98.5" x2="342.2" y2="98.5" stroke="#111" stroke-width="1.4" />
<circle cx="378.8" cy="34.4" r="2.3" fill="#fff" stroke="#000" stroke-width="1.3"/>
<circle cx="382.8" cy="72.2" r="2.3" fill="#fff" stroke="#000" stroke-width="1.3"/>
<circle cx="370.5" cy="77.2" r="2.3" fill="#fff" stroke="#000" stroke-width="1.3"/>
<circle cx="387.3" cy="77.6" r="2.3" fill="#fff" stroke="#000" stroke-width="1.3"/>
<circle cx="378.6" cy="80.3" r="2.3" fill="#fff" stroke="#000" stroke-width="1.3"/>
<circle cx="370.3" cy="83.7" r="2.3" fill="#fff" stroke="#000" stroke-width="1.3"/>
<circle cx="387.2" cy="83.7" r="2.3" fill="#fff" stroke="#000" stroke-width="1.3"/>
<circle cx="378.5" cy="89.3" r="2.3" fill="#fff" stroke="#000" stroke-width="1.3"/>
<circle cx="370.1" cy="101" r="2.3" fill="#fff" stroke="#000" stroke-width="1.3"/>
<circle cx="378.5" cy="103.7" r="2.3" fill="#fff" stroke="#000" stroke-width="1.3"/>
<circle cx="387.2" cy="102.2" r="2.3" fill="#fff" stroke="#000" stroke-width="1.3"/>
<circle cx="370.1" cy="108.4" r="2.3" fill="#fff" stroke="#000" stroke-width="1.3"/>
<circle cx="382.7" cy="107.8" r="2.3" fill="#fff" stroke="#000" stroke-width="1.3"/>
<circle cx="370.1" cy="111.9" r="2.3" fill="#fff" stroke="#000" stroke-width="1.3"/>
<circle cx="387.2" cy="111.9" r="2.3" fill="#fff" stroke="#000" stroke-width="1.3"/>
<circle cx="378.5" cy="115" r="2.3" fill="#fff" stroke="#000" stroke-width="1.3"/>
<circle cx="365.6" cy="118.1" r="2.3" fill="#fff" stroke="#000" stroke-width="1.3"/>
<circle cx="391.3" cy="119.5" r="2.3" fill="#fff" stroke="#000" stroke-width="1.3"/>
<circle cx="370.1" cy="122.2" r="2.3" fill="#fff" stroke="#000" stroke-width="1.3"/>
<circle cx="374.4" cy="121.2" r="2.3" fill="#fff" stroke="#000" stroke-width="1.3"/>
<circle cx="382.7" cy="122.2" r="2.3" fill="#fff" stroke="#000" stroke-width="1.3"/>
<circle cx="387.2" cy="122.8" r="2.3" fill="#fff" stroke="#000" stroke-width="1.3"/>
<circle cx="378.5" cy="124.9" r="2.3" fill="#fff" stroke="#000" stroke-width="1.3"/>
<circle cx="374.4" cy="129.4" r="2.3" fill="#fff" stroke="#000" stroke-width="1.3"/>
<circle cx="370.1" cy="133.5" r="2.3" fill="#fff" stroke="#000" stroke-width="1.3"/>
<circle cx="382.7" cy="132.5" r="2.3" fill="#fff" stroke="#000" stroke-width="1.3"/>
<circle cx="387.2" cy="133.1" r="2.3" fill="#fff" stroke="#000" stroke-width="1.3"/>
<circle cx="378.5" cy="137.2" r="2.3" fill="#fff" stroke="#000" stroke-width="1.3"/>
<circle cx="382.7" cy="141.7" r="2.3" fill="#fff" stroke="#000" stroke-width="1.3"/>
<circle cx="370.1" cy="146.3" r="2.3" fill="#fff" stroke="#000" stroke-width="1.3"/>
<circle cx="378.5" cy="146.9" r="2.3" fill="#fff" stroke="#000" stroke-width="1.3"/>
<circle cx="387.2" cy="146.9" r="2.3" fill="#fff" stroke="#000" stroke-width="1.3"/>
<line x1="360.4" y1="112.3" x2="394.4" y2="112.3" stroke="#111" stroke-width="1.4" />
<rect x="432.15" y="84.25" width="5.9" height="5.9" fill="#000"/>
<rect x="432.05" y="101.45" width="5.9" height="5.9" fill="#000"/>
<rect x="436.25" y="103.55" width="5.9" height="5.9" fill="#000"/>
<rect x="423.35" y="107.25" width="5.9" height="5.9" fill="#000"/>
<rect x="438.85" y="107.85" width="5.9" height="5.9" fill="#000"/>
<rect x="423.05" y="111.05" width="5.9" height="5.9" fill="#000"/>
<rect x="431.85" y="110.45" width="5.9" height="5.9" fill="#000"/>
<rect x="440.85" y="111.65" width="5.9" height="5.9" fill="#000"/>
<rect x="421.85" y="113.85" width="5.9" height="5.9" fill="#000"/>
<rect x="442.85" y="115.25" width="5.9" height="5.9" fill="#000"/>
<rect x="418.95" y="116.65" width="5.9" height="5.9" fill="#000"/>
<rect x="428.55" y="115.05" width="5.9" height="5.9" fill="#000"/>
<rect x="433.55" y="114.55" width="5.9" height="5.9" fill="#000"/>
<rect x="426.25" y="113.85" width="5.9" height="5.9" fill="#000"/>
<rect x="437.25" y="115.55" width="5.9" height="5.9" fill="#000"/>
<rect x="444.35" y="118.75" width="5.9" height="5.9" fill="#000"/>
<rect x="427.55" y="119.55" width="5.9" height="5.9" fill="#000"/>
<rect x="433.05" y="119.55" width="5.9" height="5.9" fill="#000"/>
<rect x="437.55" y="120.55" width="5.9" height="5.9" fill="#000"/>
<rect x="418.95" y="118.55" width="5.9" height="5.9" fill="#000"/>
<rect x="422.55" y="122.55" width="5.9" height="5.9" fill="#000"/>
<rect x="429.05" y="124.05" width="5.9" height="5.9" fill="#000"/>
<rect x="434.55" y="123.55" width="5.9" height="5.9" fill="#000"/>
<rect x="444.75" y="122.65" width="5.9" height="5.9" fill="#000"/>
<rect x="440.05" y="124.05" width="5.9" height="5.9" fill="#000"/>
<rect x="422.85" y="126.55" width="5.9" height="5.9" fill="#000"/>
<rect x="428.05" y="128.05" width="5.9" height="5.9" fill="#000"/>
<rect x="435.55" y="127.55" width="5.9" height="5.9" fill="#000"/>
<rect x="439.05" y="128.55" width="5.9" height="5.9" fill="#000"/>
<rect x="422.85" y="130.45" width="5.9" height="5.9" fill="#000"/>
<rect x="431.65" y="130.45" width="5.9" height="5.9" fill="#000"/>
<rect x="439.95" y="130.75" width="5.9" height="5.9" fill="#000"/>
<rect x="444.55" y="138.05" width="5.9" height="5.9" fill="#000"/>
<rect x="423.35" y="141.65" width="5.9" height="5.9" fill="#000"/>
<rect x="426.95" y="142.35" width="5.9" height="5.9" fill="#000"/>
<rect x="435.35" y="140.85" width="5.9" height="5.9" fill="#000"/>
<rect x="439.65" y="142.35" width="5.9" height="5.9" fill="#000"/>
<rect x="431.85" y="145.85" width="5.9" height="5.9" fill="#000"/>
<line x1="416.3" y1="125.2" x2="454" y2="125.2" stroke="#111" stroke-width="1.4" />
<rect x="488.30" y="88.30" width="4.8" height="4.8" fill="#fff" stroke="#000" stroke-width="1.3"/>
<rect x="488.30" y="112.20" width="4.8" height="4.8" fill="#fff" stroke="#000" stroke-width="1.3"/>
<rect x="500.70" y="118.80" width="4.8" height="4.8" fill="#fff" stroke="#000" stroke-width="1.3"/>
<rect x="480.10" y="121.20" width="4.8" height="4.8" fill="#fff" stroke="#000" stroke-width="1.3"/>
<rect x="484.20" y="121.80" width="4.8" height="4.8" fill="#fff" stroke="#000" stroke-width="1.3"/>
<rect x="492.40" y="121.80" width="4.8" height="4.8" fill="#fff" stroke="#000" stroke-width="1.3"/>
<rect x="496.60" y="123.30" width="4.8" height="4.8" fill="#fff" stroke="#000" stroke-width="1.3"/>
<rect x="480.10" y="125.30" width="4.8" height="4.8" fill="#fff" stroke="#000" stroke-width="1.3"/>
<rect x="488.30" y="126.00" width="4.8" height="4.8" fill="#fff" stroke="#000" stroke-width="1.3"/>
<rect x="480.10" y="130.10" width="4.8" height="4.8" fill="#fff" stroke="#000" stroke-width="1.3"/>
<rect x="484.20" y="131.50" width="4.8" height="4.8" fill="#fff" stroke="#000" stroke-width="1.3"/>
<rect x="492.40" y="131.50" width="4.8" height="4.8" fill="#fff" stroke="#000" stroke-width="1.3"/>
<rect x="496.60" y="133.20" width="4.8" height="4.8" fill="#fff" stroke="#000" stroke-width="1.3"/>
<rect x="480.10" y="136.20" width="4.8" height="4.8" fill="#fff" stroke="#000" stroke-width="1.3"/>
<rect x="488.30" y="136.20" width="4.8" height="4.8" fill="#fff" stroke="#000" stroke-width="1.3"/>
<rect x="500.70" y="137.30" width="4.8" height="4.8" fill="#fff" stroke="#000" stroke-width="1.3"/>
<rect x="496.60" y="140.40" width="4.8" height="4.8" fill="#fff" stroke="#000" stroke-width="1.3"/>
<rect x="480.10" y="143.40" width="4.8" height="4.8" fill="#fff" stroke="#000" stroke-width="1.3"/>
<rect x="488.30" y="144.50" width="4.8" height="4.8" fill="#fff" stroke="#000" stroke-width="1.3"/>
<rect x="500.70" y="148.60" width="4.8" height="4.8" fill="#fff" stroke="#000" stroke-width="1.3"/>
<rect x="484.20" y="149.60" width="4.8" height="4.8" fill="#fff" stroke="#000" stroke-width="1.3"/>
<rect x="492.40" y="150.00" width="4.8" height="4.8" fill="#fff" stroke="#000" stroke-width="1.3"/>
<rect x="480.10" y="152.70" width="4.8" height="4.8" fill="#fff" stroke="#000" stroke-width="1.3"/>
<rect x="488.30" y="153.70" width="4.8" height="4.8" fill="#fff" stroke="#000" stroke-width="1.3"/>
<line x1="472.2" y1="136" x2="510.3" y2="136" stroke="#111" stroke-width="1.4" />
<text x="-0.1" y="218.1" font-size="15.5" text-anchor="start" font-weight="bold" fill="#000" stroke="#000" stroke-width="0.28" >C</text>
<line x1="36.5" y1="230.87" x2="36.5" y2="355" stroke="#111" stroke-width="1.4" />
<line x1="32.7" y1="355" x2="197.1" y2="355" stroke="#111" stroke-width="1.4" />
<line x1="32.7" y1="354.9" x2="36.5" y2="354.9" stroke="#111" stroke-width="1.3" />
<text x="30.8" y="358.9" font-size="10" text-anchor="end" font-weight="bold" fill="#000" stroke="#000" stroke-width="0.28" >0</text>
<line x1="32.7" y1="337.27" x2="36.5" y2="337.27" stroke="#111" stroke-width="1.3" />
<text x="30.8" y="341.267" font-size="10" text-anchor="end" font-weight="bold" fill="#000" stroke="#000" stroke-width="0.28" >10</text>
<line x1="32.7" y1="319.63" x2="36.5" y2="319.63" stroke="#111" stroke-width="1.3" />
<text x="30.8" y="323.63399999999996" font-size="10" text-anchor="end" font-weight="bold" fill="#000" stroke="#000" stroke-width="0.28" >20</text>
<line x1="32.7" y1="302" x2="36.5" y2="302" stroke="#111" stroke-width="1.3" />
<text x="30.8" y="306.001" font-size="10" text-anchor="end" font-weight="bold" fill="#000" stroke="#000" stroke-width="0.28" >30</text>
<line x1="32.7" y1="284.37" x2="36.5" y2="284.37" stroke="#111" stroke-width="1.3" />
<text x="30.8" y="288.36799999999994" font-size="10" text-anchor="end" font-weight="bold" fill="#000" stroke="#000" stroke-width="0.28" >40</text>
<line x1="32.7" y1="266.73" x2="36.5" y2="266.73" stroke="#111" stroke-width="1.3" />
<text x="30.8" y="270.73499999999996" font-size="10" text-anchor="end" font-weight="bold" fill="#000" stroke="#000" stroke-width="0.28" >50</text>
<line x1="32.7" y1="249.1" x2="36.5" y2="249.1" stroke="#111" stroke-width="1.3" />
<text x="30.8" y="253.10199999999998" font-size="10" text-anchor="end" font-weight="bold" fill="#000" stroke="#000" stroke-width="0.28" >60</text>
<line x1="32.7" y1="231.47" x2="36.5" y2="231.47" stroke="#111" stroke-width="1.3" />
<text x="30.8" y="235.46899999999997" font-size="10" text-anchor="end" font-weight="bold" fill="#000" stroke="#000" stroke-width="0.28" >70</text>
<rect x="43.3" y="288.9" width="26.5" height="66.10000000000002" fill="#000"/>
<rect x="83.8" y="325.5" width="25" height="29.5" fill="#fff" stroke="#000" stroke-width="1.4"/>
<rect x="122.4" y="248.2" width="27.2" height="106.80000000000001" fill="#000"/>
<rect x="163.1" y="254.8" width="26" height="100.19999999999999" fill="#fff" stroke="#000" stroke-width="1.4"/>
<line x1="56.5" y1="283.1" x2="56.5" y2="288.9" stroke="#111" stroke-width="1.3" />
<line x1="49.5" y1="283.1" x2="63.5" y2="283.1" stroke="#111" stroke-width="1.4" />
<line x1="96.4" y1="320.2" x2="96.4" y2="324.8" stroke="#111" stroke-width="1.3" />
<line x1="89.5" y1="320.2" x2="103.3" y2="320.2" stroke="#111" stroke-width="1.4" />
<line x1="136.2" y1="239.7" x2="136.2" y2="248.2" stroke="#111" stroke-width="1.3" />
<line x1="129.1" y1="239.7" x2="143.3" y2="239.7" stroke="#111" stroke-width="1.4" />
<line x1="176.3" y1="242.2" x2="176.3" y2="254.1" stroke="#111" stroke-width="1.3" />
<line x1="169.25" y1="242.2" x2="183.35" y2="242.2" stroke="#111" stroke-width="1.4" />
<line x1="56.4" y1="355" x2="56.4" y2="358.7" stroke="#111" stroke-width="1.2" />
<text x="54.15" y="367.8" font-size="10" text-anchor="middle" font-weight="bold" fill="#000" stroke="#000" stroke-width="0.28" >Cntrl</text>
<line x1="96.5" y1="355" x2="96.5" y2="358.7" stroke="#111" stroke-width="1.2" />
<text x="93.0" y="367.8" font-size="10" text-anchor="middle" font-weight="bold" fill="#000" stroke="#000" stroke-width="0.28" >T1D</text>
<line x1="136" y1="355" x2="136" y2="358.7" stroke="#111" stroke-width="1.2" />
<text x="133.25" y="367.8" font-size="10" text-anchor="middle" font-weight="bold" fill="#000" stroke="#000" stroke-width="0.28" >Cntrl</text>
<line x1="176" y1="355" x2="176" y2="358.7" stroke="#111" stroke-width="1.2" />
<text x="173.1" y="367.8" font-size="10" text-anchor="middle" font-weight="bold" fill="#000" stroke="#000" stroke-width="0.28" >T1D</text>
<line x1="52.4" y1="375.8" x2="99.2" y2="375.8" stroke="#111" stroke-width="1.4" />
<line x1="133.8" y1="375.8" x2="181.5" y2="375.8" stroke="#111" stroke-width="1.4" />
<text x="76.5" y="387.7" font-size="10" text-anchor="middle" font-weight="bold" fill="#000" textLength="21.8" lengthAdjust="spacingAndGlyphs" stroke="#000" stroke-width="0.28" >IL-15</text>
<text x="158.5" y="387.7" font-size="10" text-anchor="middle" font-weight="bold" fill="#000" textLength="15.4" lengthAdjust="spacingAndGlyphs" stroke="#000" stroke-width="0.28" >IL-7</text>
<text x="57.1" y="255.3" font-size="9.2" text-anchor="start" font-weight="bold" fill="#000" textLength="39.2" lengthAdjust="spacingAndGlyphs" stroke="#000" stroke-width="0.28" >p=0.0004</text>
<line x1="56.5" y1="261.9" x2="92.5" y2="261.9" stroke="#111" stroke-width="1.4" />
<text x="151.5" y="217" font-size="10" text-anchor="start" font-weight="bold" fill="#000" textLength="10.3" lengthAdjust="spacingAndGlyphs" stroke="#000" stroke-width="0.28" >ns</text>
<line x1="143.5" y1="221.5" x2="167.7" y2="221.5" stroke="#111" stroke-width="1.4" />
<text transform="translate(10.8,293.35) rotate(-90)" x="0" y="0" font-size="10" text-anchor="middle" font-weight="bold" textLength="124" lengthAdjust="spacingAndGlyphs" stroke="#000" stroke-width="0.28">% pSTAT5 (Y694) of CD4</text>
<text x="259.3" y="218.1" font-size="15.4" text-anchor="start" font-weight="bold" fill="#000" stroke="#000" stroke-width="0.28" >D</text>
<line x1="304.7" y1="212.45" x2="304.7" y2="355.8" stroke="#111" stroke-width="1.4" />
<line x1="300.6" y1="355.8" x2="518.7" y2="355.8" stroke="#111" stroke-width="1.4" />
<line x1="300.6" y1="355.8" x2="304.7" y2="355.8" stroke="#111" stroke-width="1.3" />
<text x="298.8" y="359.8" font-size="10" text-anchor="end" font-weight="bold" fill="#000" stroke="#000" stroke-width="0.28" >0</text>
<line x1="300.6" y1="327.25" x2="304.7" y2="327.25" stroke="#111" stroke-width="1.3" />
<text x="298.8" y="331.25" font-size="10" text-anchor="end" font-weight="bold" fill="#000" stroke="#000" stroke-width="0.28" >1</text>
<line x1="300.6" y1="298.7" x2="304.7" y2="298.7" stroke="#111" stroke-width="1.3" />
<text x="298.8" y="302.7" font-size="10" text-anchor="end" font-weight="bold" fill="#000" stroke="#000" stroke-width="0.28" >2</text>
<line x1="300.6" y1="270.15" x2="304.7" y2="270.15" stroke="#111" stroke-width="1.3" />
<text x="298.8" y="274.15" font-size="10" text-anchor="end" font-weight="bold" fill="#000" stroke="#000" stroke-width="0.28" >3</text>
<line x1="300.6" y1="241.6" x2="304.7" y2="241.6" stroke="#111" stroke-width="1.3" />
<text x="298.8" y="245.60000000000002" font-size="10" text-anchor="end" font-weight="bold" fill="#000" stroke="#000" stroke-width="0.28" >4</text>
<line x1="300.6" y1="213.05" x2="304.7" y2="213.05" stroke="#111" stroke-width="1.3" />
<text x="298.8" y="217.05" font-size="10" text-anchor="end" font-weight="bold" fill="#000" stroke="#000" stroke-width="0.28" >5</text>
<line x1="322.6" y1="355.8" x2="322.6" y2="359.9" stroke="#111" stroke-width="1.2" />
<text x="321.6" y="370.1" font-size="10" text-anchor="middle" font-weight="bold" fill="#000" stroke="#000" stroke-width="0.28" >Cntrl</text>
<line x1="358.2" y1="355.8" x2="358.2" y2="359.9" stroke="#111" stroke-width="1.2" />
<text x="358.09999999999997" y="370.1" font-size="10" text-anchor="middle" font-weight="bold" fill="#000" stroke="#000" stroke-width="0.28" >T1D</text>
<line x1="393.8" y1="355.8" x2="393.8" y2="359.9" stroke="#111" stroke-width="1.2" />
<text x="392.8" y="370.1" font-size="10" text-anchor="middle" font-weight="bold" fill="#000" stroke="#000" stroke-width="0.28" >Cntrl</text>
<line x1="429.6" y1="355.8" x2="429.6" y2="359.9" stroke="#111" stroke-width="1.2" />
<text x="429.5" y="370.1" font-size="10" text-anchor="middle" font-weight="bold" fill="#000" stroke="#000" stroke-width="0.28" >T1D</text>
<line x1="465.1" y1="355.8" x2="465.1" y2="359.9" stroke="#111" stroke-width="1.2" />
<text x="464.1" y="370.1" font-size="10" text-anchor="middle" font-weight="bold" fill="#000" stroke="#000" stroke-width="0.28" >Cntrl</text>
<line x1="500.8" y1="355.8" x2="500.8" y2="359.9" stroke="#111" stroke-width="1.2" />
<text x="500.7" y="370.1" font-size="10" text-anchor="middle" font-weight="bold" fill="#000" stroke="#000" stroke-width="0.28" >T1D</text>
<line x1="315.9" y1="376" x2="364.5" y2="376" stroke="#111" stroke-width="1.4" />
<line x1="388.8" y1="376.3" x2="438.5" y2="376.3" stroke="#111" stroke-width="1.4" />
<line x1="457.2" y1="376.3" x2="506.2" y2="376.3" stroke="#111" stroke-width="1.4" />
<text x="338" y="387.7" font-size="10" text-anchor="middle" font-weight="bold" fill="#000" textLength="16.9" lengthAdjust="spacingAndGlyphs" stroke="#000" stroke-width="0.28" >IL-2</text>
<text x="414.2" y="387.7" font-size="10" text-anchor="middle" font-weight="bold" fill="#000" textLength="22.4" lengthAdjust="spacingAndGlyphs" stroke="#000" stroke-width="0.28" >IL-15</text>
<text x="482.4" y="387.7" font-size="10" text-anchor="middle" font-weight="bold" fill="#000" textLength="16.2" lengthAdjust="spacingAndGlyphs" stroke="#000" stroke-width="0.28" >IL-7</text>
<text x="326.2" y="224.1" font-size="9.5" text-anchor="start" font-weight="bold" fill="#000" textLength="39.3" lengthAdjust="spacingAndGlyphs" stroke="#000" stroke-width="0.28" >p=0.0067</text>
<line x1="323.2" y1="227.5" x2="369.9" y2="227.5" stroke="#111" stroke-width="1.4" />
<text x="392.8" y="235.2" font-size="9.5" text-anchor="start" font-weight="bold" fill="#000" textLength="39.7" lengthAdjust="spacingAndGlyphs" stroke="#000" stroke-width="0.28" >p=0.0108</text>
<line x1="392.5" y1="240.6" x2="434" y2="240.6" stroke="#111" stroke-width="1.4" />
<text x="478.3" y="252.2" font-size="10" text-anchor="start" font-weight="bold" fill="#000" textLength="10.4" lengthAdjust="spacingAndGlyphs" stroke="#000" stroke-width="0.28" >ns</text>
<line x1="464.4" y1="257.6" x2="504" y2="257.6" stroke="#111" stroke-width="1.4" />
<text transform="translate(270.9,283.4) rotate(-90)" x="0" y="0" font-size="10" text-anchor="middle" font-weight="bold" textLength="90.6" lengthAdjust="spacingAndGlyphs" stroke="#000" stroke-width="0.28">MFI Fold Increase</text>
<text transform="translate(283.8,283.9) rotate(-90)" x="0" y="0" font-size="10" text-anchor="middle" font-weight="bold" textLength="116" lengthAdjust="spacingAndGlyphs" stroke="#000" stroke-width="0.28">pSTAT5(pY694) of CD4</text>
<circle cx="314" cy="244.8" r="3.05" fill="#000"/>
<circle cx="322.3" cy="249.6" r="3.05" fill="#000"/>
<circle cx="322.3" cy="253.4" r="3.05" fill="#000"/>
<circle cx="313.4" cy="258" r="3.05" fill="#000"/>
<circle cx="317.3" cy="256.9" r="3.05" fill="#000"/>
<circle cx="326.5" cy="256.5" r="3.05" fill="#000"/>
<circle cx="331.1" cy="258" r="3.05" fill="#000"/>
<circle cx="322.3" cy="259.2" r="3.05" fill="#000"/>
<circle cx="314" cy="267" r="3.05" fill="#000"/>
<circle cx="331.2" cy="267" r="3.05" fill="#000"/>
<circle cx="322.7" cy="274.4" r="3.05" fill="#000"/>
<circle cx="322" cy="283.2" r="3.05" fill="#000"/>
<circle cx="330.9" cy="281.2" r="3.05" fill="#000"/>
<line x1="310.4" y1="261.3" x2="334.8" y2="261.3" stroke="#111" stroke-width="1.4" />
<circle cx="357.6" cy="248.4" r="2.3" fill="#fff" stroke="#000" stroke-width="1.3"/>
<circle cx="366.3" cy="252.6" r="2.3" fill="#fff" stroke="#000" stroke-width="1.3"/>
<circle cx="349.3" cy="259.4" r="2.3" fill="#fff" stroke="#000" stroke-width="1.3"/>
<circle cx="357.6" cy="259.4" r="2.3" fill="#fff" stroke="#000" stroke-width="1.3"/>
<circle cx="362.4" cy="263.8" r="2.3" fill="#fff" stroke="#000" stroke-width="1.3"/>
<circle cx="349.3" cy="265.5" r="2.3" fill="#fff" stroke="#000" stroke-width="1.3"/>
<circle cx="366.3" cy="266.7" r="2.3" fill="#fff" stroke="#000" stroke-width="1.3"/>
<circle cx="357.6" cy="270.9" r="2.3" fill="#fff" stroke="#000" stroke-width="1.3"/>
<circle cx="349.3" cy="275.2" r="2.3" fill="#fff" stroke="#000" stroke-width="1.3"/>
<circle cx="362.4" cy="274" r="2.3" fill="#fff" stroke="#000" stroke-width="1.3"/>
<circle cx="366.3" cy="276" r="2.3" fill="#fff" stroke="#000" stroke-width="1.3"/>
<circle cx="357.6" cy="281.3" r="2.3" fill="#fff" stroke="#000" stroke-width="1.3"/>
<circle cx="366.3" cy="282.6" r="2.3" fill="#fff" stroke="#000" stroke-width="1.3"/>
<circle cx="349.3" cy="291.6" r="2.3" fill="#fff" stroke="#000" stroke-width="1.3"/>
<circle cx="357.6" cy="291.1" r="2.3" fill="#fff" stroke="#000" stroke-width="1.3"/>
<circle cx="357.6" cy="299.6" r="2.3" fill="#fff" stroke="#000" stroke-width="1.3"/>
<circle cx="357.6" cy="320.4" r="2.3" fill="#fff" stroke="#000" stroke-width="1.3"/>
<line x1="347.3" y1="275.2" x2="370.5" y2="275.2" stroke="#111" stroke-width="1.4" />
<rect x="390.60" y="247.30" width="6.2" height="6.2" fill="#000"/>
<rect x="390.60" y="262.80" width="6.2" height="6.2" fill="#000"/>
<rect x="382.30" y="267.10" width="6.2" height="6.2" fill="#000"/>
<rect x="382.30" y="275.90" width="6.2" height="6.2" fill="#000"/>
<rect x="390.60" y="272.30" width="6.2" height="6.2" fill="#000"/>
<rect x="396.00" y="271.30" width="6.2" height="6.2" fill="#000"/>
<rect x="399.50" y="272.30" width="6.2" height="6.2" fill="#000"/>
<rect x="399.50" y="276.60" width="6.2" height="6.2" fill="#000"/>
<rect x="393.20" y="275.10" width="6.2" height="6.2" fill="#000"/>
<rect x="382.30" y="285.70" width="6.2" height="6.2" fill="#000"/>
<rect x="390.60" y="282.90" width="6.2" height="6.2" fill="#000"/>
<rect x="394.60" y="284.30" width="6.2" height="6.2" fill="#000"/>
<rect x="399.50" y="288.60" width="6.2" height="6.2" fill="#000"/>
<rect x="390.60" y="291.70" width="6.2" height="6.2" fill="#000"/>
<line x1="382.1" y1="278.7" x2="406.2" y2="278.7" stroke="#111" stroke-width="1.4" />
<rect x="422.80" y="276.20" width="4.8" height="4.8" fill="#fff" stroke="#000" stroke-width="1.3"/>
<rect x="417.60" y="279.50" width="4.8" height="4.8" fill="#fff" stroke="#000" stroke-width="1.3"/>
<rect x="430.70" y="278.20" width="4.8" height="4.8" fill="#fff" stroke="#000" stroke-width="1.3"/>
<rect x="435.90" y="280.50" width="4.8" height="4.8" fill="#fff" stroke="#000" stroke-width="1.3"/>
<rect x="423.00" y="282.70" width="4.8" height="4.8" fill="#fff" stroke="#000" stroke-width="1.3"/>
<rect x="428.20" y="282.70" width="4.8" height="4.8" fill="#fff" stroke="#000" stroke-width="1.3"/>
<rect x="417.60" y="289.10" width="4.8" height="4.8" fill="#fff" stroke="#000" stroke-width="1.3"/>
<rect x="422.80" y="288.20" width="4.8" height="4.8" fill="#fff" stroke="#000" stroke-width="1.3"/>
<rect x="430.70" y="288.40" width="4.8" height="4.8" fill="#fff" stroke="#000" stroke-width="1.3"/>
<rect x="435.90" y="289.70" width="4.8" height="4.8" fill="#fff" stroke="#000" stroke-width="1.3"/>
<rect x="426.90" y="292.00" width="4.8" height="4.8" fill="#fff" stroke="#000" stroke-width="1.3"/>
<rect x="426.60" y="301.00" width="4.8" height="4.8" fill="#fff" stroke="#000" stroke-width="1.3"/>
<line x1="420.5" y1="287" x2="441.5" y2="287" stroke="#111" stroke-width="1.4" />
<polygon points="456.40,267.40 460.00,274.00 452.80,274.00" fill="#000"/>
<polygon points="469.50,265.10 473.10,271.70 465.90,271.70" fill="#000"/>
<polygon points="473.80,269.40 477.40,276.00 470.20,276.00" fill="#000"/>
<polygon points="465.00,272.30 468.60,278.90 461.40,278.90" fill="#000"/>
<polygon points="456.40,282.20 460.00,288.80 452.80,288.80" fill="#000"/>
<polygon points="465.00,283.30 468.60,289.90 461.40,289.90" fill="#000"/>
<polygon points="456.40,290.30 460.00,296.90 452.80,296.90" fill="#000"/>
<polygon points="469.10,289.10 472.70,295.70 465.50,295.70" fill="#000"/>
<polygon points="473.80,291.20 477.40,297.80 470.20,297.80" fill="#000"/>
<polygon points="465.00,294.70 468.60,301.30 461.40,301.30" fill="#000"/>
<polygon points="461.00,286.80 464.60,293.40 457.40,293.40" fill="#000"/>
<line x1="452.9" y1="284.9" x2="477.8" y2="284.9" stroke="#111" stroke-width="1.4" />
<polygon points="500.80,275.00 503.60,280.00 498.00,280.00" fill="#fff" stroke="#000" stroke-width="1.25" stroke-linejoin="miter"/>
<polygon points="509.30,273.10 512.10,278.10 506.50,278.10" fill="#fff" stroke="#000" stroke-width="1.25" stroke-linejoin="miter"/>
<polygon points="500.80,285.10 503.60,290.10 498.00,290.10" fill="#fff" stroke="#000" stroke-width="1.25" stroke-linejoin="miter"/>
<polygon points="509.30,288.00 512.10,293.00 506.50,293.00" fill="#fff" stroke="#000" stroke-width="1.25" stroke-linejoin="miter"/>
<polygon points="500.80,294.10 503.60,299.10 498.00,299.10" fill="#fff" stroke="#000" stroke-width="1.25" stroke-linejoin="miter"/>
<line x1="490" y1="285.9" x2="512.8" y2="285.9" stroke="#111" stroke-width="1.4" />
</svg>
</body></html>
